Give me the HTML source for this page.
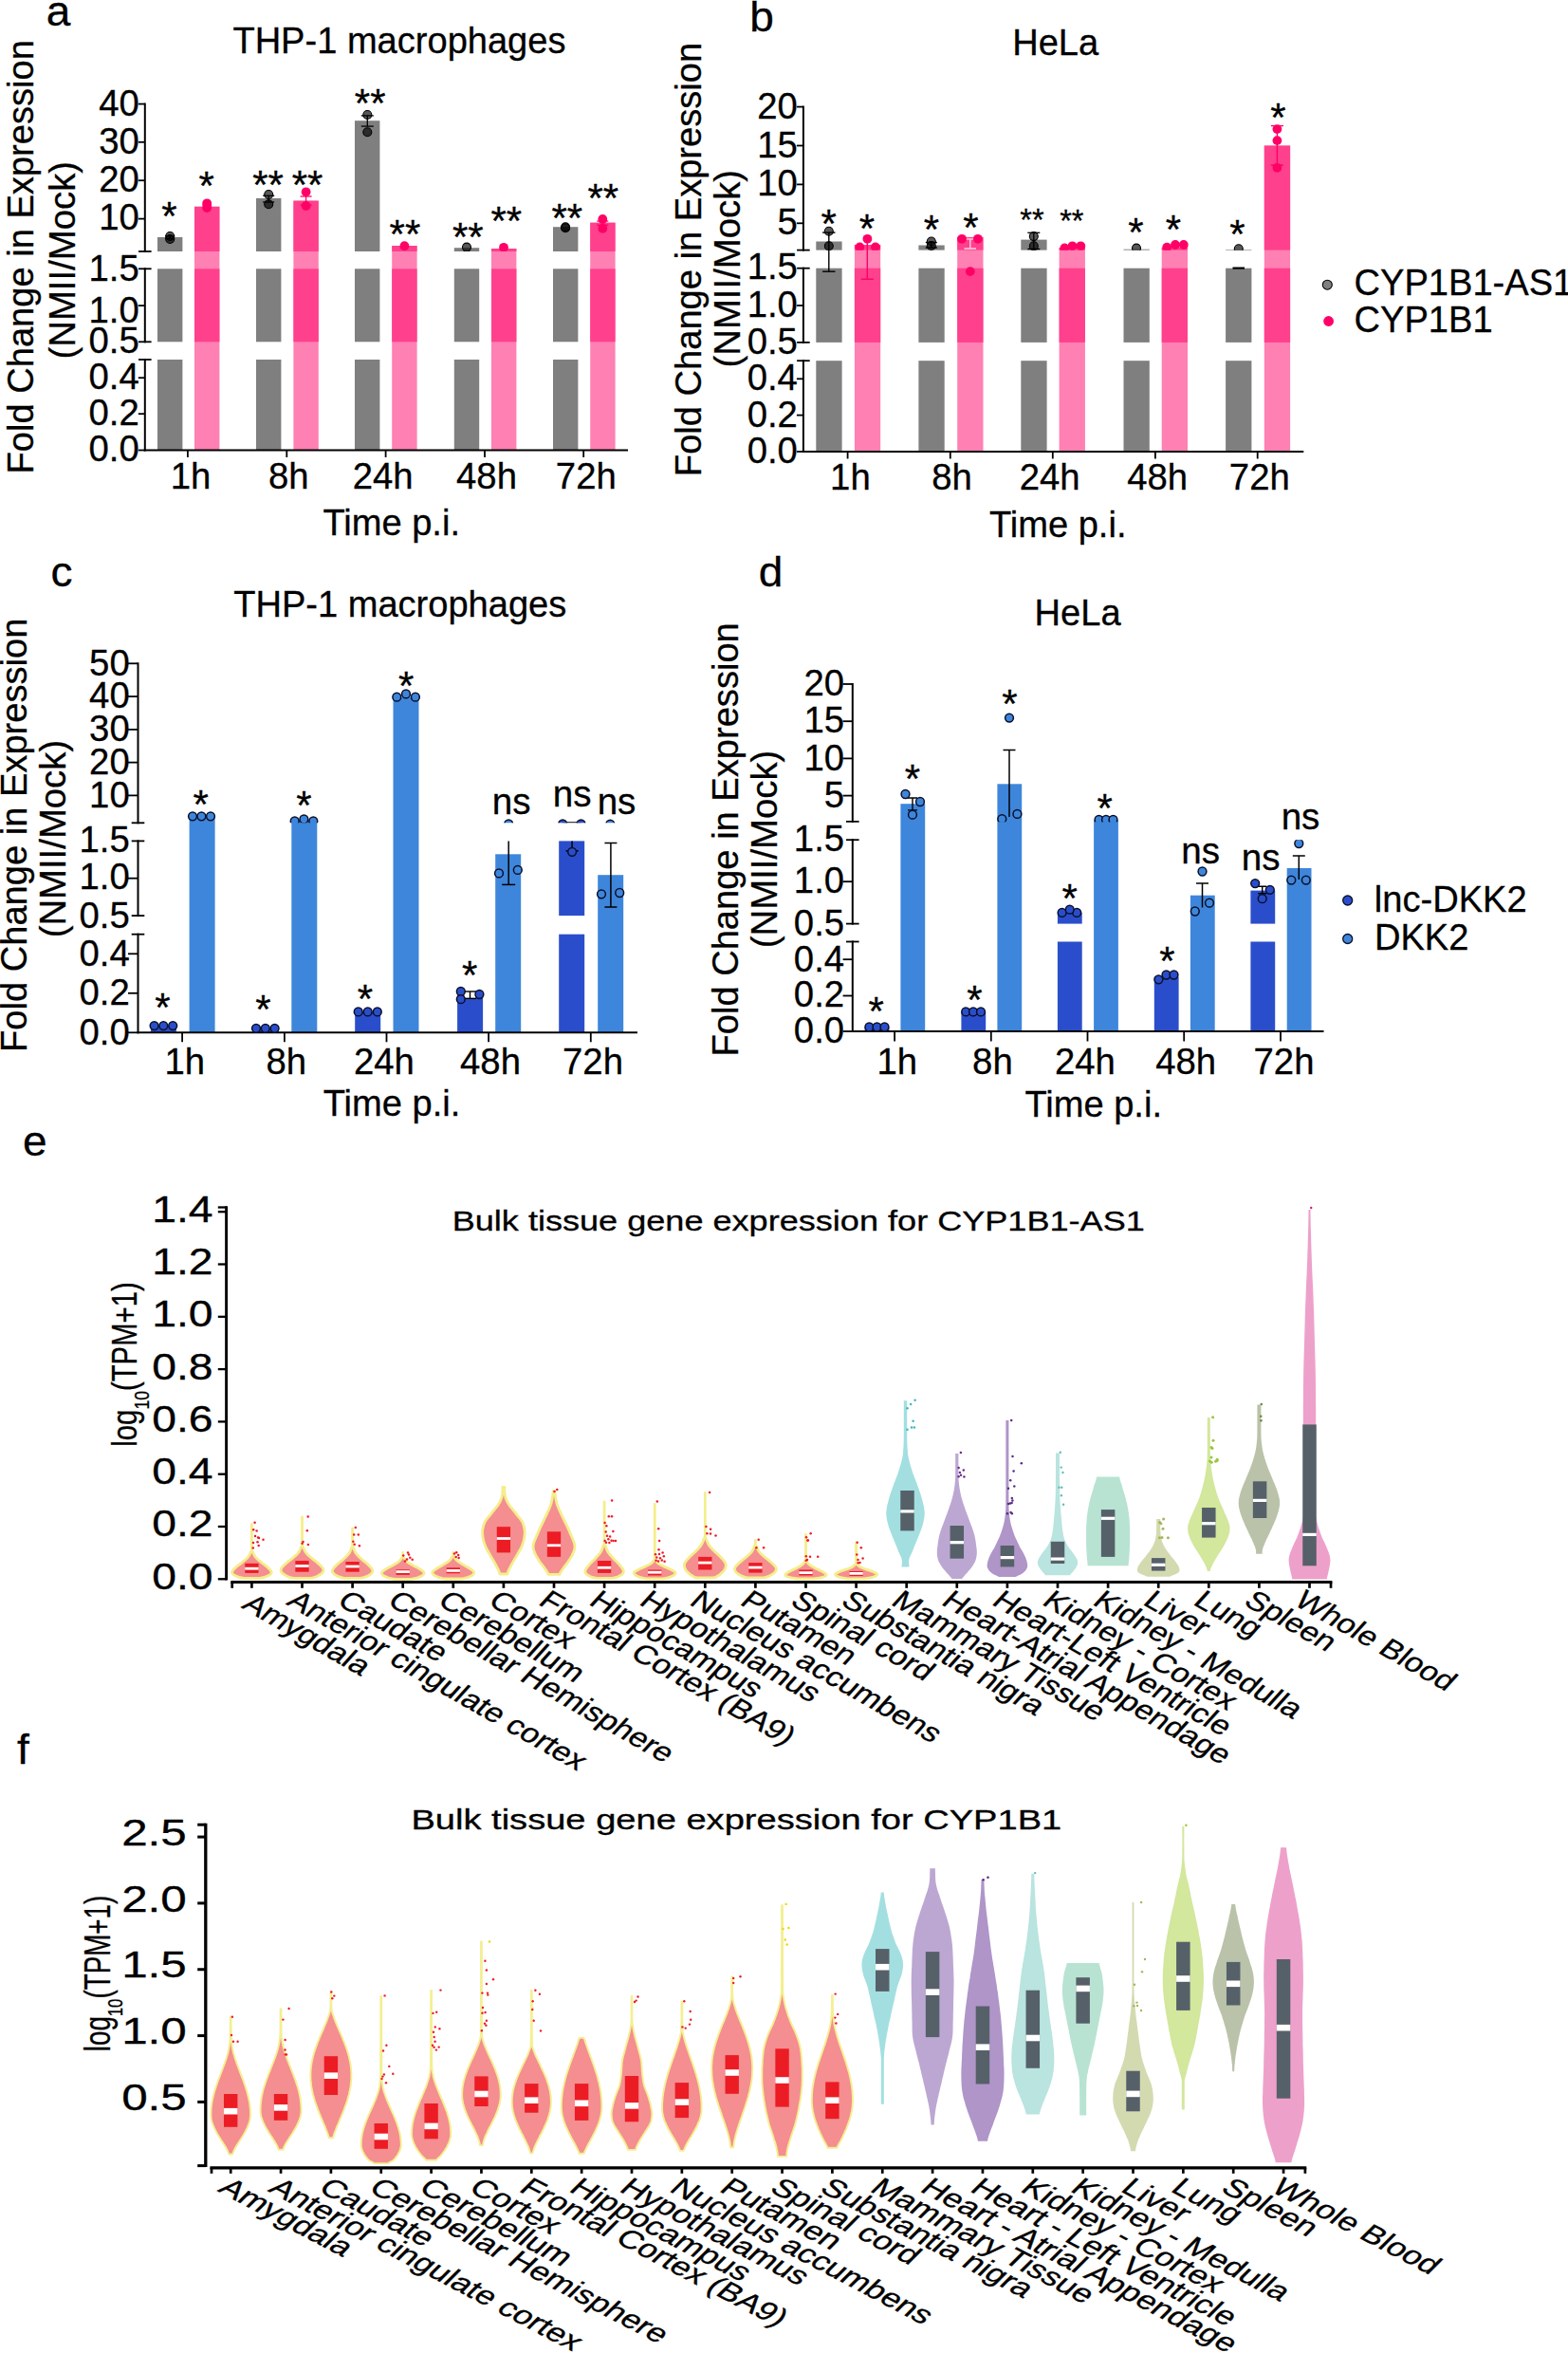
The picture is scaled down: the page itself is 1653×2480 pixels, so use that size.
<!DOCTYPE html>
<html><head><meta charset="utf-8"><title>Figure</title>
<style>html,body{margin:0;padding:0;background:#fff}svg{display:block}text{font-family:"Liberation Sans", Arial, Helvetica, sans-serif;stroke:#000;stroke-width:0.3px}</style>
</head><body>
<svg width="1653" height="2480" viewBox="0 0 1653 2480">
<rect x="0" y="0" width="1653" height="2480" fill="#fff"/>
<text transform="translate(48.80,27.30) scale(1.0177,1)" font-size="45.20" text-anchor="start" fill="#000">a</text>
<text transform="translate(245.40,55.50) scale(0.9687,1)" font-size="39.30" text-anchor="start" fill="#000">THP-1 macrophages</text>
<text transform="translate(35.30,270.80) rotate(-90) scale(0.9695,1)" font-size="39.30" text-anchor="middle" fill="#000">Fold Change in Expression</text>
<text transform="translate(79.00,274.20) rotate(-90) scale(0.9746,1)" font-size="39.30" text-anchor="middle" fill="#000">(NMII/Mock)</text>
<rect x="166.00" y="250.00" width="26.40" height="15.00" fill="#7f7f7f"/>
<rect x="166.00" y="283.30" width="26.40" height="77.00" fill="#7f7f7f"/>
<rect x="166.00" y="379.00" width="26.40" height="95.50" fill="#7f7f7f"/>
<rect x="270.00" y="209.00" width="26.40" height="56.00" fill="#7f7f7f"/>
<rect x="270.00" y="283.30" width="26.40" height="77.00" fill="#7f7f7f"/>
<rect x="270.00" y="379.00" width="26.40" height="95.50" fill="#7f7f7f"/>
<rect x="374.00" y="127.20" width="26.40" height="137.80" fill="#7f7f7f"/>
<rect x="374.00" y="283.30" width="26.40" height="77.00" fill="#7f7f7f"/>
<rect x="374.00" y="379.00" width="26.40" height="95.50" fill="#7f7f7f"/>
<rect x="478.80" y="261.20" width="26.40" height="3.80" fill="#7f7f7f"/>
<rect x="478.80" y="283.30" width="26.40" height="77.00" fill="#7f7f7f"/>
<rect x="478.80" y="379.00" width="26.40" height="95.50" fill="#7f7f7f"/>
<rect x="583.00" y="239.20" width="26.40" height="25.80" fill="#7f7f7f"/>
<rect x="583.00" y="283.30" width="26.40" height="77.00" fill="#7f7f7f"/>
<rect x="583.00" y="379.00" width="26.40" height="95.50" fill="#7f7f7f"/>
<rect x="205.00" y="217.80" width="26.40" height="256.70" fill="#ff80b3"/>
<rect x="205.00" y="217.80" width="26.40" height="47.20" fill="#ff408c"/>
<rect x="205.00" y="283.30" width="26.40" height="77.00" fill="#ff408c"/>
<rect x="309.40" y="211.60" width="26.40" height="262.90" fill="#ff80b3"/>
<rect x="309.40" y="211.60" width="26.40" height="53.40" fill="#ff408c"/>
<rect x="309.40" y="283.30" width="26.40" height="77.00" fill="#ff408c"/>
<rect x="413.20" y="259.00" width="26.40" height="215.50" fill="#ff80b3"/>
<rect x="413.20" y="259.00" width="26.40" height="6.00" fill="#ff408c"/>
<rect x="413.20" y="283.30" width="26.40" height="77.00" fill="#ff408c"/>
<rect x="518.00" y="262.00" width="26.40" height="212.50" fill="#ff80b3"/>
<rect x="518.00" y="262.00" width="26.40" height="3.00" fill="#ff408c"/>
<rect x="518.00" y="283.30" width="26.40" height="77.00" fill="#ff408c"/>
<rect x="622.20" y="234.70" width="26.40" height="239.80" fill="#ff80b3"/>
<rect x="622.20" y="234.70" width="26.40" height="30.30" fill="#ff408c"/>
<rect x="622.20" y="283.30" width="26.40" height="77.00" fill="#ff408c"/>
<line x1="152.80" y1="108.60" x2="152.80" y2="266.00" stroke="#000" stroke-width="2" stroke-linecap="butt"/>
<line x1="152.80" y1="282.30" x2="152.80" y2="361.30" stroke="#000" stroke-width="2" stroke-linecap="butt"/>
<line x1="152.80" y1="378.00" x2="152.80" y2="475.50" stroke="#000" stroke-width="2" stroke-linecap="butt"/>
<line x1="145.80" y1="109.60" x2="152.80" y2="109.60" stroke="#000" stroke-width="1.8" stroke-linecap="butt"/>
<line x1="145.80" y1="149.80" x2="152.80" y2="149.80" stroke="#000" stroke-width="1.8" stroke-linecap="butt"/>
<line x1="145.80" y1="190.20" x2="152.80" y2="190.20" stroke="#000" stroke-width="1.8" stroke-linecap="butt"/>
<line x1="145.80" y1="230.60" x2="152.80" y2="230.60" stroke="#000" stroke-width="1.8" stroke-linecap="butt"/>
<line x1="145.80" y1="322.10" x2="152.80" y2="322.10" stroke="#000" stroke-width="1.8" stroke-linecap="butt"/>
<line x1="145.80" y1="398.20" x2="152.80" y2="398.20" stroke="#000" stroke-width="1.8" stroke-linecap="butt"/>
<line x1="145.80" y1="436.20" x2="152.80" y2="436.20" stroke="#000" stroke-width="1.8" stroke-linecap="butt"/>
<line x1="145.80" y1="474.50" x2="152.80" y2="474.50" stroke="#000" stroke-width="1.8" stroke-linecap="butt"/>
<line x1="146.00" y1="265.00" x2="159.60" y2="265.00" stroke="#000" stroke-width="1.8" stroke-linecap="butt"/>
<line x1="146.00" y1="283.30" x2="159.60" y2="283.30" stroke="#000" stroke-width="1.8" stroke-linecap="butt"/>
<line x1="146.00" y1="360.30" x2="159.60" y2="360.30" stroke="#000" stroke-width="1.8" stroke-linecap="butt"/>
<line x1="146.00" y1="379.00" x2="159.60" y2="379.00" stroke="#000" stroke-width="1.8" stroke-linecap="butt"/>
<text transform="translate(146.80,121.80) scale(0.9709,1)" font-size="39.45" text-anchor="end" fill="#000">40</text>
<text transform="translate(146.80,162.20) scale(0.9709,1)" font-size="39.45" text-anchor="end" fill="#000">30</text>
<text transform="translate(146.80,201.60) scale(0.9709,1)" font-size="39.45" text-anchor="end" fill="#000">20</text>
<text transform="translate(146.80,242.30) scale(0.9709,1)" font-size="39.45" text-anchor="end" fill="#000">10</text>
<text transform="translate(146.80,295.70) scale(0.9709,1)" font-size="39.45" text-anchor="end" fill="#000">1.5</text>
<text transform="translate(146.80,340.20) scale(0.9709,1)" font-size="39.45" text-anchor="end" fill="#000">1.0</text>
<text transform="translate(146.80,371.60) scale(0.9709,1)" font-size="39.45" text-anchor="end" fill="#000">0.5</text>
<text transform="translate(146.80,409.80) scale(0.9709,1)" font-size="39.45" text-anchor="end" fill="#000">0.4</text>
<text transform="translate(146.80,448.40) scale(0.9709,1)" font-size="39.45" text-anchor="end" fill="#000">0.2</text>
<text transform="translate(146.80,486.30) scale(0.9709,1)" font-size="39.45" text-anchor="end" fill="#000">0.0</text>
<line x1="151.80" y1="474.50" x2="662.00" y2="474.50" stroke="#000" stroke-width="2" stroke-linecap="butt"/>
<line x1="197.90" y1="474.50" x2="197.90" y2="482.00" stroke="#000" stroke-width="1.8" stroke-linecap="butt"/>
<line x1="302.30" y1="474.50" x2="302.30" y2="482.00" stroke="#000" stroke-width="1.8" stroke-linecap="butt"/>
<line x1="406.60" y1="474.50" x2="406.60" y2="482.00" stroke="#000" stroke-width="1.8" stroke-linecap="butt"/>
<line x1="511.00" y1="474.50" x2="511.00" y2="482.00" stroke="#000" stroke-width="1.8" stroke-linecap="butt"/>
<line x1="615.20" y1="474.50" x2="615.20" y2="482.00" stroke="#000" stroke-width="1.8" stroke-linecap="butt"/>
<text transform="translate(201.00,515.00) scale(0.9709,1)" font-size="39.45" text-anchor="middle" fill="#000">1h</text>
<text transform="translate(304.20,515.00) scale(0.9709,1)" font-size="39.45" text-anchor="middle" fill="#000">8h</text>
<text transform="translate(403.70,515.00) scale(0.9709,1)" font-size="39.45" text-anchor="middle" fill="#000">24h</text>
<text transform="translate(513.00,515.00) scale(0.9709,1)" font-size="39.45" text-anchor="middle" fill="#000">48h</text>
<text transform="translate(617.80,515.00) scale(0.9709,1)" font-size="39.45" text-anchor="middle" fill="#000">72h</text>
<text transform="translate(412.70,564.30) scale(0.9695,1)" font-size="39.30" text-anchor="middle" fill="#000">Time p.i.</text>
<clipPath id="clipA"><rect x="150" y="0" width="520" height="265.0"/></clipPath>
<g clip-path="url(#clipA)">
<line x1="179.20" y1="248.80" x2="179.20" y2="251.60" stroke="#000" stroke-width="1.3" stroke-linecap="butt"/>
<line x1="174.20" y1="248.80" x2="184.20" y2="248.80" stroke="#000" stroke-width="1.3" stroke-linecap="butt"/>
<line x1="174.20" y1="251.60" x2="184.20" y2="251.60" stroke="#000" stroke-width="1.3" stroke-linecap="butt"/>
<circle cx="179.20" cy="249.00" r="4.50" fill="rgba(0,0,0,0.66)" stroke="#000" stroke-width="1.1"/>
<circle cx="179.20" cy="252.00" r="4.50" fill="rgba(0,0,0,0.66)" stroke="#000" stroke-width="1.1"/>
<line x1="218.20" y1="216.20" x2="218.20" y2="218.80" stroke="#ff0066" stroke-width="1.3" stroke-linecap="butt"/>
<line x1="213.20" y1="216.20" x2="223.20" y2="216.20" stroke="#ff0066" stroke-width="1.3" stroke-linecap="butt"/>
<line x1="213.20" y1="218.80" x2="223.20" y2="218.80" stroke="#ff0066" stroke-width="1.3" stroke-linecap="butt"/>
<circle cx="218.20" cy="214.30" r="4.90" fill="#ff0066"/>
<circle cx="218.20" cy="219.00" r="4.90" fill="#ff0066"/>
<line x1="283.20" y1="206.30" x2="283.20" y2="213.00" stroke="#000" stroke-width="1.3" stroke-linecap="butt"/>
<line x1="277.20" y1="206.30" x2="289.20" y2="206.30" stroke="#000" stroke-width="1.3" stroke-linecap="butt"/>
<line x1="277.20" y1="213.00" x2="289.20" y2="213.00" stroke="#000" stroke-width="1.3" stroke-linecap="butt"/>
<circle cx="283.20" cy="205.00" r="4.50" fill="rgba(0,0,0,0.66)" stroke="#000" stroke-width="1.1"/>
<circle cx="283.20" cy="215.30" r="4.50" fill="rgba(0,0,0,0.66)" stroke="#000" stroke-width="1.1"/>
<line x1="322.60" y1="207.00" x2="322.60" y2="216.00" stroke="#ff0066" stroke-width="1.3" stroke-linecap="butt"/>
<line x1="316.60" y1="207.00" x2="328.60" y2="207.00" stroke="#ff0066" stroke-width="1.3" stroke-linecap="butt"/>
<line x1="316.60" y1="216.00" x2="328.60" y2="216.00" stroke="#ff0066" stroke-width="1.3" stroke-linecap="butt"/>
<circle cx="322.60" cy="202.30" r="4.90" fill="#ff0066"/>
<circle cx="322.60" cy="217.00" r="4.90" fill="#ff0066"/>
<line x1="387.30" y1="121.90" x2="387.30" y2="133.10" stroke="#000" stroke-width="1.3" stroke-linecap="butt"/>
<line x1="380.80" y1="121.90" x2="393.80" y2="121.90" stroke="#000" stroke-width="1.3" stroke-linecap="butt"/>
<line x1="380.80" y1="133.10" x2="393.80" y2="133.10" stroke="#000" stroke-width="1.3" stroke-linecap="butt"/>
<circle cx="387.30" cy="121.00" r="4.50" fill="rgba(0,0,0,0.66)" stroke="#000" stroke-width="1.1"/>
<circle cx="387.30" cy="139.30" r="4.50" fill="rgba(0,0,0,0.66)" stroke="#000" stroke-width="1.1"/>
<circle cx="426.40" cy="259.20" r="4.90" fill="#ff0066"/>
<circle cx="492.00" cy="260.60" r="4.50" fill="rgba(0,0,0,0.66)" stroke="#000" stroke-width="1.1"/>
<circle cx="531.00" cy="260.80" r="4.90" fill="#ff0066"/>
<circle cx="596.10" cy="239.20" r="4.50" fill="rgba(0,0,0,0.66)" stroke="#000" stroke-width="1.1"/>
<circle cx="596.10" cy="240.20" r="4.50" fill="rgba(0,0,0,0.66)" stroke="#000" stroke-width="1.1"/>
<line x1="635.30" y1="233.00" x2="635.30" y2="237.20" stroke="#ff0066" stroke-width="1.3" stroke-linecap="butt"/>
<line x1="629.30" y1="233.00" x2="641.30" y2="233.00" stroke="#ff0066" stroke-width="1.3" stroke-linecap="butt"/>
<line x1="629.30" y1="237.20" x2="641.30" y2="237.20" stroke="#ff0066" stroke-width="1.3" stroke-linecap="butt"/>
<circle cx="635.30" cy="231.00" r="4.90" fill="#ff0066"/>
<circle cx="635.30" cy="240.80" r="4.90" fill="#ff0066"/>
</g>
<text transform="translate(178.40,241.70)" font-size="42.00" text-anchor="middle" fill="#000">*</text>
<text transform="translate(217.70,210.30)" font-size="42.00" text-anchor="middle" fill="#000">*</text>
<text transform="translate(282.60,209.30)" font-size="42.00" text-anchor="middle" fill="#000">**</text>
<text transform="translate(324.10,209.30)" font-size="42.00" text-anchor="middle" fill="#000">**</text>
<text transform="translate(390.20,122.90)" font-size="42.00" text-anchor="middle" fill="#000">**</text>
<text transform="translate(426.90,260.70)" font-size="42.00" text-anchor="middle" fill="#000">**</text>
<text transform="translate(493.30,263.90)" font-size="42.00" text-anchor="middle" fill="#000">**</text>
<text transform="translate(533.80,246.90)" font-size="42.00" text-anchor="middle" fill="#000">**</text>
<text transform="translate(597.80,244.10)" font-size="42.00" text-anchor="middle" fill="#000">**</text>
<text transform="translate(635.80,223.30)" font-size="42.00" text-anchor="middle" fill="#000">**</text>
<text transform="translate(790.30,32.80) scale(1.0337,1)" font-size="44.50" text-anchor="start" fill="#000">b</text>
<text transform="translate(1067.20,57.50) scale(0.9687,1)" font-size="39.30" text-anchor="start" fill="#000">HeLa</text>
<text transform="translate(739.00,273.50) rotate(-90) scale(0.9695,1)" font-size="39.30" text-anchor="middle" fill="#000">Fold Change in Expression</text>
<text transform="translate(779.80,283.20) rotate(-90) scale(0.9746,1)" font-size="39.30" text-anchor="middle" fill="#000">(NMII/Mock)</text>
<rect x="860.30" y="254.50" width="27.30" height="9.10" fill="#7f7f7f"/>
<rect x="860.30" y="282.70" width="27.30" height="78.20" fill="#7f7f7f"/>
<rect x="860.30" y="380.20" width="27.30" height="95.80" fill="#7f7f7f"/>
<rect x="968.40" y="258.50" width="27.30" height="5.10" fill="#7f7f7f"/>
<rect x="968.40" y="282.70" width="27.30" height="78.20" fill="#7f7f7f"/>
<rect x="968.40" y="380.20" width="27.30" height="95.80" fill="#7f7f7f"/>
<rect x="1076.30" y="252.60" width="27.30" height="11.00" fill="#7f7f7f"/>
<rect x="1076.30" y="282.70" width="27.30" height="78.20" fill="#7f7f7f"/>
<rect x="1076.30" y="380.20" width="27.30" height="95.80" fill="#7f7f7f"/>
<rect x="1184.50" y="262.70" width="27.30" height="0.90" fill="#7f7f7f"/>
<rect x="1184.50" y="282.70" width="27.30" height="78.20" fill="#7f7f7f"/>
<rect x="1184.50" y="380.20" width="27.30" height="95.80" fill="#7f7f7f"/>
<rect x="1292.10" y="263.00" width="27.30" height="0.60" fill="#7f7f7f"/>
<rect x="1292.10" y="282.70" width="27.30" height="78.20" fill="#7f7f7f"/>
<rect x="1292.10" y="380.20" width="27.30" height="95.80" fill="#7f7f7f"/>
<rect x="900.90" y="258.00" width="27.30" height="218.00" fill="#ff80b3"/>
<rect x="900.90" y="258.00" width="27.30" height="5.60" fill="#ff408c"/>
<rect x="900.90" y="282.70" width="27.30" height="78.20" fill="#ff408c"/>
<rect x="1009.20" y="250.00" width="27.30" height="226.00" fill="#ff80b3"/>
<rect x="1009.20" y="250.00" width="27.30" height="13.60" fill="#ff408c"/>
<rect x="1009.20" y="282.70" width="27.30" height="78.20" fill="#ff408c"/>
<rect x="1116.60" y="261.00" width="27.30" height="215.00" fill="#ff80b3"/>
<rect x="1116.60" y="261.00" width="27.30" height="2.60" fill="#ff408c"/>
<rect x="1116.60" y="282.70" width="27.30" height="78.20" fill="#ff408c"/>
<rect x="1224.70" y="261.00" width="27.30" height="215.00" fill="#ff80b3"/>
<rect x="1224.70" y="261.00" width="27.30" height="2.60" fill="#ff408c"/>
<rect x="1224.70" y="282.70" width="27.30" height="78.20" fill="#ff408c"/>
<rect x="1332.80" y="153.50" width="27.30" height="322.50" fill="#ff80b3"/>
<rect x="1332.80" y="153.50" width="27.30" height="110.10" fill="#ff408c"/>
<rect x="1332.80" y="282.70" width="27.30" height="78.20" fill="#ff408c"/>
<line x1="846.90" y1="111.60" x2="846.90" y2="264.60" stroke="#000" stroke-width="2" stroke-linecap="butt"/>
<line x1="846.90" y1="281.70" x2="846.90" y2="361.90" stroke="#000" stroke-width="2" stroke-linecap="butt"/>
<line x1="846.90" y1="379.20" x2="846.90" y2="477.00" stroke="#000" stroke-width="2" stroke-linecap="butt"/>
<line x1="839.90" y1="112.60" x2="846.90" y2="112.60" stroke="#000" stroke-width="1.8" stroke-linecap="butt"/>
<line x1="839.90" y1="153.50" x2="846.90" y2="153.50" stroke="#000" stroke-width="1.8" stroke-linecap="butt"/>
<line x1="839.90" y1="194.40" x2="846.90" y2="194.40" stroke="#000" stroke-width="1.8" stroke-linecap="butt"/>
<line x1="839.90" y1="235.30" x2="846.90" y2="235.30" stroke="#000" stroke-width="1.8" stroke-linecap="butt"/>
<line x1="839.90" y1="322.00" x2="846.90" y2="322.00" stroke="#000" stroke-width="1.8" stroke-linecap="butt"/>
<line x1="839.90" y1="399.30" x2="846.90" y2="399.30" stroke="#000" stroke-width="1.8" stroke-linecap="butt"/>
<line x1="839.90" y1="437.60" x2="846.90" y2="437.60" stroke="#000" stroke-width="1.8" stroke-linecap="butt"/>
<line x1="839.90" y1="476.00" x2="846.90" y2="476.00" stroke="#000" stroke-width="1.8" stroke-linecap="butt"/>
<line x1="840.10" y1="263.60" x2="853.70" y2="263.60" stroke="#000" stroke-width="1.8" stroke-linecap="butt"/>
<line x1="840.10" y1="282.70" x2="853.70" y2="282.70" stroke="#000" stroke-width="1.8" stroke-linecap="butt"/>
<line x1="840.10" y1="360.90" x2="853.70" y2="360.90" stroke="#000" stroke-width="1.8" stroke-linecap="butt"/>
<line x1="840.10" y1="380.20" x2="853.70" y2="380.20" stroke="#000" stroke-width="1.8" stroke-linecap="butt"/>
<text transform="translate(840.90,124.80) scale(0.9709,1)" font-size="39.45" text-anchor="end" fill="#000">20</text>
<text transform="translate(840.90,165.70) scale(0.9709,1)" font-size="39.45" text-anchor="end" fill="#000">15</text>
<text transform="translate(840.90,206.30) scale(0.9709,1)" font-size="39.45" text-anchor="end" fill="#000">10</text>
<text transform="translate(840.90,247.20) scale(0.9709,1)" font-size="39.45" text-anchor="end" fill="#000">5</text>
<text transform="translate(840.90,294.40) scale(0.9709,1)" font-size="39.45" text-anchor="end" fill="#000">1.5</text>
<text transform="translate(840.90,333.60) scale(0.9709,1)" font-size="39.45" text-anchor="end" fill="#000">1.0</text>
<text transform="translate(840.90,372.50) scale(0.9709,1)" font-size="39.45" text-anchor="end" fill="#000">0.5</text>
<text transform="translate(840.90,411.30) scale(0.9709,1)" font-size="39.45" text-anchor="end" fill="#000">0.4</text>
<text transform="translate(840.90,449.60) scale(0.9709,1)" font-size="39.45" text-anchor="end" fill="#000">0.2</text>
<text transform="translate(840.90,488.20) scale(0.9709,1)" font-size="39.45" text-anchor="end" fill="#000">0.0</text>
<line x1="845.90" y1="476.00" x2="1374.30" y2="476.00" stroke="#000" stroke-width="2" stroke-linecap="butt"/>
<line x1="893.60" y1="476.00" x2="893.60" y2="483.50" stroke="#000" stroke-width="1.8" stroke-linecap="butt"/>
<line x1="1001.80" y1="476.00" x2="1001.80" y2="483.50" stroke="#000" stroke-width="1.8" stroke-linecap="butt"/>
<line x1="1109.80" y1="476.00" x2="1109.80" y2="483.50" stroke="#000" stroke-width="1.8" stroke-linecap="butt"/>
<line x1="1217.90" y1="476.00" x2="1217.90" y2="483.50" stroke="#000" stroke-width="1.8" stroke-linecap="butt"/>
<line x1="1325.70" y1="476.00" x2="1325.70" y2="483.50" stroke="#000" stroke-width="1.8" stroke-linecap="butt"/>
<text transform="translate(896.40,516.20) scale(0.9709,1)" font-size="39.45" text-anchor="middle" fill="#000">1h</text>
<text transform="translate(1003.60,516.20) scale(0.9709,1)" font-size="39.45" text-anchor="middle" fill="#000">8h</text>
<text transform="translate(1106.70,516.20) scale(0.9709,1)" font-size="39.45" text-anchor="middle" fill="#000">24h</text>
<text transform="translate(1220.20,516.20) scale(0.9709,1)" font-size="39.45" text-anchor="middle" fill="#000">48h</text>
<text transform="translate(1327.80,516.20) scale(0.9709,1)" font-size="39.45" text-anchor="middle" fill="#000">72h</text>
<text transform="translate(1115.20,565.70) scale(0.9695,1)" font-size="39.30" text-anchor="middle" fill="#000">Time p.i.</text>
<line x1="873.80" y1="245.10" x2="873.80" y2="286.20" stroke="#000" stroke-width="1.4" stroke-linecap="butt"/>
<line x1="867.10" y1="245.10" x2="880.50" y2="245.10" stroke="#000" stroke-width="1.4" stroke-linecap="butt"/>
<line x1="867.10" y1="286.20" x2="880.50" y2="286.20" stroke="#000" stroke-width="1.4" stroke-linecap="butt"/>
<line x1="914.30" y1="252.00" x2="914.30" y2="294.20" stroke="#ff0066" stroke-width="1.4" stroke-linecap="butt"/>
<line x1="907.70" y1="294.20" x2="920.90" y2="294.20" stroke="#ff0066" stroke-width="1.4" stroke-linecap="butt"/>
<line x1="1299.50" y1="282.60" x2="1312.00" y2="282.60" stroke="#000" stroke-width="2.2" stroke-linecap="butt"/>
<clipPath id="clipB"><rect x="845" y="0" width="540" height="263.7"/></clipPath>
<g clip-path="url(#clipB)">
<circle cx="873.80" cy="243.80" r="4.50" fill="rgba(0,0,0,0.66)" stroke="#000" stroke-width="1.1"/>
<circle cx="873.80" cy="259.30" r="4.50" fill="rgba(0,0,0,0.66)" stroke="#000" stroke-width="1.1"/>
<circle cx="914.40" cy="251.80" r="4.90" fill="#ff0066"/>
<circle cx="906.40" cy="260.40" r="4.90" fill="#ff0066"/>
<circle cx="922.90" cy="260.40" r="4.90" fill="#ff0066"/>
<line x1="981.80" y1="255.50" x2="981.80" y2="261.00" stroke="#000" stroke-width="1.3" stroke-linecap="butt"/>
<line x1="975.80" y1="255.50" x2="987.80" y2="255.50" stroke="#000" stroke-width="1.3" stroke-linecap="butt"/>
<line x1="975.80" y1="261.00" x2="987.80" y2="261.00" stroke="#000" stroke-width="1.3" stroke-linecap="butt"/>
<circle cx="981.80" cy="254.50" r="4.50" fill="rgba(0,0,0,0.66)" stroke="#000" stroke-width="1.1"/>
<circle cx="981.80" cy="259.00" r="4.50" fill="rgba(0,0,0,0.66)" stroke="#000" stroke-width="1.1"/>
<line x1="1022.80" y1="252.00" x2="1022.80" y2="262.00" stroke="#ffd0e2" stroke-width="1.4" stroke-linecap="butt"/>
<line x1="1016.50" y1="262.00" x2="1029.00" y2="262.00" stroke="#ffd0e2" stroke-width="1.4" stroke-linecap="butt"/>
<line x1="1018.00" y1="252.00" x2="1027.50" y2="252.00" stroke="#ffd0e2" stroke-width="1.4" stroke-linecap="butt"/>
<circle cx="1014.00" cy="251.80" r="4.90" fill="#ff0066"/>
<circle cx="1030.90" cy="251.80" r="4.90" fill="#ff0066"/>
<line x1="1089.80" y1="245.30" x2="1089.80" y2="262.50" stroke="#000" stroke-width="1.3" stroke-linecap="butt"/>
<line x1="1083.30" y1="245.30" x2="1096.30" y2="245.30" stroke="#000" stroke-width="1.3" stroke-linecap="butt"/>
<line x1="1083.30" y1="262.50" x2="1096.30" y2="262.50" stroke="#000" stroke-width="1.3" stroke-linecap="butt"/>
<circle cx="1089.80" cy="249.10" r="4.50" fill="rgba(0,0,0,0.66)" stroke="#000" stroke-width="1.1"/>
<circle cx="1089.80" cy="259.30" r="4.50" fill="rgba(0,0,0,0.66)" stroke="#000" stroke-width="1.1"/>
<circle cx="1122.30" cy="261.40" r="4.90" fill="#ff0066"/>
<circle cx="1130.50" cy="259.30" r="4.90" fill="#ff0066"/>
<circle cx="1139.30" cy="259.30" r="4.90" fill="#ff0066"/>
<circle cx="1198.00" cy="261.60" r="4.50" fill="rgba(0,0,0,0.66)" stroke="#000" stroke-width="1.1"/>
<circle cx="1230.20" cy="260.60" r="4.90" fill="#ff0066"/>
<circle cx="1239.00" cy="258.00" r="4.90" fill="#ff0066"/>
<circle cx="1247.80" cy="258.00" r="4.90" fill="#ff0066"/>
<circle cx="1305.80" cy="262.20" r="4.50" fill="rgba(0,0,0,0.66)" stroke="#000" stroke-width="1.1"/>
<line x1="1346.40" y1="132.60" x2="1346.40" y2="174.10" stroke="#ff0066" stroke-width="1.4" stroke-linecap="butt"/>
<line x1="1339.90" y1="132.60" x2="1352.90" y2="132.60" stroke="#ff0066" stroke-width="1.4" stroke-linecap="butt"/>
<line x1="1339.90" y1="174.10" x2="1352.90" y2="174.10" stroke="#ff0066" stroke-width="1.4" stroke-linecap="butt"/>
<circle cx="1346.40" cy="136.10" r="4.90" fill="#ff0066"/>
<circle cx="1346.40" cy="148.10" r="4.90" fill="#ff0066"/>
<circle cx="1346.40" cy="176.80" r="4.90" fill="#ff0066"/>
</g>
<circle cx="1022.80" cy="286.10" r="4.90" fill="#ff0066"/>
<text transform="translate(873.60,249.50)" font-size="42.00" text-anchor="middle" fill="#000">*</text>
<text transform="translate(913.80,254.90)" font-size="42.00" text-anchor="middle" fill="#000">*</text>
<text transform="translate(981.80,256.20)" font-size="42.00" text-anchor="middle" fill="#000">*</text>
<text transform="translate(1023.30,254.10)" font-size="42.00" text-anchor="middle" fill="#000">*</text>
<text transform="translate(1088.00,243.16)" font-size="32.50" text-anchor="middle" fill="#000">**</text>
<text transform="translate(1129.80,244.26)" font-size="32.50" text-anchor="middle" fill="#000">**</text>
<text transform="translate(1197.30,258.60)" font-size="42.00" text-anchor="middle" fill="#000">*</text>
<text transform="translate(1237.00,255.90)" font-size="42.00" text-anchor="middle" fill="#000">*</text>
<text transform="translate(1304.50,260.70)" font-size="42.00" text-anchor="middle" fill="#000">*</text>
<text transform="translate(1347.30,138.10)" font-size="42.00" text-anchor="middle" fill="#000">*</text>
<circle cx="1399.30" cy="300.20" r="5.00" fill="#808080" stroke="#000" stroke-width="1.1"/>
<text transform="translate(1427.50,311.00) scale(0.9695,1)" font-size="39.30" text-anchor="start" fill="#000">CYP1B1-AS1</text>
<circle cx="1400.60" cy="338.50" r="5.40" fill="#ff0066"/>
<text transform="translate(1427.50,349.70) scale(0.9695,1)" font-size="39.30" text-anchor="start" fill="#000">CYP1B1</text>
<text transform="translate(53.60,618.20) scale(1.0222,1)" font-size="45.00" text-anchor="start" fill="#000">c</text>
<text transform="translate(246.20,649.70) scale(0.9687,1)" font-size="39.30" text-anchor="start" fill="#000">THP-1 macrophages</text>
<text transform="translate(28.30,880.30) rotate(-90) scale(0.9695,1)" font-size="39.30" text-anchor="middle" fill="#000">Fold Change in Expression</text>
<text transform="translate(69.20,884.10) rotate(-90) scale(0.9746,1)" font-size="39.30" text-anchor="middle" fill="#000">(NMII/Mock)</text>
<rect x="158.90" y="1081.00" width="27.00" height="7.30" fill="#2a4ecb"/>
<rect x="266.50" y="1084.30" width="27.00" height="4.00" fill="#2a4ecb"/>
<rect x="374.20" y="1066.40" width="27.00" height="21.90" fill="#2a4ecb"/>
<rect x="482.10" y="1049.00" width="27.00" height="39.30" fill="#2a4ecb"/>
<rect x="589.20" y="886.40" width="27.00" height="78.70" fill="#2a4ecb"/>
<rect x="589.20" y="984.70" width="27.00" height="103.60" fill="#2a4ecb"/>
<rect x="199.60" y="860.60" width="27.00" height="227.70" fill="#3e86db"/>
<rect x="307.30" y="864.60" width="27.00" height="223.70" fill="#3e86db"/>
<rect x="414.50" y="734.70" width="27.00" height="353.60" fill="#3e86db"/>
<rect x="522.20" y="900.30" width="27.00" height="188.00" fill="#3e86db"/>
<rect x="630.20" y="922.20" width="27.00" height="166.10" fill="#3e86db"/>
<line x1="145.50" y1="698.30" x2="145.50" y2="868.30" stroke="#000" stroke-width="2" stroke-linecap="butt"/>
<line x1="145.50" y1="885.40" x2="145.50" y2="966.10" stroke="#000" stroke-width="2" stroke-linecap="butt"/>
<line x1="145.50" y1="983.70" x2="145.50" y2="1089.30" stroke="#000" stroke-width="2" stroke-linecap="butt"/>
<line x1="135.00" y1="699.30" x2="145.50" y2="699.30" stroke="#000" stroke-width="1.8" stroke-linecap="butt"/>
<line x1="135.00" y1="734.10" x2="145.50" y2="734.10" stroke="#000" stroke-width="1.8" stroke-linecap="butt"/>
<line x1="135.00" y1="768.90" x2="145.50" y2="768.90" stroke="#000" stroke-width="1.8" stroke-linecap="butt"/>
<line x1="135.00" y1="803.60" x2="145.50" y2="803.60" stroke="#000" stroke-width="1.8" stroke-linecap="butt"/>
<line x1="135.00" y1="838.40" x2="145.50" y2="838.40" stroke="#000" stroke-width="1.8" stroke-linecap="butt"/>
<line x1="135.00" y1="925.70" x2="145.50" y2="925.70" stroke="#000" stroke-width="1.8" stroke-linecap="butt"/>
<line x1="135.00" y1="1005.30" x2="145.50" y2="1005.30" stroke="#000" stroke-width="1.8" stroke-linecap="butt"/>
<line x1="135.00" y1="1046.80" x2="145.50" y2="1046.80" stroke="#000" stroke-width="1.8" stroke-linecap="butt"/>
<line x1="135.00" y1="1088.30" x2="145.50" y2="1088.30" stroke="#000" stroke-width="1.8" stroke-linecap="butt"/>
<line x1="138.70" y1="867.30" x2="152.30" y2="867.30" stroke="#000" stroke-width="1.8" stroke-linecap="butt"/>
<line x1="138.70" y1="886.40" x2="152.30" y2="886.40" stroke="#000" stroke-width="1.8" stroke-linecap="butt"/>
<line x1="138.70" y1="965.10" x2="152.30" y2="965.10" stroke="#000" stroke-width="1.8" stroke-linecap="butt"/>
<line x1="138.70" y1="984.70" x2="152.30" y2="984.70" stroke="#000" stroke-width="1.8" stroke-linecap="butt"/>
<text transform="translate(136.70,711.50) scale(0.9709,1)" font-size="39.45" text-anchor="end" fill="#000">50</text>
<text transform="translate(136.70,746.30) scale(0.9709,1)" font-size="39.45" text-anchor="end" fill="#000">40</text>
<text transform="translate(136.70,781.10) scale(0.9709,1)" font-size="39.45" text-anchor="end" fill="#000">30</text>
<text transform="translate(136.70,815.80) scale(0.9709,1)" font-size="39.45" text-anchor="end" fill="#000">20</text>
<text transform="translate(136.70,850.60) scale(0.9709,1)" font-size="39.45" text-anchor="end" fill="#000">10</text>
<text transform="translate(136.70,897.70) scale(0.9709,1)" font-size="39.45" text-anchor="end" fill="#000">1.5</text>
<text transform="translate(136.70,937.20) scale(0.9709,1)" font-size="39.45" text-anchor="end" fill="#000">1.0</text>
<text transform="translate(136.70,977.50) scale(0.9709,1)" font-size="39.45" text-anchor="end" fill="#000">0.5</text>
<text transform="translate(136.70,1017.60) scale(0.9709,1)" font-size="39.45" text-anchor="end" fill="#000">0.4</text>
<text transform="translate(136.70,1059.10) scale(0.9709,1)" font-size="39.45" text-anchor="end" fill="#000">0.2</text>
<text transform="translate(136.70,1100.60) scale(0.9709,1)" font-size="39.45" text-anchor="end" fill="#000">0.0</text>
<line x1="144.50" y1="1088.30" x2="672.00" y2="1088.30" stroke="#000" stroke-width="2" stroke-linecap="butt"/>
<line x1="192.10" y1="1088.30" x2="192.10" y2="1098.30" stroke="#000" stroke-width="1.8" stroke-linecap="butt"/>
<line x1="299.90" y1="1088.30" x2="299.90" y2="1098.30" stroke="#000" stroke-width="1.8" stroke-linecap="butt"/>
<line x1="407.50" y1="1088.30" x2="407.50" y2="1098.30" stroke="#000" stroke-width="1.8" stroke-linecap="butt"/>
<line x1="515.10" y1="1088.30" x2="515.10" y2="1098.30" stroke="#000" stroke-width="1.8" stroke-linecap="butt"/>
<line x1="622.80" y1="1088.30" x2="622.80" y2="1098.30" stroke="#000" stroke-width="1.8" stroke-linecap="butt"/>
<text transform="translate(194.80,1132.30) scale(0.9709,1)" font-size="39.45" text-anchor="middle" fill="#000">1h</text>
<text transform="translate(301.80,1132.30) scale(0.9709,1)" font-size="39.45" text-anchor="middle" fill="#000">8h</text>
<text transform="translate(404.90,1132.30) scale(0.9709,1)" font-size="39.45" text-anchor="middle" fill="#000">24h</text>
<text transform="translate(517.00,1132.30) scale(0.9709,1)" font-size="39.45" text-anchor="middle" fill="#000">48h</text>
<text transform="translate(625.00,1132.30) scale(0.9709,1)" font-size="39.45" text-anchor="middle" fill="#000">72h</text>
<text transform="translate(413.00,1176.40) scale(0.9695,1)" font-size="39.30" text-anchor="middle" fill="#000">Time p.i.</text>
<clipPath id="clipC1"><rect x="140" y="600" width="540" height="267.3"/></clipPath>
<g clip-path="url(#clipC1)">
<circle cx="203.00" cy="860.30" r="4.40" fill="#3e86db" stroke="#0a0f2a" stroke-width="1.5"/>
<circle cx="212.40" cy="860.30" r="4.40" fill="#3e86db" stroke="#0a0f2a" stroke-width="1.5"/>
<circle cx="222.00" cy="860.30" r="4.40" fill="#3e86db" stroke="#0a0f2a" stroke-width="1.5"/>
<circle cx="310.70" cy="865.40" r="4.40" fill="#3e86db" stroke="#0a0f2a" stroke-width="1.5"/>
<circle cx="330.30" cy="865.40" r="4.40" fill="#3e86db" stroke="#0a0f2a" stroke-width="1.5"/>
<circle cx="320.40" cy="863.40" r="4.40" fill="#3e86db" stroke="#0a0f2a" stroke-width="1.5"/>
<circle cx="418.30" cy="734.70" r="4.40" fill="#3e86db" stroke="#0a0f2a" stroke-width="1.5"/>
<circle cx="437.90" cy="734.70" r="4.40" fill="#3e86db" stroke="#0a0f2a" stroke-width="1.5"/>
<circle cx="428.00" cy="731.40" r="4.40" fill="#3e86db" stroke="#0a0f2a" stroke-width="1.5"/>
<circle cx="536.20" cy="868.30" r="4.40" fill="#3e86db" stroke="#0a0f2a" stroke-width="1.5"/>
<line x1="593.20" y1="867.00" x2="612.50" y2="867.00" stroke="#000" stroke-width="1.5" stroke-linecap="butt"/>
<circle cx="593.20" cy="868.30" r="4.40" fill="#2a4ecb" stroke="#0a0f2a" stroke-width="1.5"/>
<circle cx="612.50" cy="868.30" r="4.40" fill="#2a4ecb" stroke="#0a0f2a" stroke-width="1.5"/>
<circle cx="643.30" cy="868.60" r="4.40" fill="#3e86db" stroke="#0a0f2a" stroke-width="1.5"/>
</g>
<circle cx="162.60" cy="1081.10" r="4.40" fill="#2a4ecb" stroke="#0a0f2a" stroke-width="1.5"/>
<circle cx="172.30" cy="1081.10" r="4.40" fill="#2a4ecb" stroke="#0a0f2a" stroke-width="1.5"/>
<circle cx="182.20" cy="1081.10" r="4.40" fill="#2a4ecb" stroke="#0a0f2a" stroke-width="1.5"/>
<circle cx="270.00" cy="1083.80" r="4.40" fill="#2a4ecb" stroke="#0a0f2a" stroke-width="1.5"/>
<circle cx="279.80" cy="1083.80" r="4.40" fill="#2a4ecb" stroke="#0a0f2a" stroke-width="1.5"/>
<circle cx="289.60" cy="1083.80" r="4.40" fill="#2a4ecb" stroke="#0a0f2a" stroke-width="1.5"/>
<circle cx="377.70" cy="1066.40" r="4.40" fill="#2a4ecb" stroke="#0a0f2a" stroke-width="1.5"/>
<circle cx="387.70" cy="1066.40" r="4.40" fill="#2a4ecb" stroke="#0a0f2a" stroke-width="1.5"/>
<circle cx="397.80" cy="1066.40" r="4.40" fill="#2a4ecb" stroke="#0a0f2a" stroke-width="1.5"/>
<rect x="489.50" y="1045.60" width="12.00" height="6.30" fill="#ffffff"/>
<line x1="495.50" y1="1045.00" x2="495.50" y2="1052.40" stroke="#000" stroke-width="1.4" stroke-linecap="butt"/>
<line x1="489.00" y1="1045.00" x2="502.00" y2="1045.00" stroke="#000" stroke-width="1.4" stroke-linecap="butt"/>
<line x1="489.00" y1="1052.40" x2="502.00" y2="1052.40" stroke="#000" stroke-width="1.4" stroke-linecap="butt"/>
<circle cx="485.80" cy="1045.00" r="4.40" fill="#2a4ecb" stroke="#0a0f2a" stroke-width="1.5"/>
<circle cx="485.80" cy="1053.20" r="4.40" fill="#2a4ecb" stroke="#0a0f2a" stroke-width="1.5"/>
<circle cx="505.40" cy="1048.00" r="4.40" fill="#2a4ecb" stroke="#0a0f2a" stroke-width="1.5"/>
<line x1="536.20" y1="886.40" x2="536.20" y2="932.40" stroke="#000" stroke-width="1.5" stroke-linecap="butt"/>
<line x1="529.20" y1="932.40" x2="543.20" y2="932.40" stroke="#000" stroke-width="1.5" stroke-linecap="butt"/>
<circle cx="526.00" cy="920.40" r="4.40" fill="#3e86db" stroke="#0a0f2a" stroke-width="1.5"/>
<circle cx="545.80" cy="916.90" r="4.40" fill="#3e86db" stroke="#0a0f2a" stroke-width="1.5"/>
<line x1="603.10" y1="886.40" x2="603.10" y2="896.80" stroke="#000" stroke-width="1.5" stroke-linecap="butt"/>
<line x1="596.50" y1="896.80" x2="609.70" y2="896.80" stroke="#000" stroke-width="1.5" stroke-linecap="butt"/>
<circle cx="603.10" cy="897.80" r="4.40" fill="#2a4ecb" stroke="#0a0f2a" stroke-width="1.5"/>
<line x1="643.90" y1="888.50" x2="643.90" y2="956.00" stroke="#000" stroke-width="1.5" stroke-linecap="butt"/>
<line x1="637.40" y1="888.50" x2="650.40" y2="888.50" stroke="#000" stroke-width="1.5" stroke-linecap="butt"/>
<line x1="637.40" y1="956.00" x2="650.40" y2="956.00" stroke="#000" stroke-width="1.5" stroke-linecap="butt"/>
<circle cx="634.00" cy="942.30" r="4.40" fill="#3e86db" stroke="#0a0f2a" stroke-width="1.5"/>
<circle cx="653.20" cy="941.00" r="4.40" fill="#3e86db" stroke="#0a0f2a" stroke-width="1.5"/>
<text transform="translate(171.40,1076.30)" font-size="42.00" text-anchor="middle" fill="#000">*</text>
<text transform="translate(211.60,862.20)" font-size="42.00" text-anchor="middle" fill="#000">*</text>
<text transform="translate(277.30,1078.20)" font-size="42.00" text-anchor="middle" fill="#000">*</text>
<text transform="translate(320.40,863.00)" font-size="42.00" text-anchor="middle" fill="#000">*</text>
<text transform="translate(385.00,1066.70)" font-size="42.00" text-anchor="middle" fill="#000">*</text>
<text transform="translate(428.20,736.90)" font-size="42.00" text-anchor="middle" fill="#000">*</text>
<text transform="translate(495.20,1041.90)" font-size="42.00" text-anchor="middle" fill="#000">*</text>
<text transform="translate(539.10,858.40) scale(0.9804,1)" font-size="39.37" text-anchor="middle" fill="#000">ns</text>
<text transform="translate(603.20,849.50) scale(0.9804,1)" font-size="39.37" text-anchor="middle" fill="#000">ns</text>
<text transform="translate(650.00,858.40) scale(0.9804,1)" font-size="39.37" text-anchor="middle" fill="#000">ns</text>
<text transform="translate(799.70,618.30) scale(1.0337,1)" font-size="44.50" text-anchor="start" fill="#000">d</text>
<text transform="translate(1090.60,658.80) scale(0.9687,1)" font-size="39.30" text-anchor="start" fill="#000">HeLa</text>
<text transform="translate(778.00,884.90) rotate(-90) scale(0.9695,1)" font-size="39.30" text-anchor="middle" fill="#000">Fold Change in Expression</text>
<text transform="translate(818.70,894.90) rotate(-90) scale(0.9746,1)" font-size="39.30" text-anchor="middle" fill="#000">(NMII/Mock)</text>
<rect x="911.60" y="1082.50" width="25.80" height="4.50" fill="#2a4ecb"/>
<rect x="1013.40" y="1066.40" width="25.80" height="20.60" fill="#2a4ecb"/>
<rect x="1114.90" y="961.90" width="25.80" height="11.70" fill="#2a4ecb"/>
<rect x="1114.90" y="992.50" width="25.80" height="94.50" fill="#2a4ecb"/>
<rect x="1216.80" y="1029.70" width="25.80" height="57.30" fill="#2a4ecb"/>
<rect x="1318.40" y="938.60" width="25.80" height="35.00" fill="#2a4ecb"/>
<rect x="1318.40" y="992.50" width="25.80" height="94.50" fill="#2a4ecb"/>
<rect x="949.40" y="847.20" width="25.80" height="239.80" fill="#3e86db"/>
<rect x="1051.40" y="826.30" width="25.80" height="260.70" fill="#3e86db"/>
<rect x="1153.10" y="864.60" width="25.80" height="222.40" fill="#3e86db"/>
<rect x="1254.90" y="943.70" width="25.80" height="143.30" fill="#3e86db"/>
<rect x="1356.70" y="915.00" width="25.80" height="172.00" fill="#3e86db"/>
<line x1="898.80" y1="720.00" x2="898.80" y2="866.90" stroke="#000" stroke-width="2" stroke-linecap="butt"/>
<line x1="898.80" y1="884.20" x2="898.80" y2="974.60" stroke="#000" stroke-width="2" stroke-linecap="butt"/>
<line x1="898.80" y1="991.50" x2="898.80" y2="1088.00" stroke="#000" stroke-width="2" stroke-linecap="butt"/>
<line x1="888.60" y1="721.00" x2="898.80" y2="721.00" stroke="#000" stroke-width="1.8" stroke-linecap="butt"/>
<line x1="888.60" y1="760.20" x2="898.80" y2="760.20" stroke="#000" stroke-width="1.8" stroke-linecap="butt"/>
<line x1="888.60" y1="799.40" x2="898.80" y2="799.40" stroke="#000" stroke-width="1.8" stroke-linecap="butt"/>
<line x1="888.60" y1="838.60" x2="898.80" y2="838.60" stroke="#000" stroke-width="1.8" stroke-linecap="butt"/>
<line x1="888.60" y1="929.20" x2="898.80" y2="929.20" stroke="#000" stroke-width="1.8" stroke-linecap="butt"/>
<line x1="888.60" y1="1011.20" x2="898.80" y2="1011.20" stroke="#000" stroke-width="1.8" stroke-linecap="butt"/>
<line x1="888.60" y1="1049.50" x2="898.80" y2="1049.50" stroke="#000" stroke-width="1.8" stroke-linecap="butt"/>
<line x1="888.60" y1="1087.00" x2="898.80" y2="1087.00" stroke="#000" stroke-width="1.8" stroke-linecap="butt"/>
<line x1="892.00" y1="865.90" x2="905.60" y2="865.90" stroke="#000" stroke-width="1.8" stroke-linecap="butt"/>
<line x1="892.00" y1="885.20" x2="905.60" y2="885.20" stroke="#000" stroke-width="1.8" stroke-linecap="butt"/>
<line x1="892.00" y1="973.60" x2="905.60" y2="973.60" stroke="#000" stroke-width="1.8" stroke-linecap="butt"/>
<line x1="892.00" y1="992.50" x2="905.60" y2="992.50" stroke="#000" stroke-width="1.8" stroke-linecap="butt"/>
<text transform="translate(890.10,733.20) scale(0.9709,1)" font-size="39.45" text-anchor="end" fill="#000">20</text>
<text transform="translate(890.10,772.40) scale(0.9709,1)" font-size="39.45" text-anchor="end" fill="#000">15</text>
<text transform="translate(890.10,811.60) scale(0.9709,1)" font-size="39.45" text-anchor="end" fill="#000">10</text>
<text transform="translate(890.10,850.80) scale(0.9709,1)" font-size="39.45" text-anchor="end" fill="#000">5</text>
<text transform="translate(890.10,897.20) scale(0.9709,1)" font-size="39.45" text-anchor="end" fill="#000">1.5</text>
<text transform="translate(890.10,941.40) scale(0.9709,1)" font-size="39.45" text-anchor="end" fill="#000">1.0</text>
<text transform="translate(890.10,985.60) scale(0.9709,1)" font-size="39.45" text-anchor="end" fill="#000">0.5</text>
<text transform="translate(890.10,1023.60) scale(0.9709,1)" font-size="39.45" text-anchor="end" fill="#000">0.4</text>
<text transform="translate(890.10,1061.30) scale(0.9709,1)" font-size="39.45" text-anchor="end" fill="#000">0.2</text>
<text transform="translate(890.10,1098.80) scale(0.9709,1)" font-size="39.45" text-anchor="end" fill="#000">0.0</text>
<line x1="897.80" y1="1087.00" x2="1395.50" y2="1087.00" stroke="#000" stroke-width="2" stroke-linecap="butt"/>
<line x1="943.10" y1="1087.00" x2="943.10" y2="1097.50" stroke="#000" stroke-width="1.8" stroke-linecap="butt"/>
<line x1="1044.80" y1="1087.00" x2="1044.80" y2="1097.50" stroke="#000" stroke-width="1.8" stroke-linecap="butt"/>
<line x1="1146.50" y1="1087.00" x2="1146.50" y2="1097.50" stroke="#000" stroke-width="1.8" stroke-linecap="butt"/>
<line x1="1248.20" y1="1087.00" x2="1248.20" y2="1097.50" stroke="#000" stroke-width="1.8" stroke-linecap="butt"/>
<line x1="1350.00" y1="1087.00" x2="1350.00" y2="1097.50" stroke="#000" stroke-width="1.8" stroke-linecap="butt"/>
<text transform="translate(945.70,1131.60) scale(0.9709,1)" font-size="39.45" text-anchor="middle" fill="#000">1h</text>
<text transform="translate(1046.40,1131.60) scale(0.9709,1)" font-size="39.45" text-anchor="middle" fill="#000">8h</text>
<text transform="translate(1143.90,1131.60) scale(0.9709,1)" font-size="39.45" text-anchor="middle" fill="#000">24h</text>
<text transform="translate(1250.10,1131.60) scale(0.9709,1)" font-size="39.45" text-anchor="middle" fill="#000">48h</text>
<text transform="translate(1353.50,1131.60) scale(0.9709,1)" font-size="39.45" text-anchor="middle" fill="#000">72h</text>
<text transform="translate(1152.70,1177.30) scale(0.9695,1)" font-size="39.30" text-anchor="middle" fill="#000">Time p.i.</text>
<clipPath id="clipD1"><rect x="895" y="600" width="520" height="266.2"/></clipPath>
<clipPath id="clipD2"><rect x="895" y="885.2" width="520" height="300"/></clipPath>
<g clip-path="url(#clipD1)">
<line x1="962.00" y1="841.00" x2="962.00" y2="853.90" stroke="#000" stroke-width="1.4" stroke-linecap="butt"/>
<line x1="957.00" y1="841.00" x2="967.00" y2="841.00" stroke="#000" stroke-width="1.4" stroke-linecap="butt"/>
<line x1="957.00" y1="853.90" x2="967.00" y2="853.90" stroke="#000" stroke-width="1.4" stroke-linecap="butt"/>
<circle cx="954.50" cy="837.00" r="4.40" fill="#3e86db" stroke="#0a0f2a" stroke-width="1.5"/>
<circle cx="970.00" cy="845.00" r="4.40" fill="#3e86db" stroke="#0a0f2a" stroke-width="1.5"/>
<circle cx="962.00" cy="858.70" r="4.40" fill="#3e86db" stroke="#0a0f2a" stroke-width="1.5"/>
<line x1="1064.00" y1="790.60" x2="1064.00" y2="861.00" stroke="#000" stroke-width="1.5" stroke-linecap="butt"/>
<line x1="1057.50" y1="790.60" x2="1070.50" y2="790.60" stroke="#000" stroke-width="1.5" stroke-linecap="butt"/>
<circle cx="1064.00" cy="756.60" r="4.40" fill="#3e86db" stroke="#0a0f2a" stroke-width="1.5"/>
<circle cx="1072.40" cy="857.90" r="4.40" fill="#3e86db" stroke="#0a0f2a" stroke-width="1.5"/>
<circle cx="1056.30" cy="863.20" r="4.40" fill="#3e86db" stroke="#0a0f2a" stroke-width="1.5"/>
<circle cx="1158.50" cy="864.00" r="4.40" fill="#3e86db" stroke="#0a0f2a" stroke-width="1.5"/>
<circle cx="1166.00" cy="864.00" r="4.40" fill="#3e86db" stroke="#0a0f2a" stroke-width="1.5"/>
<circle cx="1173.50" cy="864.00" r="4.40" fill="#3e86db" stroke="#0a0f2a" stroke-width="1.5"/>
</g>
<g clip-path="url(#clipD2)">
<circle cx="916.40" cy="1082.40" r="4.40" fill="#2a4ecb" stroke="#0a0f2a" stroke-width="1.5"/>
<circle cx="924.50" cy="1082.40" r="4.40" fill="#2a4ecb" stroke="#0a0f2a" stroke-width="1.5"/>
<circle cx="932.50" cy="1082.40" r="4.40" fill="#2a4ecb" stroke="#0a0f2a" stroke-width="1.5"/>
<circle cx="1018.20" cy="1066.40" r="4.40" fill="#2a4ecb" stroke="#0a0f2a" stroke-width="1.5"/>
<circle cx="1026.00" cy="1066.40" r="4.40" fill="#2a4ecb" stroke="#0a0f2a" stroke-width="1.5"/>
<circle cx="1034.00" cy="1066.40" r="4.40" fill="#2a4ecb" stroke="#0a0f2a" stroke-width="1.5"/>
<circle cx="1119.60" cy="961.90" r="4.40" fill="#2a4ecb" stroke="#0a0f2a" stroke-width="1.5"/>
<circle cx="1135.20" cy="961.90" r="4.40" fill="#2a4ecb" stroke="#0a0f2a" stroke-width="1.5"/>
<circle cx="1127.70" cy="958.70" r="4.40" fill="#2a4ecb" stroke="#0a0f2a" stroke-width="1.5"/>
<circle cx="1221.40" cy="1032.30" r="4.40" fill="#2a4ecb" stroke="#0a0f2a" stroke-width="1.5"/>
<circle cx="1229.50" cy="1027.50" r="4.40" fill="#2a4ecb" stroke="#0a0f2a" stroke-width="1.5"/>
<circle cx="1237.50" cy="1027.50" r="4.40" fill="#2a4ecb" stroke="#0a0f2a" stroke-width="1.5"/>
<line x1="1267.50" y1="931.00" x2="1267.50" y2="956.50" stroke="#000" stroke-width="1.5" stroke-linecap="butt"/>
<line x1="1261.00" y1="931.00" x2="1274.00" y2="931.00" stroke="#000" stroke-width="1.5" stroke-linecap="butt"/>
<circle cx="1267.50" cy="918.50" r="4.40" fill="#3e86db" stroke="#0a0f2a" stroke-width="1.5"/>
<circle cx="1259.80" cy="960.50" r="4.40" fill="#3e86db" stroke="#0a0f2a" stroke-width="1.5"/>
<circle cx="1275.00" cy="951.70" r="4.40" fill="#3e86db" stroke="#0a0f2a" stroke-width="1.5"/>
<line x1="1330.70" y1="934.30" x2="1330.70" y2="941.80" stroke="#000" stroke-width="1.4" stroke-linecap="butt"/>
<line x1="1326.20" y1="934.30" x2="1335.20" y2="934.30" stroke="#000" stroke-width="1.4" stroke-linecap="butt"/>
<line x1="1326.20" y1="941.80" x2="1335.20" y2="941.80" stroke="#000" stroke-width="1.4" stroke-linecap="butt"/>
<circle cx="1323.20" cy="931.10" r="4.40" fill="#2a4ecb" stroke="#0a0f2a" stroke-width="1.5"/>
<circle cx="1338.80" cy="937.80" r="4.40" fill="#2a4ecb" stroke="#0a0f2a" stroke-width="1.5"/>
<circle cx="1330.70" cy="947.20" r="4.40" fill="#2a4ecb" stroke="#0a0f2a" stroke-width="1.5"/>
<line x1="1369.30" y1="902.10" x2="1369.30" y2="927.00" stroke="#000" stroke-width="1.5" stroke-linecap="butt"/>
<line x1="1362.80" y1="902.10" x2="1375.80" y2="902.10" stroke="#000" stroke-width="1.5" stroke-linecap="butt"/>
<circle cx="1369.30" cy="889.00" r="4.40" fill="#3e86db" stroke="#0a0f2a" stroke-width="1.5"/>
<circle cx="1361.30" cy="927.60" r="4.40" fill="#3e86db" stroke="#0a0f2a" stroke-width="1.5"/>
<circle cx="1376.80" cy="927.60" r="4.40" fill="#3e86db" stroke="#0a0f2a" stroke-width="1.5"/>
</g>
<text transform="translate(923.70,1079.50)" font-size="42.00" text-anchor="middle" fill="#000">*</text>
<text transform="translate(962.00,835.40)" font-size="42.00" text-anchor="middle" fill="#000">*</text>
<text transform="translate(1027.30,1067.50)" font-size="42.00" text-anchor="middle" fill="#000">*</text>
<text transform="translate(1064.30,755.90)" font-size="42.00" text-anchor="middle" fill="#000">*</text>
<text transform="translate(1127.70,961.10)" font-size="42.00" text-anchor="middle" fill="#000">*</text>
<text transform="translate(1164.70,865.70)" font-size="42.00" text-anchor="middle" fill="#000">*</text>
<text transform="translate(1230.30,1027.30)" font-size="42.00" text-anchor="middle" fill="#000">*</text>
<text transform="translate(1265.70,909.90) scale(0.9804,1)" font-size="39.37" text-anchor="middle" fill="#000">ns</text>
<text transform="translate(1329.20,916.80) scale(0.9804,1)" font-size="39.37" text-anchor="middle" fill="#000">ns</text>
<text transform="translate(1371.00,873.70) scale(0.9804,1)" font-size="39.37" text-anchor="middle" fill="#000">ns</text>
<circle cx="1420.70" cy="949.00" r="5.00" fill="#2a4ecb" stroke="#0a0f2a" stroke-width="1.3"/>
<text transform="translate(1448.80,960.50) scale(0.9695,1)" font-size="39.30" text-anchor="start" fill="#000">lnc-DKK2</text>
<circle cx="1420.70" cy="989.50" r="5.00" fill="#3e86db" stroke="#0a0f2a" stroke-width="1.3"/>
<text transform="translate(1448.90,1000.70) scale(0.9695,1)" font-size="39.30" text-anchor="start" fill="#000">DKK2</text>
<text transform="translate(24.10,1218.40) scale(1.0222,1)" font-size="45.00" text-anchor="start" fill="#000">e</text>
<text transform="translate(476.70,1296.80) scale(1.2279,1)" font-size="29.40" text-anchor="start" fill="#000">Bulk tissue gene expression for CYP1B1-AS1</text>
<text transform="translate(144.00,1438.00) rotate(-90) scale(0.7876,1)" font-size="37.20" text-anchor="middle">log<tspan font-size="22.32" dy="12.83">10</tspan><tspan dy="-12.83">(TPM+1)</tspan></text>
<line x1="238.60" y1="1271.20" x2="238.60" y2="1665.50" stroke="#000" stroke-width="2.9" stroke-linecap="butt"/>
<line x1="229.80" y1="1272.50" x2="238.60" y2="1272.50" stroke="#000" stroke-width="2.3" stroke-linecap="butt"/>
<line x1="229.80" y1="1664.30" x2="238.60" y2="1664.30" stroke="#000" stroke-width="2.3" stroke-linecap="butt"/>
<text transform="translate(224.50,1674.70) scale(1.2216,1)" font-size="37.90" text-anchor="end" fill="#000">0.0</text>
<line x1="229.80" y1="1609.00" x2="238.60" y2="1609.00" stroke="#000" stroke-width="2.3" stroke-linecap="butt"/>
<text transform="translate(224.50,1619.40) scale(1.2216,1)" font-size="37.90" text-anchor="end" fill="#000">0.2</text>
<line x1="229.80" y1="1553.70" x2="238.60" y2="1553.70" stroke="#000" stroke-width="2.3" stroke-linecap="butt"/>
<text transform="translate(224.50,1564.10) scale(1.2216,1)" font-size="37.90" text-anchor="end" fill="#000">0.4</text>
<line x1="229.80" y1="1498.40" x2="238.60" y2="1498.40" stroke="#000" stroke-width="2.3" stroke-linecap="butt"/>
<text transform="translate(224.50,1508.80) scale(1.2216,1)" font-size="37.90" text-anchor="end" fill="#000">0.6</text>
<line x1="229.80" y1="1443.10" x2="238.60" y2="1443.10" stroke="#000" stroke-width="2.3" stroke-linecap="butt"/>
<text transform="translate(224.50,1453.50) scale(1.2216,1)" font-size="37.90" text-anchor="end" fill="#000">0.8</text>
<line x1="229.80" y1="1387.80" x2="238.60" y2="1387.80" stroke="#000" stroke-width="2.3" stroke-linecap="butt"/>
<text transform="translate(224.50,1398.20) scale(1.2216,1)" font-size="37.90" text-anchor="end" fill="#000">1.0</text>
<line x1="229.80" y1="1332.50" x2="238.60" y2="1332.50" stroke="#000" stroke-width="2.3" stroke-linecap="butt"/>
<text transform="translate(224.50,1342.90) scale(1.2216,1)" font-size="37.90" text-anchor="end" fill="#000">1.2</text>
<line x1="229.80" y1="1277.20" x2="238.60" y2="1277.20" stroke="#000" stroke-width="2.3" stroke-linecap="butt"/>
<text transform="translate(224.50,1287.60) scale(1.2216,1)" font-size="37.90" text-anchor="end" fill="#000">1.4</text>
<line x1="243.30" y1="1667.50" x2="1404.40" y2="1667.50" stroke="#000" stroke-width="3.0" stroke-linecap="butt"/>
<line x1="244.70" y1="1667.50" x2="244.70" y2="1673.80" stroke="#000" stroke-width="2.7" stroke-linecap="butt"/>
<line x1="265.40" y1="1667.50" x2="265.40" y2="1673.80" stroke="#000" stroke-width="2.7" stroke-linecap="butt"/>
<line x1="318.50" y1="1667.50" x2="318.50" y2="1673.80" stroke="#000" stroke-width="2.7" stroke-linecap="butt"/>
<line x1="371.60" y1="1667.50" x2="371.60" y2="1673.80" stroke="#000" stroke-width="2.7" stroke-linecap="butt"/>
<line x1="424.70" y1="1667.50" x2="424.70" y2="1673.80" stroke="#000" stroke-width="2.7" stroke-linecap="butt"/>
<line x1="477.80" y1="1667.50" x2="477.80" y2="1673.80" stroke="#000" stroke-width="2.7" stroke-linecap="butt"/>
<line x1="530.90" y1="1667.50" x2="530.90" y2="1673.80" stroke="#000" stroke-width="2.7" stroke-linecap="butt"/>
<line x1="584.00" y1="1667.50" x2="584.00" y2="1673.80" stroke="#000" stroke-width="2.7" stroke-linecap="butt"/>
<line x1="637.10" y1="1667.50" x2="637.10" y2="1673.80" stroke="#000" stroke-width="2.7" stroke-linecap="butt"/>
<line x1="690.20" y1="1667.50" x2="690.20" y2="1673.80" stroke="#000" stroke-width="2.7" stroke-linecap="butt"/>
<line x1="743.30" y1="1667.50" x2="743.30" y2="1673.80" stroke="#000" stroke-width="2.7" stroke-linecap="butt"/>
<line x1="796.40" y1="1667.50" x2="796.40" y2="1673.80" stroke="#000" stroke-width="2.7" stroke-linecap="butt"/>
<line x1="849.50" y1="1667.50" x2="849.50" y2="1673.80" stroke="#000" stroke-width="2.7" stroke-linecap="butt"/>
<line x1="902.60" y1="1667.50" x2="902.60" y2="1673.80" stroke="#000" stroke-width="2.7" stroke-linecap="butt"/>
<line x1="955.70" y1="1667.50" x2="955.70" y2="1673.80" stroke="#000" stroke-width="2.7" stroke-linecap="butt"/>
<line x1="1008.80" y1="1667.50" x2="1008.80" y2="1673.80" stroke="#000" stroke-width="2.7" stroke-linecap="butt"/>
<line x1="1061.90" y1="1667.50" x2="1061.90" y2="1673.80" stroke="#000" stroke-width="2.7" stroke-linecap="butt"/>
<line x1="1115.00" y1="1667.50" x2="1115.00" y2="1673.80" stroke="#000" stroke-width="2.7" stroke-linecap="butt"/>
<line x1="1168.10" y1="1667.50" x2="1168.10" y2="1673.80" stroke="#000" stroke-width="2.7" stroke-linecap="butt"/>
<line x1="1221.20" y1="1667.50" x2="1221.20" y2="1673.80" stroke="#000" stroke-width="2.7" stroke-linecap="butt"/>
<line x1="1274.30" y1="1667.50" x2="1274.30" y2="1673.80" stroke="#000" stroke-width="2.7" stroke-linecap="butt"/>
<line x1="1327.40" y1="1667.50" x2="1327.40" y2="1673.80" stroke="#000" stroke-width="2.7" stroke-linecap="butt"/>
<line x1="1380.50" y1="1667.50" x2="1380.50" y2="1673.80" stroke="#000" stroke-width="2.7" stroke-linecap="butt"/>
<line x1="1403.00" y1="1667.50" x2="1403.00" y2="1673.80" stroke="#000" stroke-width="2.7" stroke-linecap="butt"/>
<text transform="translate(253.40,1694.10) scale(1.255,1) rotate(35.7)" font-size="28.0">Amygdala</text>
<text transform="translate(300.80,1690.50) scale(1.255,1) rotate(35.7)" font-size="28.0">Anterior cingulate cortex</text>
<text transform="translate(353.90,1690.50) scale(1.255,1) rotate(35.7)" font-size="28.0">Caudate</text>
<text transform="translate(407.00,1690.50) scale(1.255,1) rotate(35.7)" font-size="28.0">Cerebellar Hemisphere</text>
<text transform="translate(460.10,1690.50) scale(1.255,1) rotate(35.7)" font-size="28.0">Cerebellum</text>
<text transform="translate(513.20,1690.50) scale(1.255,1) rotate(35.7)" font-size="28.0">Cortex</text>
<text transform="translate(566.30,1690.50) scale(1.255,1) rotate(35.7)" font-size="28.0">Frontal Cortex (BA9)</text>
<text transform="translate(619.40,1690.50) scale(1.255,1) rotate(35.7)" font-size="28.0">Hippocampus</text>
<text transform="translate(672.50,1690.50) scale(1.255,1) rotate(35.7)" font-size="28.0">Hypothalamus</text>
<text transform="translate(725.60,1690.50) scale(1.255,1) rotate(35.7)" font-size="28.0">Nucleus accumbens</text>
<text transform="translate(778.70,1690.50) scale(1.255,1) rotate(35.7)" font-size="28.0">Putamen</text>
<text transform="translate(831.80,1690.50) scale(1.255,1) rotate(35.7)" font-size="28.0">Spinal cord</text>
<text transform="translate(884.90,1690.50) scale(1.255,1) rotate(35.7)" font-size="28.0">Substantia nigra</text>
<text transform="translate(938.00,1690.50) scale(1.255,1) rotate(35.7)" font-size="28.0">Mammary Tissue</text>
<text transform="translate(991.10,1690.50) scale(1.255,1) rotate(35.7)" font-size="28.0">Heart-Atrial Appendage</text>
<text transform="translate(1044.20,1690.50) scale(1.255,1) rotate(35.7)" font-size="28.0">Heart-Left Ventricle</text>
<text transform="translate(1097.30,1690.50) scale(1.255,1) rotate(35.7)" font-size="28.0">Kidney - Cortex</text>
<text transform="translate(1150.40,1690.50) scale(1.255,1) rotate(35.7)" font-size="28.0">Kidney - Medulla</text>
<text transform="translate(1203.50,1690.50) scale(1.255,1) rotate(35.7)" font-size="28.0">Liver</text>
<text transform="translate(1256.60,1690.50) scale(1.255,1) rotate(35.7)" font-size="28.0">Lung</text>
<text transform="translate(1309.70,1690.50) scale(1.255,1) rotate(35.7)" font-size="28.0">Spleen</text>
<text transform="translate(1362.80,1690.50) scale(1.255,1) rotate(35.7)" font-size="28.0">Whole Blood</text>
<path d="M265.4 1606.3 L265.4 1610.9 L265.4 1615.5 L265.4 1620.1 L265.4 1624.7 L265.4 1629.3 L265.4 1634.0 L265.5 1634.3 L265.7 1634.6 L265.9 1635.0 L266.1 1635.3 L266.3 1635.7 L266.6 1636.0 L267.0 1636.9 L267.3 1637.7 L267.7 1638.6 L268.2 1639.4 L268.7 1640.3 L269.3 1641.1 L270.1 1642.0 L270.9 1642.8 L271.9 1643.7 L272.8 1644.5 L273.9 1645.4 L274.9 1646.2 L275.9 1647.1 L277.1 1648.0 L278.2 1648.8 L279.4 1649.7 L280.5 1650.5 L281.5 1651.4 L282.4 1652.2 L283.3 1653.1 L284.2 1653.9 L285.0 1654.8 L285.6 1655.6 L286.0 1656.5 L286.2 1657.0 L286.2 1657.5 L286.0 1658.1 L285.7 1658.6 L285.3 1659.1 L284.8 1659.6 L284.1 1660.0 L283.4 1660.4 L282.5 1660.8 L281.5 1661.2 L280.6 1661.6 L279.8 1662.0 L279.1 1662.2 L278.3 1662.4 L277.6 1662.6 L276.9 1662.7 L276.3 1662.9 L275.7 1663.1 L275.2 1663.2 L274.8 1663.2 L274.4 1663.2 L274.1 1663.3 L273.8 1663.4 L273.6 1663.4 L257.2 1663.4 L257.0 1663.4 L256.7 1663.3 L256.4 1663.2 L256.0 1663.2 L255.6 1663.2 L255.1 1663.1 L254.5 1662.9 L253.9 1662.7 L253.2 1662.6 L252.5 1662.4 L251.7 1662.2 L251.0 1662.0 L250.2 1661.6 L249.3 1661.2 L248.3 1660.8 L247.4 1660.4 L246.7 1660.0 L246.0 1659.6 L245.5 1659.1 L245.1 1658.6 L244.8 1658.1 L244.6 1657.5 L244.6 1657.0 L244.8 1656.5 L245.2 1655.6 L245.8 1654.8 L246.6 1653.9 L247.5 1653.1 L248.4 1652.2 L249.3 1651.4 L250.3 1650.5 L251.4 1649.7 L252.6 1648.8 L253.7 1648.0 L254.9 1647.1 L255.9 1646.2 L256.9 1645.4 L258.0 1644.5 L258.9 1643.7 L259.9 1642.8 L260.7 1642.0 L261.5 1641.1 L262.1 1640.3 L262.6 1639.4 L263.1 1638.6 L263.5 1637.7 L263.8 1636.9 L264.2 1636.0 L264.5 1635.7 L264.7 1635.3 L264.9 1635.0 L265.1 1634.6 L265.3 1634.3 L265.4 1634.0 L265.4 1629.3 L265.4 1624.7 L265.4 1620.1 L265.4 1615.5 L265.4 1610.9 L265.4 1606.3Z" fill="#f58e90" stroke="#f4ee8c" stroke-width="2.8" stroke-linejoin="round"/>
<rect x="258.25" y="1647.80" width="14.30" height="10.10" fill="#ec1c24"/>
<rect x="258.25" y="1651.80" width="14.30" height="2.80" fill="#fff"/>
<path d="M318.5 1599.0 L318.5 1604.0 L318.5 1608.9 L318.5 1613.9 L318.5 1618.8 L318.5 1623.8 L318.5 1628.7 L318.6 1629.1 L318.8 1629.5 L319.0 1629.9 L319.2 1630.2 L319.5 1630.6 L319.8 1631.0 L320.2 1632.0 L320.6 1632.9 L321.0 1633.8 L321.5 1634.8 L322.0 1635.8 L322.7 1636.7 L323.5 1637.7 L324.4 1638.6 L325.5 1639.6 L326.5 1640.5 L327.6 1641.5 L328.7 1642.4 L329.9 1643.4 L331.1 1644.3 L332.3 1645.2 L333.6 1646.2 L334.7 1647.1 L335.8 1648.1 L336.8 1649.0 L337.8 1650.0 L338.8 1650.9 L339.6 1651.9 L340.3 1652.8 L340.7 1653.8 L340.9 1654.5 L340.9 1655.2 L340.7 1656.0 L340.3 1656.7 L339.9 1657.4 L339.4 1658.1 L338.7 1658.7 L337.9 1659.2 L336.9 1659.8 L335.9 1660.4 L334.9 1660.9 L334.0 1661.5 L333.2 1661.8 L332.4 1662.0 L331.6 1662.3 L330.9 1662.6 L330.2 1662.8 L329.6 1663.1 L329.1 1663.2 L328.6 1663.2 L328.2 1663.2 L327.9 1663.3 L327.6 1663.4 L327.4 1663.4 L309.6 1663.4 L309.4 1663.4 L309.1 1663.3 L308.8 1663.2 L308.4 1663.2 L307.9 1663.2 L307.4 1663.1 L306.8 1662.8 L306.1 1662.6 L305.4 1662.3 L304.6 1662.0 L303.8 1661.8 L303.0 1661.5 L302.1 1660.9 L301.1 1660.4 L300.1 1659.8 L299.1 1659.2 L298.3 1658.7 L297.6 1658.1 L297.1 1657.4 L296.7 1656.7 L296.3 1656.0 L296.1 1655.2 L296.1 1654.5 L296.3 1653.8 L296.7 1652.8 L297.4 1651.9 L298.2 1650.9 L299.2 1650.0 L300.2 1649.0 L301.2 1648.1 L302.3 1647.1 L303.4 1646.2 L304.7 1645.2 L305.9 1644.3 L307.1 1643.4 L308.3 1642.4 L309.4 1641.5 L310.5 1640.5 L311.5 1639.6 L312.6 1638.6 L313.5 1637.7 L314.3 1636.7 L315.0 1635.8 L315.5 1634.8 L316.0 1633.8 L316.4 1632.9 L316.8 1632.0 L317.2 1631.0 L317.5 1630.6 L317.8 1630.2 L318.0 1629.9 L318.2 1629.5 L318.4 1629.1 L318.5 1628.7 L318.5 1623.8 L318.5 1618.8 L318.5 1613.9 L318.5 1608.9 L318.5 1604.0 L318.5 1599.0Z" fill="#f58e90" stroke="#f4ee8c" stroke-width="2.8" stroke-linejoin="round"/>
<rect x="311.35" y="1645.00" width="14.30" height="11.70" fill="#ec1c24"/>
<rect x="311.35" y="1649.10" width="14.30" height="2.80" fill="#fff"/>
<path d="M371.6 1610.8 L371.6 1614.0 L371.6 1617.1 L371.6 1620.3 L371.6 1623.4 L371.6 1626.6 L371.6 1629.7 L371.7 1630.1 L371.9 1630.5 L372.1 1630.9 L372.3 1631.2 L372.6 1631.6 L372.9 1632.0 L373.2 1633.0 L373.6 1633.9 L373.9 1634.8 L374.4 1635.8 L374.9 1636.8 L375.6 1637.7 L376.4 1638.7 L377.2 1639.6 L378.2 1640.6 L379.2 1641.5 L380.2 1642.5 L381.3 1643.4 L382.3 1644.4 L383.5 1645.3 L384.7 1646.2 L385.9 1647.2 L387.0 1648.1 L388.0 1649.1 L388.9 1650.0 L389.9 1651.0 L390.8 1651.9 L391.6 1652.9 L392.2 1653.8 L392.6 1654.8 L392.8 1655.4 L392.8 1656.1 L392.6 1656.7 L392.3 1657.4 L391.8 1658.0 L391.3 1658.7 L390.7 1659.2 L389.9 1659.7 L389.0 1660.2 L388.1 1660.7 L387.1 1661.2 L386.3 1661.7 L385.5 1661.9 L384.8 1662.2 L384.0 1662.4 L383.3 1662.6 L382.7 1662.9 L382.1 1663.1 L381.6 1663.2 L381.2 1663.2 L380.8 1663.2 L380.5 1663.3 L380.2 1663.4 L380.0 1663.4 L363.2 1663.4 L363.0 1663.4 L362.7 1663.3 L362.4 1663.2 L362.0 1663.2 L361.6 1663.2 L361.1 1663.1 L360.5 1662.9 L359.9 1662.6 L359.2 1662.4 L358.4 1662.2 L357.7 1661.9 L356.9 1661.7 L356.1 1661.2 L355.1 1660.7 L354.2 1660.2 L353.3 1659.7 L352.5 1659.2 L351.9 1658.7 L351.4 1658.0 L350.9 1657.4 L350.6 1656.7 L350.4 1656.1 L350.4 1655.4 L350.6 1654.8 L351.0 1653.8 L351.6 1652.9 L352.4 1651.9 L353.3 1651.0 L354.3 1650.0 L355.2 1649.1 L356.2 1648.1 L357.3 1647.2 L358.5 1646.2 L359.7 1645.3 L360.9 1644.4 L361.9 1643.4 L363.0 1642.5 L364.0 1641.5 L365.0 1640.6 L366.0 1639.6 L366.8 1638.7 L367.6 1637.7 L368.3 1636.8 L368.8 1635.8 L369.3 1634.8 L369.6 1633.9 L370.0 1633.0 L370.3 1632.0 L370.6 1631.6 L370.9 1631.2 L371.1 1630.9 L371.3 1630.5 L371.5 1630.1 L371.6 1629.7 L371.6 1626.6 L371.6 1623.4 L371.6 1620.3 L371.6 1617.1 L371.6 1614.0 L371.6 1610.8Z" fill="#f58e90" stroke="#f4ee8c" stroke-width="2.8" stroke-linejoin="round"/>
<rect x="364.45" y="1646.00" width="14.30" height="10.70" fill="#ec1c24"/>
<rect x="364.45" y="1649.60" width="14.30" height="2.80" fill="#fff"/>
<path d="M424.7 1636.4 L424.7 1637.1 L424.7 1637.8 L424.7 1638.4 L424.7 1639.1 L424.7 1639.8 L424.7 1640.5 L424.8 1640.7 L425.0 1641.0 L425.2 1641.2 L425.4 1641.5 L425.7 1641.7 L426.0 1642.0 L426.4 1642.6 L426.8 1643.3 L427.2 1643.9 L427.7 1644.5 L428.2 1645.2 L428.9 1645.8 L429.7 1646.4 L430.6 1647.1 L431.6 1647.7 L432.7 1648.3 L433.8 1649.0 L434.9 1649.6 L436.0 1650.2 L437.2 1650.9 L438.5 1651.5 L439.7 1652.1 L440.9 1652.8 L441.9 1653.4 L442.9 1654.0 L444.0 1654.7 L444.9 1655.3 L445.7 1655.9 L446.4 1656.6 L446.8 1657.2 L447.0 1657.7 L447.0 1658.3 L446.8 1658.8 L446.4 1659.3 L446.0 1659.9 L445.5 1660.4 L444.8 1660.8 L444.0 1661.2 L443.0 1661.6 L442.0 1662.1 L441.0 1662.5 L440.2 1662.9 L439.4 1663.1 L438.5 1663.3 L437.8 1663.4 L437.0 1663.6 L436.3 1663.8 L435.8 1664.0 L435.2 1664.0 L434.8 1664.1 L434.4 1664.2 L434.0 1664.2 L433.8 1664.2 L433.5 1664.3 L415.9 1664.3 L415.6 1664.2 L415.4 1664.2 L415.0 1664.2 L414.6 1664.1 L414.2 1664.0 L413.6 1664.0 L413.1 1663.8 L412.4 1663.6 L411.6 1663.4 L410.9 1663.3 L410.0 1663.1 L409.2 1662.9 L408.4 1662.5 L407.4 1662.1 L406.4 1661.6 L405.4 1661.2 L404.6 1660.8 L403.9 1660.4 L403.4 1659.9 L403.0 1659.3 L402.6 1658.8 L402.4 1658.3 L402.4 1657.7 L402.6 1657.2 L403.0 1656.6 L403.7 1655.9 L404.5 1655.3 L405.4 1654.7 L406.5 1654.0 L407.5 1653.4 L408.5 1652.8 L409.7 1652.1 L410.9 1651.5 L412.2 1650.9 L413.4 1650.2 L414.5 1649.6 L415.6 1649.0 L416.7 1648.3 L417.8 1647.7 L418.8 1647.1 L419.7 1646.4 L420.5 1645.8 L421.2 1645.2 L421.7 1644.5 L422.2 1643.9 L422.6 1643.3 L423.0 1642.6 L423.4 1642.0 L423.7 1641.7 L424.0 1641.5 L424.2 1641.2 L424.4 1641.0 L424.6 1640.7 L424.7 1640.5 L424.7 1639.8 L424.7 1639.1 L424.7 1638.4 L424.7 1637.8 L424.7 1637.1 L424.7 1636.4Z" fill="#f58e90" stroke="#f4ee8c" stroke-width="2.8" stroke-linejoin="round"/>
<rect x="417.55" y="1654.30" width="14.30" height="5.60" fill="#ec1c24"/>
<rect x="417.55" y="1655.20" width="14.30" height="2.80" fill="#fff"/>
<path d="M477.8 1636.4 L477.8 1636.9 L477.8 1637.4 L477.8 1637.9 L477.8 1638.4 L477.8 1638.9 L477.8 1639.4 L477.9 1639.7 L478.1 1639.9 L478.3 1640.2 L478.5 1640.5 L478.8 1640.7 L479.1 1641.0 L479.4 1641.7 L479.8 1642.3 L480.2 1643.0 L480.7 1643.6 L481.3 1644.3 L481.9 1645.0 L482.7 1645.6 L483.6 1646.3 L484.6 1646.9 L485.6 1647.6 L486.7 1648.2 L487.8 1648.9 L488.9 1649.6 L490.1 1650.2 L491.3 1650.9 L492.5 1651.5 L493.7 1652.2 L494.7 1652.8 L495.7 1653.5 L496.7 1654.2 L497.6 1654.8 L498.4 1655.5 L499.1 1656.1 L499.5 1656.8 L499.7 1657.3 L499.7 1657.9 L499.5 1658.4 L499.1 1659.0 L498.7 1659.5 L498.2 1660.0 L497.5 1660.5 L496.7 1660.9 L495.8 1661.3 L494.8 1661.7 L493.9 1662.1 L493.0 1662.6 L492.2 1662.8 L491.4 1662.9 L490.6 1663.1 L489.9 1663.3 L489.2 1663.5 L488.6 1663.7 L488.1 1663.8 L487.7 1663.8 L487.3 1663.8 L487.0 1663.9 L486.7 1664.0 L486.5 1664.0 L469.1 1664.0 L468.9 1664.0 L468.6 1663.9 L468.3 1663.8 L467.9 1663.8 L467.5 1663.8 L466.9 1663.7 L466.4 1663.5 L465.7 1663.3 L465.0 1663.1 L464.2 1662.9 L463.4 1662.8 L462.6 1662.6 L461.7 1662.1 L460.8 1661.7 L459.8 1661.3 L458.9 1660.9 L458.1 1660.5 L457.4 1660.0 L456.9 1659.5 L456.5 1659.0 L456.1 1658.4 L455.9 1657.9 L455.9 1657.3 L456.1 1656.8 L456.5 1656.1 L457.2 1655.5 L458.0 1654.8 L458.9 1654.2 L459.9 1653.5 L460.9 1652.8 L461.9 1652.2 L463.1 1651.5 L464.3 1650.9 L465.5 1650.2 L466.7 1649.6 L467.8 1648.9 L468.9 1648.2 L470.0 1647.6 L471.0 1646.9 L472.0 1646.3 L472.9 1645.6 L473.7 1645.0 L474.3 1644.3 L474.9 1643.6 L475.4 1643.0 L475.8 1642.3 L476.2 1641.7 L476.5 1641.0 L476.8 1640.7 L477.1 1640.5 L477.3 1640.2 L477.5 1639.9 L477.7 1639.7 L477.8 1639.4 L477.8 1638.9 L477.8 1638.4 L477.8 1637.9 L477.8 1637.4 L477.8 1636.9 L477.8 1636.4Z" fill="#f58e90" stroke="#f4ee8c" stroke-width="2.8" stroke-linejoin="round"/>
<rect x="470.65" y="1652.30" width="14.30" height="6.00" fill="#ec1c24"/>
<rect x="470.65" y="1654.00" width="14.30" height="2.80" fill="#fff"/>
<path d="M531.9 1567.5 L531.9 1568.9 L531.9 1570.3 L531.9 1571.8 L532.0 1573.2 L532.1 1574.6 L532.4 1576.0 L532.7 1577.4 L533.1 1578.9 L533.6 1580.3 L534.2 1581.7 L534.9 1583.2 L535.8 1584.6 L536.9 1586.5 L538.3 1588.3 L539.9 1590.2 L541.4 1592.1 L542.9 1593.9 L544.3 1595.8 L545.6 1597.3 L546.8 1598.8 L548.0 1600.2 L549.1 1601.7 L550.1 1603.2 L550.9 1604.7 L551.6 1606.6 L552.2 1608.4 L552.6 1610.3 L553.0 1612.2 L553.2 1614.0 L553.2 1615.9 L553.1 1618.1 L552.7 1620.4 L552.3 1622.6 L551.7 1624.8 L551.0 1627.1 L550.3 1629.3 L549.5 1631.2 L548.5 1633.0 L547.5 1634.8 L546.4 1636.7 L545.4 1638.6 L544.3 1640.4 L543.2 1642.3 L542.1 1644.1 L541.0 1646.0 L539.9 1647.9 L538.9 1649.7 L538.0 1651.6 L537.3 1652.8 L536.6 1654.1 L536.1 1655.3 L535.6 1656.5 L535.2 1657.8 L534.9 1659.0 L526.9 1659.0 L526.6 1657.8 L526.2 1656.5 L525.7 1655.3 L525.2 1654.1 L524.5 1652.8 L523.8 1651.6 L522.9 1649.7 L521.9 1647.9 L520.8 1646.0 L519.7 1644.1 L518.6 1642.3 L517.5 1640.4 L516.4 1638.6 L515.4 1636.7 L514.3 1634.8 L513.3 1633.0 L512.3 1631.2 L511.5 1629.3 L510.8 1627.1 L510.1 1624.8 L509.5 1622.6 L509.1 1620.4 L508.7 1618.1 L508.6 1615.9 L508.6 1614.0 L508.8 1612.2 L509.2 1610.3 L509.6 1608.4 L510.2 1606.6 L510.9 1604.7 L511.7 1603.2 L512.7 1601.7 L513.8 1600.2 L515.0 1598.8 L516.2 1597.3 L517.5 1595.8 L518.9 1593.9 L520.4 1592.1 L521.9 1590.2 L523.5 1588.3 L524.9 1586.5 L526.0 1584.6 L526.9 1583.2 L527.6 1581.7 L528.2 1580.3 L528.7 1578.9 L529.1 1577.4 L529.4 1576.0 L529.7 1574.6 L529.8 1573.2 L529.9 1571.8 L529.9 1570.3 L529.9 1568.9 L529.9 1567.5Z" fill="#f58e90" stroke="#f4ee8c" stroke-width="2.8" stroke-linejoin="round"/>
<rect x="523.75" y="1609.20" width="14.30" height="27.20" fill="#ec1c24"/>
<rect x="523.75" y="1620.10" width="14.30" height="2.80" fill="#fff"/>
<path d="M584.8 1571.3 L585.0 1573.5 L585.3 1575.7 L585.6 1577.9 L586.0 1580.2 L586.5 1582.4 L587.0 1584.6 L587.6 1586.5 L588.3 1588.3 L589.1 1590.2 L589.9 1592.1 L590.8 1593.9 L591.6 1595.8 L592.5 1597.7 L593.4 1599.5 L594.3 1601.4 L595.2 1603.3 L596.1 1605.1 L597.0 1607.0 L597.9 1608.8 L598.7 1610.7 L599.6 1612.5 L600.4 1614.4 L601.2 1616.2 L602.0 1618.1 L602.8 1620.0 L603.6 1621.8 L604.4 1623.7 L605.1 1625.6 L605.6 1627.4 L605.9 1629.3 L605.9 1630.8 L605.7 1632.3 L605.3 1633.8 L604.8 1635.2 L604.2 1636.7 L603.6 1638.2 L602.9 1639.7 L602.0 1641.2 L601.1 1642.7 L600.2 1644.1 L599.2 1645.6 L598.3 1647.1 L597.4 1648.2 L596.5 1649.3 L595.6 1650.4 L594.8 1651.6 L593.9 1652.7 L593.2 1653.8 L592.5 1654.7 L591.9 1655.7 L591.3 1656.6 L590.8 1657.5 L590.3 1658.5 L590.0 1659.4 L578.0 1659.4 L577.7 1658.5 L577.2 1657.5 L576.7 1656.6 L576.1 1655.7 L575.5 1654.7 L574.8 1653.8 L574.1 1652.7 L573.2 1651.6 L572.4 1650.4 L571.5 1649.3 L570.6 1648.2 L569.7 1647.1 L568.8 1645.6 L567.8 1644.1 L566.9 1642.7 L566.0 1641.2 L565.1 1639.7 L564.4 1638.2 L563.8 1636.7 L563.2 1635.2 L562.7 1633.8 L562.3 1632.3 L562.1 1630.8 L562.1 1629.3 L562.4 1627.4 L562.9 1625.6 L563.6 1623.7 L564.4 1621.8 L565.2 1620.0 L566.0 1618.1 L566.8 1616.2 L567.6 1614.4 L568.4 1612.5 L569.3 1610.7 L570.1 1608.8 L571.0 1607.0 L571.9 1605.1 L572.8 1603.3 L573.7 1601.4 L574.6 1599.5 L575.5 1597.7 L576.4 1595.8 L577.2 1593.9 L578.1 1592.1 L578.9 1590.2 L579.7 1588.3 L580.4 1586.5 L581.0 1584.6 L581.5 1582.4 L582.0 1580.2 L582.4 1577.9 L582.7 1575.7 L583.0 1573.5 L583.2 1571.3Z" fill="#f58e90" stroke="#f4ee8c" stroke-width="2.8" stroke-linejoin="round"/>
<rect x="576.85" y="1614.30" width="14.30" height="26.60" fill="#ec1c24"/>
<rect x="576.85" y="1627.40" width="14.30" height="2.80" fill="#fff"/>
<path d="M637.1 1583.0 L637.1 1590.2 L637.1 1597.4 L637.1 1604.7 L637.1 1611.9 L637.1 1619.1 L637.1 1626.3 L637.2 1626.8 L637.4 1627.2 L637.5 1627.7 L637.8 1628.1 L638.0 1628.6 L638.3 1629.0 L638.6 1630.1 L639.0 1631.2 L639.3 1632.3 L639.8 1633.4 L640.3 1634.5 L640.9 1635.7 L641.6 1636.8 L642.5 1637.9 L643.4 1639.0 L644.4 1640.1 L645.4 1641.2 L646.3 1642.3 L647.4 1643.4 L648.5 1644.5 L649.6 1645.6 L650.7 1646.7 L651.8 1647.8 L652.8 1648.9 L653.7 1650.1 L654.6 1651.2 L655.5 1652.3 L656.2 1653.4 L656.8 1654.5 L657.2 1655.6 L657.4 1656.2 L657.3 1656.8 L657.2 1657.4 L656.9 1657.9 L656.5 1658.5 L656.0 1659.1 L655.4 1659.6 L654.6 1660.0 L653.8 1660.5 L652.9 1660.9 L652.0 1661.4 L651.2 1661.8 L650.4 1662.1 L649.7 1662.3 L649.0 1662.5 L648.3 1662.7 L647.7 1662.9 L647.1 1663.1 L646.7 1663.2 L646.3 1663.2 L645.9 1663.2 L645.6 1663.3 L645.3 1663.4 L645.1 1663.4 L629.1 1663.4 L628.9 1663.4 L628.6 1663.3 L628.3 1663.2 L627.9 1663.2 L627.5 1663.2 L627.0 1663.1 L626.5 1662.9 L625.9 1662.7 L625.2 1662.5 L624.5 1662.3 L623.8 1662.1 L623.0 1661.8 L622.2 1661.4 L621.3 1660.9 L620.4 1660.5 L619.6 1660.0 L618.8 1659.6 L618.2 1659.1 L617.7 1658.5 L617.3 1657.9 L617.0 1657.4 L616.9 1656.8 L616.8 1656.2 L617.0 1655.6 L617.4 1654.5 L618.0 1653.4 L618.7 1652.3 L619.6 1651.2 L620.5 1650.1 L621.4 1648.9 L622.4 1647.8 L623.5 1646.7 L624.6 1645.6 L625.7 1644.5 L626.8 1643.4 L627.9 1642.3 L628.8 1641.2 L629.8 1640.1 L630.8 1639.0 L631.7 1637.9 L632.6 1636.8 L633.3 1635.7 L633.9 1634.5 L634.4 1633.4 L634.9 1632.3 L635.2 1631.2 L635.6 1630.1 L635.9 1629.0 L636.2 1628.6 L636.4 1628.1 L636.7 1627.7 L636.8 1627.2 L637.0 1626.8 L637.1 1626.3 L637.1 1619.1 L637.1 1611.9 L637.1 1604.7 L637.1 1597.4 L637.1 1590.2 L637.1 1583.0Z" fill="#f58e90" stroke="#f4ee8c" stroke-width="2.8" stroke-linejoin="round"/>
<rect x="629.95" y="1645.00" width="14.30" height="12.90" fill="#ec1c24"/>
<rect x="629.95" y="1650.90" width="14.30" height="2.80" fill="#fff"/>
<path d="M690.2 1585.3 L690.2 1595.0 L690.2 1604.8 L690.2 1614.5 L690.2 1624.3 L690.2 1634.0 L690.2 1643.8 L690.3 1644.0 L690.5 1644.2 L690.7 1644.4 L690.9 1644.6 L691.2 1644.8 L691.5 1645.0 L691.8 1645.5 L692.2 1646.0 L692.6 1646.5 L693.1 1647.0 L693.6 1647.5 L694.3 1648.0 L695.1 1648.6 L696.0 1649.1 L697.0 1649.6 L698.0 1650.1 L699.1 1650.6 L700.1 1651.1 L701.3 1651.6 L702.4 1652.1 L703.7 1652.6 L704.9 1653.1 L706.0 1653.6 L707.0 1654.2 L708.0 1654.7 L709.0 1655.2 L709.9 1655.7 L710.7 1656.2 L711.4 1656.7 L711.8 1657.2 L712.0 1657.7 L712.0 1658.2 L711.8 1658.7 L711.4 1659.2 L711.0 1659.7 L710.5 1660.2 L709.9 1660.6 L709.0 1661.0 L708.1 1661.4 L707.1 1661.8 L706.2 1662.2 L705.3 1662.6 L704.5 1662.7 L703.7 1662.9 L703.0 1663.1 L702.2 1663.3 L701.6 1663.4 L701.0 1663.6 L700.5 1663.7 L700.0 1663.7 L699.7 1663.8 L699.3 1663.8 L699.1 1663.9 L698.8 1663.9 L681.6 1663.9 L681.4 1663.9 L681.1 1663.8 L680.8 1663.8 L680.4 1663.7 L679.9 1663.7 L679.4 1663.6 L678.8 1663.4 L678.2 1663.3 L677.4 1663.1 L676.7 1662.9 L675.9 1662.7 L675.1 1662.6 L674.2 1662.2 L673.3 1661.8 L672.3 1661.4 L671.4 1661.0 L670.5 1660.6 L669.9 1660.2 L669.4 1659.7 L669.0 1659.2 L668.6 1658.7 L668.4 1658.2 L668.4 1657.7 L668.6 1657.2 L669.0 1656.7 L669.7 1656.2 L670.5 1655.7 L671.4 1655.2 L672.4 1654.7 L673.4 1654.2 L674.4 1653.6 L675.5 1653.1 L676.7 1652.6 L678.0 1652.1 L679.1 1651.6 L680.3 1651.1 L681.3 1650.6 L682.4 1650.1 L683.4 1649.6 L684.4 1649.1 L685.3 1648.6 L686.1 1648.0 L686.8 1647.5 L687.3 1647.0 L687.8 1646.5 L688.2 1646.0 L688.6 1645.5 L688.9 1645.0 L689.2 1644.8 L689.5 1644.6 L689.7 1644.4 L689.9 1644.2 L690.1 1644.0 L690.2 1643.8 L690.2 1634.0 L690.2 1624.3 L690.2 1614.5 L690.2 1604.8 L690.2 1595.0 L690.2 1585.3Z" fill="#f58e90" stroke="#f4ee8c" stroke-width="2.8" stroke-linejoin="round"/>
<rect x="683.05" y="1654.50" width="14.30" height="6.00" fill="#ec1c24"/>
<rect x="683.05" y="1655.80" width="14.30" height="2.80" fill="#fff"/>
<path d="M743.3 1573.5 L743.3 1581.1 L743.3 1588.8 L743.3 1596.4 L743.3 1604.1 L743.3 1611.7 L743.3 1619.4 L743.4 1619.8 L743.6 1620.2 L743.8 1620.7 L744.0 1621.1 L744.3 1621.6 L744.6 1622.0 L744.9 1623.1 L745.3 1624.2 L745.7 1625.3 L746.2 1626.4 L746.8 1627.5 L747.4 1628.6 L748.2 1629.7 L749.1 1630.8 L750.1 1631.9 L751.1 1633.0 L752.2 1634.1 L753.3 1635.2 L754.4 1636.2 L755.6 1637.3 L756.8 1638.4 L758.0 1639.5 L759.2 1640.6 L760.2 1641.7 L761.2 1642.8 L762.2 1643.9 L763.1 1645.0 L763.9 1646.1 L764.6 1647.2 L765.0 1648.3 L765.2 1649.4 L765.2 1650.5 L765.0 1651.6 L764.6 1652.7 L764.2 1653.7 L763.7 1654.8 L763.0 1655.7 L762.2 1656.5 L761.3 1657.4 L760.3 1658.2 L759.4 1659.1 L758.5 1659.9 L757.7 1660.3 L756.9 1660.8 L756.1 1661.2 L755.4 1661.6 L754.7 1662.1 L754.1 1662.5 L753.6 1662.5 L753.2 1662.6 L752.8 1662.7 L752.5 1662.7 L752.2 1662.8 L752.0 1662.8 L734.6 1662.8 L734.4 1662.8 L734.1 1662.7 L733.8 1662.7 L733.4 1662.6 L733.0 1662.5 L732.4 1662.5 L731.9 1662.1 L731.2 1661.6 L730.5 1661.2 L729.7 1660.8 L728.9 1660.3 L728.1 1659.9 L727.2 1659.1 L726.3 1658.2 L725.3 1657.4 L724.4 1656.5 L723.6 1655.7 L722.9 1654.8 L722.4 1653.7 L722.0 1652.7 L721.6 1651.6 L721.4 1650.5 L721.4 1649.4 L721.6 1648.3 L722.0 1647.2 L722.7 1646.1 L723.5 1645.0 L724.4 1643.9 L725.4 1642.8 L726.4 1641.7 L727.4 1640.6 L728.6 1639.5 L729.8 1638.4 L731.0 1637.3 L732.2 1636.2 L733.3 1635.2 L734.4 1634.1 L735.5 1633.0 L736.5 1631.9 L737.5 1630.8 L738.4 1629.7 L739.2 1628.6 L739.8 1627.5 L740.4 1626.4 L740.9 1625.3 L741.3 1624.2 L741.7 1623.1 L742.0 1622.0 L742.3 1621.6 L742.6 1621.1 L742.8 1620.7 L743.0 1620.2 L743.2 1619.8 L743.3 1619.4 L743.3 1611.7 L743.3 1604.1 L743.3 1596.4 L743.3 1588.8 L743.3 1581.1 L743.3 1573.5Z" fill="#f58e90" stroke="#f4ee8c" stroke-width="2.8" stroke-linejoin="round"/>
<rect x="736.15" y="1640.90" width="14.30" height="13.60" fill="#ec1c24"/>
<rect x="736.15" y="1645.70" width="14.30" height="2.80" fill="#fff"/>
<path d="M796.4 1623.3 L796.4 1624.0 L796.4 1624.8 L796.4 1625.5 L796.4 1626.3 L796.4 1627.0 L796.4 1627.7 L796.5 1628.1 L796.7 1628.5 L796.9 1628.9 L797.1 1629.2 L797.4 1629.6 L797.7 1630.0 L798.0 1630.9 L798.4 1631.9 L798.8 1632.8 L799.3 1633.8 L799.9 1634.7 L800.5 1635.7 L801.3 1636.6 L802.2 1637.6 L803.2 1638.5 L804.2 1639.5 L805.3 1640.4 L806.4 1641.3 L807.5 1642.3 L808.7 1643.2 L809.9 1644.2 L811.1 1645.1 L812.3 1646.1 L813.3 1647.0 L814.3 1648.0 L815.3 1648.9 L816.2 1649.9 L817.0 1650.8 L817.7 1651.8 L818.1 1652.7 L818.3 1653.5 L818.3 1654.2 L818.1 1655.0 L817.7 1655.7 L817.3 1656.5 L816.8 1657.2 L816.1 1657.8 L815.3 1658.4 L814.4 1659.0 L813.4 1659.6 L812.5 1660.2 L811.6 1660.8 L810.8 1661.1 L810.0 1661.4 L809.2 1661.6 L808.5 1661.9 L807.8 1662.2 L807.2 1662.5 L806.7 1662.5 L806.3 1662.6 L805.9 1662.7 L805.6 1662.7 L805.3 1662.8 L805.1 1662.8 L787.7 1662.8 L787.5 1662.8 L787.2 1662.7 L786.9 1662.7 L786.5 1662.6 L786.1 1662.5 L785.5 1662.5 L785.0 1662.2 L784.3 1661.9 L783.6 1661.6 L782.8 1661.4 L782.0 1661.1 L781.2 1660.8 L780.3 1660.2 L779.4 1659.6 L778.4 1659.0 L777.5 1658.4 L776.7 1657.8 L776.0 1657.2 L775.5 1656.5 L775.1 1655.7 L774.7 1655.0 L774.5 1654.2 L774.5 1653.5 L774.7 1652.7 L775.1 1651.8 L775.8 1650.8 L776.6 1649.9 L777.5 1648.9 L778.5 1648.0 L779.5 1647.0 L780.5 1646.1 L781.7 1645.1 L782.9 1644.2 L784.1 1643.2 L785.3 1642.3 L786.4 1641.3 L787.5 1640.4 L788.6 1639.5 L789.6 1638.5 L790.6 1637.6 L791.5 1636.6 L792.3 1635.7 L792.9 1634.7 L793.5 1633.8 L794.0 1632.8 L794.4 1631.9 L794.8 1630.9 L795.1 1630.0 L795.4 1629.6 L795.7 1629.2 L795.9 1628.9 L796.1 1628.5 L796.3 1628.1 L796.4 1627.7 L796.4 1627.0 L796.4 1626.3 L796.4 1625.5 L796.4 1624.8 L796.4 1624.0 L796.4 1623.3Z" fill="#f58e90" stroke="#f4ee8c" stroke-width="2.8" stroke-linejoin="round"/>
<rect x="789.25" y="1647.10" width="14.30" height="10.50" fill="#ec1c24"/>
<rect x="789.25" y="1650.70" width="14.30" height="2.80" fill="#fff"/>
<path d="M849.5 1617.5 L849.5 1622.0 L849.5 1626.6 L849.5 1631.1 L849.5 1635.6 L849.5 1640.1 L849.5 1644.7 L849.6 1644.9 L849.8 1645.1 L850.0 1645.3 L850.2 1645.6 L850.5 1645.8 L850.8 1646.0 L851.1 1646.6 L851.5 1647.1 L851.9 1647.7 L852.4 1648.2 L852.9 1648.8 L853.6 1649.3 L854.3 1649.9 L855.2 1650.5 L856.2 1651.0 L857.2 1651.6 L858.3 1652.1 L859.3 1652.7 L860.4 1653.3 L861.6 1653.8 L862.8 1654.4 L864.0 1654.9 L865.2 1655.5 L866.2 1656.1 L867.2 1656.6 L868.1 1657.2 L869.1 1657.7 L869.9 1658.3 L870.5 1658.8 L870.9 1659.4 L871.1 1659.7 L871.1 1660.1 L870.9 1660.4 L870.6 1660.8 L870.1 1661.1 L869.6 1661.4 L869.0 1661.7 L868.2 1662.0 L867.2 1662.2 L866.3 1662.5 L865.3 1662.7 L864.5 1663.0 L863.7 1663.1 L862.9 1663.2 L862.2 1663.3 L861.4 1663.4 L860.8 1663.5 L860.2 1663.6 L859.7 1663.7 L859.2 1663.7 L858.9 1663.8 L858.5 1663.8 L858.3 1663.9 L858.1 1663.9 L840.9 1663.9 L840.7 1663.9 L840.5 1663.8 L840.1 1663.8 L839.8 1663.7 L839.3 1663.7 L838.8 1663.6 L838.2 1663.5 L837.6 1663.4 L836.8 1663.3 L836.1 1663.2 L835.3 1663.1 L834.5 1663.0 L833.7 1662.7 L832.7 1662.5 L831.8 1662.2 L830.8 1662.0 L830.0 1661.7 L829.4 1661.4 L828.9 1661.1 L828.4 1660.8 L828.1 1660.4 L827.9 1660.1 L827.9 1659.7 L828.1 1659.4 L828.5 1658.8 L829.1 1658.3 L829.9 1657.7 L830.9 1657.2 L831.8 1656.6 L832.8 1656.1 L833.8 1655.5 L835.0 1654.9 L836.2 1654.4 L837.4 1653.8 L838.6 1653.3 L839.7 1652.7 L840.7 1652.1 L841.8 1651.6 L842.8 1651.0 L843.8 1650.5 L844.7 1649.9 L845.4 1649.3 L846.1 1648.8 L846.6 1648.2 L847.1 1647.7 L847.5 1647.1 L847.9 1646.6 L848.2 1646.0 L848.5 1645.8 L848.8 1645.6 L849.0 1645.3 L849.2 1645.1 L849.4 1644.9 L849.5 1644.7 L849.5 1640.1 L849.5 1635.6 L849.5 1631.1 L849.5 1626.6 L849.5 1622.0 L849.5 1617.5Z" fill="#f58e90" stroke="#f4ee8c" stroke-width="2.8" stroke-linejoin="round"/>
<rect x="842.35" y="1654.50" width="14.30" height="6.00" fill="#ec1c24"/>
<rect x="842.35" y="1656.20" width="14.30" height="2.80" fill="#fff"/>
<path d="M902.6 1626.0 L902.6 1629.7 L902.6 1633.3 L902.6 1637.0 L902.6 1640.7 L902.6 1644.3 L902.6 1648.0 L902.7 1648.2 L902.9 1648.3 L903.1 1648.5 L903.3 1648.7 L903.6 1648.8 L903.9 1649.0 L904.3 1649.4 L904.6 1649.8 L905.0 1650.2 L905.5 1650.6 L906.1 1651.0 L906.7 1651.5 L907.5 1651.9 L908.4 1652.3 L909.4 1652.7 L910.5 1653.1 L911.5 1653.5 L912.6 1653.9 L913.8 1654.3 L915.0 1654.7 L916.2 1655.1 L917.4 1655.5 L918.6 1655.9 L919.6 1656.3 L920.6 1656.8 L921.6 1657.2 L922.5 1657.6 L923.3 1658.0 L924.0 1658.4 L924.4 1658.8 L924.6 1659.2 L924.6 1659.6 L924.4 1659.9 L924.0 1660.3 L923.6 1660.7 L923.1 1661.1 L922.4 1661.4 L921.6 1661.7 L920.7 1662.0 L919.7 1662.3 L918.7 1662.6 L917.9 1662.9 L917.1 1663.0 L916.3 1663.1 L915.5 1663.2 L914.8 1663.4 L914.1 1663.5 L913.5 1663.6 L913.0 1663.7 L912.5 1663.7 L912.1 1663.8 L911.8 1663.8 L911.5 1663.9 L911.3 1663.9 L893.9 1663.9 L893.7 1663.9 L893.4 1663.8 L893.1 1663.8 L892.7 1663.7 L892.2 1663.7 L891.7 1663.6 L891.1 1663.5 L890.4 1663.4 L889.7 1663.2 L888.9 1663.1 L888.1 1663.0 L887.3 1662.9 L886.5 1662.6 L885.5 1662.3 L884.5 1662.0 L883.6 1661.7 L882.8 1661.4 L882.1 1661.1 L881.6 1660.7 L881.2 1660.3 L880.8 1659.9 L880.6 1659.6 L880.6 1659.2 L880.8 1658.8 L881.2 1658.4 L881.9 1658.0 L882.7 1657.6 L883.6 1657.2 L884.6 1656.8 L885.6 1656.3 L886.6 1655.9 L887.8 1655.5 L889.0 1655.1 L890.2 1654.7 L891.4 1654.3 L892.6 1653.9 L893.7 1653.5 L894.7 1653.1 L895.8 1652.7 L896.8 1652.3 L897.7 1651.9 L898.5 1651.5 L899.1 1651.0 L899.7 1650.6 L900.2 1650.2 L900.6 1649.8 L900.9 1649.4 L901.3 1649.0 L901.6 1648.8 L901.9 1648.7 L902.1 1648.5 L902.3 1648.3 L902.5 1648.2 L902.6 1648.0 L902.6 1644.3 L902.6 1640.7 L902.6 1637.0 L902.6 1633.3 L902.6 1629.7 L902.6 1626.0Z" fill="#f58e90" stroke="#f4ee8c" stroke-width="2.8" stroke-linejoin="round"/>
<rect x="895.45" y="1656.00" width="14.30" height="5.00" fill="#ec1c24"/>
<rect x="895.45" y="1657.00" width="14.30" height="2.80" fill="#fff"/>
<path d="M956.2 1476.2 L956.2 1483.5 L956.2 1490.8 L956.2 1498.1 L956.2 1505.4 L956.2 1512.7 L956.3 1520.0 L956.4 1522.5 L956.5 1525.0 L956.7 1527.5 L956.9 1530.0 L957.1 1532.5 L957.5 1535.0 L958.0 1537.5 L958.6 1540.0 L959.2 1542.5 L960.0 1545.0 L960.7 1547.5 L961.5 1550.0 L962.3 1552.5 L963.2 1555.0 L964.2 1557.5 L965.1 1560.0 L966.1 1562.5 L967.0 1565.0 L967.9 1567.5 L968.8 1570.0 L969.7 1572.5 L970.5 1575.0 L971.3 1577.5 L972.0 1580.0 L972.6 1582.3 L973.2 1584.7 L973.8 1587.0 L974.2 1589.3 L974.5 1591.7 L974.7 1594.0 L974.7 1596.0 L974.6 1598.0 L974.3 1600.0 L974.0 1602.0 L973.5 1604.0 L973.0 1606.0 L972.4 1608.3 L971.6 1610.7 L970.8 1613.0 L969.9 1615.3 L968.9 1617.7 L968.0 1620.0 L967.0 1622.5 L966.0 1625.0 L964.9 1627.5 L963.9 1630.0 L962.9 1632.5 L962.0 1635.0 L961.2 1636.7 L960.4 1638.3 L959.6 1640.0 L958.9 1641.7 L958.4 1643.3 L958.0 1645.0 L958.0 1645.6 L958.0 1646.2 L958.0 1646.8 L958.1 1647.5 L958.2 1648.1 L958.3 1648.7 L958.3 1649.2 L958.4 1649.6 L958.4 1650.1 L958.4 1650.5 L958.4 1651.0 L958.4 1651.4 L950.6 1651.4 L950.6 1651.0 L950.6 1650.5 L950.6 1650.1 L950.6 1649.6 L950.7 1649.2 L950.7 1648.7 L950.8 1648.1 L950.9 1647.5 L951.0 1646.8 L951.0 1646.2 L951.0 1645.6 L951.0 1645.0 L950.6 1643.3 L950.1 1641.7 L949.4 1640.0 L948.6 1638.3 L947.8 1636.7 L947.0 1635.0 L946.1 1632.5 L945.1 1630.0 L944.1 1627.5 L943.0 1625.0 L942.0 1622.5 L941.0 1620.0 L940.1 1617.7 L939.1 1615.3 L938.2 1613.0 L937.4 1610.7 L936.6 1608.3 L936.0 1606.0 L935.5 1604.0 L935.0 1602.0 L934.7 1600.0 L934.4 1598.0 L934.3 1596.0 L934.3 1594.0 L934.5 1591.7 L934.8 1589.3 L935.2 1587.0 L935.8 1584.7 L936.4 1582.3 L937.0 1580.0 L937.7 1577.5 L938.5 1575.0 L939.3 1572.5 L940.2 1570.0 L941.1 1567.5 L942.0 1565.0 L942.9 1562.5 L943.9 1560.0 L944.8 1557.5 L945.8 1555.0 L946.7 1552.5 L947.5 1550.0 L948.3 1547.5 L949.0 1545.0 L949.8 1542.5 L950.4 1540.0 L951.0 1537.5 L951.5 1535.0 L951.9 1532.5 L952.1 1530.0 L952.3 1527.5 L952.5 1525.0 L952.6 1522.5 L952.7 1520.0 L952.8 1512.7 L952.8 1505.4 L952.8 1498.1 L952.8 1490.8 L952.8 1483.5 L952.8 1476.2Z" fill="#a3dfe0"/>
<rect x="949.25" y="1571.00" width="14.50" height="42.40" fill="#566069"/>
<rect x="949.25" y="1591.30" width="14.50" height="3.20" fill="#fff"/>
<path d="M1010.4 1532.0 L1010.4 1536.7 L1010.4 1541.3 L1010.4 1546.0 L1010.4 1550.7 L1010.4 1555.3 L1010.6 1560.0 L1010.8 1562.5 L1011.1 1565.0 L1011.4 1567.5 L1011.8 1570.0 L1012.3 1572.5 L1012.8 1575.0 L1013.4 1577.5 L1014.1 1580.0 L1014.8 1582.5 L1015.6 1585.0 L1016.5 1587.5 L1017.3 1590.0 L1018.2 1592.5 L1019.1 1595.0 L1020.1 1597.5 L1021.0 1600.0 L1021.9 1602.5 L1022.8 1605.0 L1023.6 1607.0 L1024.4 1609.0 L1025.1 1611.0 L1025.8 1613.0 L1026.4 1615.0 L1027.0 1617.0 L1027.5 1618.8 L1027.9 1620.7 L1028.2 1622.5 L1028.5 1624.3 L1028.8 1626.2 L1029.0 1628.0 L1029.2 1629.5 L1029.4 1631.0 L1029.6 1632.5 L1029.7 1634.0 L1029.8 1635.5 L1029.8 1637.0 L1029.7 1638.3 L1029.6 1639.7 L1029.3 1641.0 L1029.1 1642.3 L1028.7 1643.7 L1028.3 1645.0 L1027.8 1646.2 L1027.2 1647.3 L1026.5 1648.5 L1025.8 1649.7 L1025.1 1650.8 L1024.3 1652.0 L1023.5 1653.0 L1022.7 1654.0 L1021.8 1655.0 L1020.9 1656.0 L1020.1 1657.0 L1019.3 1658.0 L1018.6 1658.7 L1017.9 1659.3 L1017.3 1660.0 L1016.8 1660.7 L1016.3 1661.3 L1015.8 1662.0 L1015.4 1662.3 L1015.1 1662.6 L1014.8 1663.0 L1014.6 1663.3 L1014.4 1663.6 L1014.3 1663.9 L1003.3 1663.9 L1003.2 1663.6 L1003.0 1663.3 L1002.8 1663.0 L1002.5 1662.6 L1002.2 1662.3 L1001.8 1662.0 L1001.3 1661.3 L1000.8 1660.7 L1000.3 1660.0 L999.7 1659.3 L999.0 1658.7 L998.3 1658.0 L997.5 1657.0 L996.7 1656.0 L995.8 1655.0 L994.9 1654.0 L994.1 1653.0 L993.3 1652.0 L992.5 1650.8 L991.8 1649.7 L991.1 1648.5 L990.4 1647.3 L989.8 1646.2 L989.3 1645.0 L988.9 1643.7 L988.5 1642.3 L988.2 1641.0 L988.0 1639.7 L987.9 1638.3 L987.8 1637.0 L987.8 1635.5 L987.9 1634.0 L988.0 1632.5 L988.2 1631.0 L988.4 1629.5 L988.6 1628.0 L988.8 1626.2 L989.1 1624.3 L989.4 1622.5 L989.7 1620.7 L990.1 1618.8 L990.6 1617.0 L991.2 1615.0 L991.8 1613.0 L992.5 1611.0 L993.2 1609.0 L994.0 1607.0 L994.8 1605.0 L995.7 1602.5 L996.6 1600.0 L997.5 1597.5 L998.5 1595.0 L999.4 1592.5 L1000.3 1590.0 L1001.1 1587.5 L1002.0 1585.0 L1002.8 1582.5 L1003.5 1580.0 L1004.2 1577.5 L1004.8 1575.0 L1005.3 1572.5 L1005.8 1570.0 L1006.2 1567.5 L1006.5 1565.0 L1006.8 1562.5 L1007.0 1560.0 L1007.2 1555.3 L1007.2 1550.7 L1007.2 1546.0 L1007.2 1541.3 L1007.2 1536.7 L1007.2 1532.0Z" fill="#bca7d2"/>
<rect x="1001.55" y="1608.00" width="14.50" height="34.70" fill="#566069"/>
<rect x="1001.55" y="1624.10" width="14.50" height="3.20" fill="#fff"/>
<path d="M1063.4 1497.0 L1063.4 1512.5 L1063.4 1528.0 L1063.4 1543.5 L1063.4 1559.0 L1063.4 1574.5 L1063.5 1590.0 L1063.7 1592.5 L1063.9 1595.0 L1064.2 1597.5 L1064.5 1600.0 L1064.9 1602.5 L1065.4 1605.0 L1065.9 1607.2 L1066.5 1609.3 L1067.2 1611.5 L1067.9 1613.7 L1068.6 1615.8 L1069.4 1618.0 L1070.2 1620.0 L1071.1 1622.0 L1072.1 1624.0 L1073.0 1626.0 L1074.0 1628.0 L1074.9 1630.0 L1075.8 1631.7 L1076.8 1633.3 L1077.8 1635.0 L1078.8 1636.7 L1079.6 1638.3 L1080.4 1640.0 L1081.1 1641.6 L1081.7 1643.3 L1082.3 1644.9 L1082.7 1646.5 L1083.0 1648.2 L1083.2 1649.8 L1083.2 1650.7 L1083.0 1651.5 L1082.8 1652.4 L1082.4 1653.3 L1081.9 1654.1 L1081.4 1655.0 L1080.8 1655.7 L1080.2 1656.3 L1079.4 1657.0 L1078.6 1657.7 L1077.8 1658.3 L1076.9 1659.0 L1075.9 1659.5 L1074.8 1660.0 L1073.6 1660.5 L1072.5 1661.0 L1071.6 1661.5 L1070.9 1662.0 L1052.9 1662.0 L1052.2 1661.5 L1051.3 1661.0 L1050.2 1660.5 L1049.0 1660.0 L1047.9 1659.5 L1046.9 1659.0 L1046.0 1658.3 L1045.2 1657.7 L1044.4 1657.0 L1043.6 1656.3 L1043.0 1655.7 L1042.4 1655.0 L1041.9 1654.1 L1041.4 1653.3 L1041.0 1652.4 L1040.8 1651.5 L1040.6 1650.7 L1040.6 1649.8 L1040.8 1648.2 L1041.1 1646.5 L1041.5 1644.9 L1042.1 1643.3 L1042.7 1641.6 L1043.4 1640.0 L1044.2 1638.3 L1045.0 1636.7 L1046.0 1635.0 L1047.0 1633.3 L1048.0 1631.7 L1048.9 1630.0 L1049.8 1628.0 L1050.8 1626.0 L1051.7 1624.0 L1052.7 1622.0 L1053.6 1620.0 L1054.4 1618.0 L1055.2 1615.8 L1055.9 1613.7 L1056.6 1611.5 L1057.3 1609.3 L1057.9 1607.2 L1058.4 1605.0 L1058.9 1602.5 L1059.3 1600.0 L1059.6 1597.5 L1059.9 1595.0 L1060.1 1592.5 L1060.3 1590.0 L1060.4 1574.5 L1060.4 1559.0 L1060.4 1543.5 L1060.4 1528.0 L1060.4 1512.5 L1060.4 1497.0Z" fill="#af95c8"/>
<rect x="1054.65" y="1629.00" width="14.50" height="22.40" fill="#566069"/>
<rect x="1054.65" y="1640.00" width="14.50" height="3.20" fill="#fff"/>
<path d="M1117.0 1531.5 L1117.0 1538.8 L1117.0 1546.0 L1117.0 1553.2 L1117.1 1560.5 L1117.1 1567.8 L1117.2 1575.0 L1117.3 1578.3 L1117.5 1581.7 L1117.7 1585.0 L1117.9 1588.3 L1118.2 1591.7 L1118.4 1595.0 L1118.6 1597.8 L1118.9 1600.7 L1119.2 1603.5 L1119.4 1606.3 L1119.7 1609.2 L1120.0 1612.0 L1120.3 1613.7 L1120.6 1615.3 L1120.8 1617.0 L1121.2 1618.7 L1121.5 1620.3 L1122.0 1622.0 L1122.5 1623.3 L1123.1 1624.7 L1123.8 1626.0 L1124.4 1627.3 L1125.2 1628.7 L1126.0 1630.0 L1126.9 1631.3 L1127.9 1632.7 L1129.0 1634.0 L1130.1 1635.3 L1131.1 1636.7 L1132.0 1638.0 L1132.8 1639.2 L1133.7 1640.5 L1134.4 1641.7 L1135.1 1642.9 L1135.6 1644.2 L1136.0 1645.4 L1136.2 1646.3 L1136.1 1647.3 L1136.0 1648.2 L1135.7 1649.1 L1135.4 1650.1 L1135.0 1651.0 L1134.6 1651.8 L1134.0 1652.7 L1133.4 1653.5 L1132.8 1654.3 L1132.1 1655.2 L1131.5 1656.0 L1130.9 1656.7 L1130.2 1657.4 L1129.5 1658.2 L1128.9 1658.9 L1128.4 1659.6 L1128.0 1660.3 L1102.0 1660.3 L1101.6 1659.6 L1101.1 1658.9 L1100.5 1658.2 L1099.8 1657.4 L1099.1 1656.7 L1098.5 1656.0 L1097.9 1655.2 L1097.2 1654.3 L1096.6 1653.5 L1096.0 1652.7 L1095.4 1651.8 L1095.0 1651.0 L1094.6 1650.1 L1094.3 1649.1 L1094.0 1648.2 L1093.9 1647.3 L1093.8 1646.3 L1094.0 1645.4 L1094.4 1644.2 L1094.9 1642.9 L1095.6 1641.7 L1096.3 1640.5 L1097.2 1639.2 L1098.0 1638.0 L1098.9 1636.7 L1099.9 1635.3 L1101.0 1634.0 L1102.1 1632.7 L1103.1 1631.3 L1104.0 1630.0 L1104.8 1628.7 L1105.6 1627.3 L1106.2 1626.0 L1106.9 1624.7 L1107.5 1623.3 L1108.0 1622.0 L1108.5 1620.3 L1108.8 1618.7 L1109.2 1617.0 L1109.4 1615.3 L1109.7 1613.7 L1110.0 1612.0 L1110.3 1609.2 L1110.6 1606.3 L1110.8 1603.5 L1111.1 1600.7 L1111.4 1597.8 L1111.6 1595.0 L1111.8 1591.7 L1112.1 1588.3 L1112.3 1585.0 L1112.5 1581.7 L1112.7 1578.3 L1112.8 1575.0 L1112.9 1567.8 L1112.9 1560.5 L1113.0 1553.2 L1113.0 1546.0 L1113.0 1538.8 L1113.0 1531.5Z" fill="#b9e4df"/>
<rect x="1107.75" y="1624.80" width="14.50" height="23.20" fill="#566069"/>
<rect x="1107.75" y="1641.50" width="14.50" height="3.20" fill="#fff"/>
<path d="M1180.1 1556.5 L1180.4 1557.9 L1180.7 1559.3 L1181.1 1560.8 L1181.5 1562.2 L1182.1 1563.6 L1182.6 1565.0 L1183.2 1567.5 L1183.9 1570.0 L1184.7 1572.5 L1185.5 1575.0 L1186.2 1577.5 L1186.9 1580.0 L1187.5 1582.5 L1188.1 1585.0 L1188.6 1587.5 L1189.1 1590.0 L1189.5 1592.5 L1189.9 1595.0 L1190.2 1597.5 L1190.5 1600.0 L1190.7 1602.5 L1190.8 1605.0 L1191.0 1607.5 L1191.1 1610.0 L1191.2 1612.5 L1191.2 1615.0 L1191.2 1617.5 L1191.2 1620.0 L1191.2 1622.5 L1191.2 1625.0 L1191.1 1627.5 L1191.0 1630.0 L1190.9 1632.5 L1190.8 1635.0 L1190.6 1637.5 L1190.5 1640.0 L1190.4 1641.7 L1190.2 1643.4 L1190.0 1645.2 L1189.8 1646.9 L1189.7 1648.6 L1189.6 1650.3 L1146.6 1650.3 L1146.5 1648.6 L1146.4 1646.9 L1146.2 1645.2 L1146.0 1643.4 L1145.8 1641.7 L1145.7 1640.0 L1145.6 1637.5 L1145.4 1635.0 L1145.3 1632.5 L1145.2 1630.0 L1145.1 1627.5 L1145.0 1625.0 L1145.0 1622.5 L1145.0 1620.0 L1145.0 1617.5 L1145.0 1615.0 L1145.0 1612.5 L1145.1 1610.0 L1145.2 1607.5 L1145.4 1605.0 L1145.5 1602.5 L1145.7 1600.0 L1146.0 1597.5 L1146.3 1595.0 L1146.7 1592.5 L1147.1 1590.0 L1147.6 1587.5 L1148.1 1585.0 L1148.7 1582.5 L1149.3 1580.0 L1150.0 1577.5 L1150.7 1575.0 L1151.5 1572.5 L1152.3 1570.0 L1153.0 1567.5 L1153.6 1565.0 L1154.1 1563.6 L1154.7 1562.2 L1155.1 1560.8 L1155.5 1559.3 L1155.8 1557.9 L1156.1 1556.5Z" fill="#b8e3d2"/>
<rect x="1160.85" y="1591.10" width="14.50" height="49.80" fill="#566069"/>
<rect x="1160.85" y="1598.70" width="14.50" height="3.20" fill="#fff"/>
<path d="M1223.2 1601.1 L1223.2 1603.8 L1223.2 1606.4 L1223.2 1609.0 L1223.3 1611.7 L1223.4 1614.3 L1223.5 1617.0 L1223.7 1618.3 L1223.9 1619.7 L1224.1 1621.0 L1224.4 1622.3 L1224.8 1623.7 L1225.2 1625.0 L1225.7 1626.3 L1226.3 1627.7 L1226.9 1629.0 L1227.6 1630.3 L1228.4 1631.7 L1229.2 1633.0 L1230.1 1634.3 L1231.1 1635.7 L1232.1 1637.0 L1233.2 1638.3 L1234.2 1639.7 L1235.2 1641.0 L1236.2 1642.2 L1237.2 1643.3 L1238.2 1644.5 L1239.1 1645.7 L1239.9 1646.8 L1240.7 1648.0 L1241.4 1649.0 L1242.0 1650.0 L1242.6 1651.0 L1243.0 1652.1 L1243.3 1653.1 L1243.5 1654.1 L1243.5 1654.8 L1243.5 1655.4 L1243.3 1656.0 L1243.0 1656.7 L1242.4 1657.3 L1241.7 1658.0 L1240.6 1658.6 L1239.0 1659.3 L1237.3 1659.9 L1235.7 1660.5 L1234.2 1661.2 L1233.2 1661.8 L1209.2 1661.8 L1208.2 1661.2 L1206.7 1660.5 L1205.1 1659.9 L1203.4 1659.3 L1201.8 1658.6 L1200.7 1658.0 L1200.0 1657.3 L1199.4 1656.7 L1199.1 1656.0 L1198.9 1655.4 L1198.9 1654.8 L1198.9 1654.1 L1199.1 1653.1 L1199.4 1652.1 L1199.8 1651.0 L1200.4 1650.0 L1201.0 1649.0 L1201.7 1648.0 L1202.5 1646.8 L1203.3 1645.7 L1204.2 1644.5 L1205.2 1643.3 L1206.2 1642.2 L1207.2 1641.0 L1208.2 1639.7 L1209.2 1638.3 L1210.3 1637.0 L1211.3 1635.7 L1212.3 1634.3 L1213.2 1633.0 L1214.0 1631.7 L1214.8 1630.3 L1215.5 1629.0 L1216.1 1627.7 L1216.7 1626.3 L1217.2 1625.0 L1217.6 1623.7 L1218.0 1622.3 L1218.3 1621.0 L1218.5 1619.7 L1218.7 1618.3 L1218.9 1617.0 L1219.0 1614.3 L1219.1 1611.7 L1219.2 1609.0 L1219.2 1606.4 L1219.2 1603.8 L1219.2 1601.1Z" fill="#d4dab0"/>
<rect x="1213.95" y="1642.10" width="14.50" height="13.50" fill="#566069"/>
<rect x="1213.95" y="1647.70" width="14.50" height="3.20" fill="#fff"/>
<path d="M1275.8 1494.0 L1275.8 1500.8 L1275.8 1507.7 L1275.8 1514.5 L1275.8 1521.3 L1275.8 1528.2 L1275.9 1535.0 L1276.0 1537.5 L1276.2 1540.0 L1276.4 1542.5 L1276.7 1545.0 L1277.0 1547.5 L1277.3 1550.0 L1277.7 1552.5 L1278.1 1555.0 L1278.6 1557.5 L1279.1 1560.0 L1279.7 1562.5 L1280.3 1565.0 L1280.9 1567.5 L1281.6 1570.0 L1282.3 1572.5 L1283.1 1575.0 L1283.9 1577.5 L1284.8 1580.0 L1285.8 1582.5 L1286.9 1585.0 L1288.1 1587.5 L1289.2 1590.0 L1290.3 1592.5 L1291.3 1595.0 L1292.1 1596.7 L1292.9 1598.3 L1293.6 1600.0 L1294.3 1601.7 L1294.8 1603.3 L1295.3 1605.0 L1295.7 1605.8 L1296.0 1606.7 L1296.2 1607.5 L1296.4 1608.4 L1296.5 1609.2 L1296.5 1610.1 L1296.5 1611.4 L1296.4 1612.7 L1296.3 1614.0 L1296.1 1615.4 L1295.8 1616.7 L1295.3 1618.0 L1294.7 1620.0 L1293.9 1622.0 L1292.9 1624.0 L1291.9 1626.0 L1290.9 1628.0 L1289.8 1630.0 L1288.6 1632.0 L1287.3 1634.0 L1286.0 1636.0 L1284.7 1638.0 L1283.4 1640.0 L1282.3 1642.0 L1281.3 1643.5 L1280.4 1645.0 L1279.5 1646.5 L1278.8 1648.0 L1278.1 1649.5 L1277.5 1651.0 L1277.0 1651.8 L1276.6 1652.7 L1276.3 1653.5 L1276.1 1654.3 L1275.9 1655.2 L1275.8 1656.0 L1272.8 1656.0 L1272.7 1655.2 L1272.5 1654.3 L1272.2 1653.5 L1272.0 1652.7 L1271.6 1651.8 L1271.1 1651.0 L1270.5 1649.5 L1269.8 1648.0 L1269.1 1646.5 L1268.2 1645.0 L1267.3 1643.5 L1266.3 1642.0 L1265.2 1640.0 L1263.9 1638.0 L1262.6 1636.0 L1261.3 1634.0 L1260.0 1632.0 L1258.8 1630.0 L1257.7 1628.0 L1256.7 1626.0 L1255.7 1624.0 L1254.7 1622.0 L1253.9 1620.0 L1253.3 1618.0 L1252.8 1616.7 L1252.5 1615.4 L1252.3 1614.0 L1252.2 1612.7 L1252.1 1611.4 L1252.1 1610.1 L1252.1 1609.2 L1252.2 1608.4 L1252.4 1607.5 L1252.6 1606.7 L1252.9 1605.8 L1253.3 1605.0 L1253.8 1603.3 L1254.3 1601.7 L1255.0 1600.0 L1255.7 1598.3 L1256.5 1596.7 L1257.3 1595.0 L1258.3 1592.5 L1259.4 1590.0 L1260.5 1587.5 L1261.7 1585.0 L1262.8 1582.5 L1263.8 1580.0 L1264.7 1577.5 L1265.5 1575.0 L1266.3 1572.5 L1267.0 1570.0 L1267.7 1567.5 L1268.3 1565.0 L1268.9 1562.5 L1269.5 1560.0 L1270.0 1557.5 L1270.5 1555.0 L1270.9 1552.5 L1271.3 1550.0 L1271.6 1547.5 L1271.9 1545.0 L1272.2 1542.5 L1272.4 1540.0 L1272.6 1537.5 L1272.7 1535.0 L1272.8 1528.2 L1272.8 1521.3 L1272.8 1514.5 L1272.8 1507.7 L1272.8 1500.8 L1272.8 1494.0Z" fill="#d3e79d"/>
<rect x="1267.05" y="1589.00" width="14.50" height="31.60" fill="#566069"/>
<rect x="1267.05" y="1604.10" width="14.50" height="3.20" fill="#fff"/>
<path d="M1329.4 1480.4 L1329.4 1486.2 L1329.4 1491.9 L1329.4 1497.7 L1329.4 1503.5 L1329.4 1509.2 L1329.5 1515.0 L1329.7 1517.5 L1329.9 1520.0 L1330.2 1522.5 L1330.5 1525.0 L1330.9 1527.5 L1331.4 1530.0 L1332.0 1532.5 L1332.7 1535.0 L1333.4 1537.5 L1334.2 1540.0 L1335.0 1542.5 L1335.9 1545.0 L1336.8 1547.5 L1337.8 1550.0 L1338.9 1552.5 L1339.9 1555.0 L1341.0 1557.5 L1341.9 1560.0 L1342.8 1562.0 L1343.7 1564.0 L1344.5 1566.0 L1345.3 1568.0 L1346.1 1570.0 L1346.7 1572.0 L1347.3 1573.9 L1347.8 1575.8 L1348.3 1577.7 L1348.7 1579.5 L1349.0 1581.4 L1349.1 1583.3 L1349.1 1585.1 L1348.9 1586.9 L1348.7 1588.7 L1348.3 1590.4 L1347.9 1592.2 L1347.4 1594.0 L1346.8 1596.0 L1346.1 1598.0 L1345.4 1600.0 L1344.6 1602.0 L1343.7 1604.0 L1342.9 1606.0 L1342.0 1608.0 L1341.1 1610.0 L1340.2 1612.0 L1339.2 1614.0 L1338.3 1616.0 L1337.4 1618.0 L1336.6 1619.7 L1335.7 1621.3 L1334.9 1623.0 L1334.2 1624.7 L1333.5 1626.3 L1332.9 1628.0 L1332.4 1629.0 L1331.9 1630.0 L1331.6 1631.0 L1331.3 1632.0 L1331.0 1633.0 L1330.8 1634.0 L1330.7 1634.6 L1330.7 1635.3 L1330.7 1635.9 L1330.7 1636.5 L1330.7 1637.2 L1330.7 1637.8 L1324.1 1637.8 L1324.1 1637.2 L1324.1 1636.5 L1324.1 1635.9 L1324.1 1635.3 L1324.1 1634.6 L1324.0 1634.0 L1323.8 1633.0 L1323.5 1632.0 L1323.2 1631.0 L1322.9 1630.0 L1322.4 1629.0 L1321.9 1628.0 L1321.3 1626.3 L1320.6 1624.7 L1319.9 1623.0 L1319.1 1621.3 L1318.2 1619.7 L1317.4 1618.0 L1316.5 1616.0 L1315.6 1614.0 L1314.7 1612.0 L1313.7 1610.0 L1312.8 1608.0 L1311.9 1606.0 L1311.1 1604.0 L1310.2 1602.0 L1309.4 1600.0 L1308.7 1598.0 L1308.0 1596.0 L1307.4 1594.0 L1306.9 1592.2 L1306.5 1590.4 L1306.1 1588.7 L1305.9 1586.9 L1305.7 1585.1 L1305.7 1583.3 L1305.8 1581.4 L1306.1 1579.5 L1306.5 1577.7 L1307.0 1575.8 L1307.5 1573.9 L1308.1 1572.0 L1308.7 1570.0 L1309.5 1568.0 L1310.3 1566.0 L1311.1 1564.0 L1312.0 1562.0 L1312.9 1560.0 L1313.8 1557.5 L1314.9 1555.0 L1315.9 1552.5 L1317.0 1550.0 L1318.0 1547.5 L1318.9 1545.0 L1319.8 1542.5 L1320.6 1540.0 L1321.4 1537.5 L1322.1 1535.0 L1322.8 1532.5 L1323.4 1530.0 L1323.9 1527.5 L1324.3 1525.0 L1324.6 1522.5 L1324.9 1520.0 L1325.1 1517.5 L1325.3 1515.0 L1325.4 1509.2 L1325.4 1503.5 L1325.4 1497.7 L1325.4 1491.9 L1325.4 1486.2 L1325.4 1480.4Z" fill="#bac3aa"/>
<rect x="1320.85" y="1561.30" width="14.50" height="38.70" fill="#566069"/>
<rect x="1320.85" y="1579.80" width="14.50" height="3.20" fill="#fff"/>
<path d="M1381.5 1274.9 L1381.6 1284.1 L1381.8 1293.3 L1382.1 1302.5 L1382.3 1311.6 L1382.6 1320.8 L1382.9 1330.0 L1383.2 1337.5 L1383.5 1345.0 L1383.9 1352.5 L1384.2 1360.0 L1384.5 1367.5 L1384.8 1375.0 L1385.1 1382.5 L1385.3 1390.0 L1385.5 1397.5 L1385.7 1405.0 L1385.9 1412.5 L1386.1 1420.0 L1386.3 1425.2 L1386.4 1430.3 L1386.6 1435.5 L1386.7 1440.7 L1386.8 1445.8 L1386.9 1451.0 L1387.0 1459.3 L1387.1 1467.7 L1387.1 1476.0 L1387.2 1484.3 L1387.2 1492.7 L1387.2 1501.0 L1387.1 1510.8 L1387.0 1520.7 L1386.9 1530.5 L1386.7 1540.3 L1386.6 1550.2 L1386.5 1560.0 L1386.4 1565.0 L1386.3 1570.0 L1386.3 1575.0 L1386.3 1580.0 L1386.3 1585.0 L1386.3 1590.0 L1386.5 1592.5 L1386.8 1595.0 L1387.1 1597.5 L1387.5 1600.0 L1387.9 1602.5 L1388.5 1605.0 L1389.2 1607.5 L1389.9 1610.0 L1390.8 1612.5 L1391.7 1615.0 L1392.6 1617.5 L1393.5 1620.0 L1394.4 1622.0 L1395.4 1624.0 L1396.4 1626.0 L1397.3 1628.0 L1398.2 1630.0 L1399.0 1632.0 L1399.7 1633.8 L1400.4 1635.5 L1401.0 1637.3 L1401.6 1639.1 L1402.0 1640.8 L1402.3 1642.6 L1402.4 1644.2 L1402.4 1645.7 L1402.2 1647.3 L1402.0 1648.9 L1401.7 1650.4 L1401.5 1652.0 L1401.2 1653.3 L1400.9 1654.7 L1400.6 1656.0 L1400.3 1657.3 L1400.0 1658.7 L1399.7 1660.0 L1399.5 1660.8 L1399.3 1661.5 L1399.1 1662.3 L1399.0 1663.1 L1398.9 1663.8 L1398.8 1664.6 L1362.2 1664.6 L1362.1 1663.8 L1362.0 1663.1 L1361.9 1662.3 L1361.7 1661.5 L1361.5 1660.8 L1361.3 1660.0 L1361.0 1658.7 L1360.7 1657.3 L1360.4 1656.0 L1360.1 1654.7 L1359.8 1653.3 L1359.5 1652.0 L1359.3 1650.4 L1359.0 1648.9 L1358.8 1647.3 L1358.6 1645.7 L1358.6 1644.2 L1358.7 1642.6 L1359.0 1640.8 L1359.4 1639.1 L1360.0 1637.3 L1360.6 1635.5 L1361.3 1633.8 L1362.0 1632.0 L1362.8 1630.0 L1363.7 1628.0 L1364.6 1626.0 L1365.6 1624.0 L1366.6 1622.0 L1367.5 1620.0 L1368.4 1617.5 L1369.3 1615.0 L1370.2 1612.5 L1371.1 1610.0 L1371.8 1607.5 L1372.5 1605.0 L1373.1 1602.5 L1373.5 1600.0 L1373.9 1597.5 L1374.2 1595.0 L1374.5 1592.5 L1374.7 1590.0 L1374.7 1585.0 L1374.7 1580.0 L1374.7 1575.0 L1374.7 1570.0 L1374.6 1565.0 L1374.5 1560.0 L1374.4 1550.2 L1374.3 1540.3 L1374.1 1530.5 L1374.0 1520.7 L1373.9 1510.8 L1373.8 1501.0 L1373.8 1492.7 L1373.8 1484.3 L1373.9 1476.0 L1373.9 1467.7 L1374.0 1459.3 L1374.1 1451.0 L1374.2 1445.8 L1374.3 1440.7 L1374.4 1435.5 L1374.6 1430.3 L1374.7 1425.2 L1374.9 1420.0 L1375.1 1412.5 L1375.3 1405.0 L1375.5 1397.5 L1375.7 1390.0 L1375.9 1382.5 L1376.2 1375.0 L1376.5 1367.5 L1376.8 1360.0 L1377.1 1352.5 L1377.5 1345.0 L1377.8 1337.5 L1378.1 1330.0 L1378.4 1320.8 L1378.7 1311.6 L1378.9 1302.5 L1379.2 1293.3 L1379.4 1284.1 L1379.5 1274.9Z" fill="#eda1ca"/>
<rect x="1373.25" y="1501.40" width="14.50" height="148.90" fill="#566069"/>
<rect x="1373.25" y="1615.80" width="14.50" height="3.20" fill="#fff"/>
<circle cx="268.60" cy="1604.70" r="1.25" fill="#ee1c25"/>
<circle cx="267.20" cy="1612.30" r="1.25" fill="#ee1c25"/>
<circle cx="270.60" cy="1613.40" r="1.25" fill="#ee1c25"/>
<circle cx="269.00" cy="1619.00" r="1.25" fill="#ee1c25"/>
<circle cx="273.00" cy="1621.00" r="1.25" fill="#ee1c25"/>
<circle cx="272.00" cy="1620.60" r="1.25" fill="#ee1c25"/>
<circle cx="277.50" cy="1622.80" r="1.25" fill="#ee1c25"/>
<circle cx="267.00" cy="1626.00" r="1.25" fill="#ee1c25"/>
<circle cx="271.50" cy="1625.20" r="1.25" fill="#ee1c25"/>
<circle cx="272.70" cy="1629.00" r="1.25" fill="#ee1c25"/>
<circle cx="266.80" cy="1631.40" r="1.25" fill="#ee1c25"/>
<circle cx="324.70" cy="1598.50" r="1.25" fill="#ee1c25"/>
<circle cx="323.80" cy="1613.20" r="1.25" fill="#ee1c25"/>
<circle cx="319.50" cy="1625.00" r="1.25" fill="#ee1c25"/>
<circle cx="318.60" cy="1626.80" r="1.25" fill="#ee1c25"/>
<circle cx="324.90" cy="1628.00" r="1.25" fill="#ee1c25"/>
<circle cx="374.80" cy="1610.00" r="1.25" fill="#ee1c25"/>
<circle cx="373.20" cy="1617.50" r="1.25" fill="#ee1c25"/>
<circle cx="377.80" cy="1617.50" r="1.25" fill="#ee1c25"/>
<circle cx="372.30" cy="1624.80" r="1.25" fill="#ee1c25"/>
<circle cx="373.70" cy="1627.80" r="1.25" fill="#ee1c25"/>
<circle cx="378.90" cy="1629.20" r="1.25" fill="#ee1c25"/>
<circle cx="425.20" cy="1639.60" r="1.25" fill="#ee1c25"/>
<circle cx="430.00" cy="1636.60" r="1.25" fill="#ee1c25"/>
<circle cx="431.00" cy="1638.60" r="1.25" fill="#ee1c25"/>
<circle cx="432.30" cy="1641.70" r="1.25" fill="#ee1c25"/>
<circle cx="434.70" cy="1643.80" r="1.25" fill="#ee1c25"/>
<circle cx="429.00" cy="1643.50" r="1.25" fill="#ee1c25"/>
<circle cx="427.00" cy="1645.50" r="1.25" fill="#ee1c25"/>
<circle cx="479.00" cy="1637.50" r="1.25" fill="#ee1c25"/>
<circle cx="481.20" cy="1636.30" r="1.25" fill="#ee1c25"/>
<circle cx="483.20" cy="1639.00" r="1.25" fill="#ee1c25"/>
<circle cx="480.70" cy="1641.00" r="1.25" fill="#ee1c25"/>
<circle cx="483.60" cy="1642.00" r="1.25" fill="#ee1c25"/>
<circle cx="584.50" cy="1572.00" r="1.25" fill="#ee1c25"/>
<circle cx="587.30" cy="1570.10" r="1.25" fill="#ee1c25"/>
<circle cx="645.10" cy="1581.50" r="1.25" fill="#ee1c25"/>
<circle cx="641.80" cy="1598.30" r="1.25" fill="#ee1c25"/>
<circle cx="645.00" cy="1598.30" r="1.25" fill="#ee1c25"/>
<circle cx="637.60" cy="1604.90" r="1.25" fill="#ee1c25"/>
<circle cx="639.40" cy="1608.20" r="1.25" fill="#ee1c25"/>
<circle cx="646.40" cy="1614.00" r="1.25" fill="#ee1c25"/>
<circle cx="638.70" cy="1614.60" r="1.25" fill="#ee1c25"/>
<circle cx="640.00" cy="1618.80" r="1.25" fill="#ee1c25"/>
<circle cx="643.10" cy="1619.60" r="1.25" fill="#ee1c25"/>
<circle cx="637.60" cy="1624.00" r="1.25" fill="#ee1c25"/>
<circle cx="641.30" cy="1622.20" r="1.25" fill="#ee1c25"/>
<circle cx="644.60" cy="1623.80" r="1.25" fill="#ee1c25"/>
<circle cx="639.00" cy="1625.80" r="1.25" fill="#ee1c25"/>
<circle cx="642.40" cy="1626.00" r="1.25" fill="#ee1c25"/>
<circle cx="646.60" cy="1624.00" r="1.25" fill="#ee1c25"/>
<circle cx="649.00" cy="1624.00" r="1.25" fill="#ee1c25"/>
<circle cx="692.80" cy="1582.60" r="1.25" fill="#ee1c25"/>
<circle cx="694.20" cy="1611.20" r="1.25" fill="#ee1c25"/>
<circle cx="695.10" cy="1624.00" r="1.25" fill="#ee1c25"/>
<circle cx="694.50" cy="1633.20" r="1.25" fill="#ee1c25"/>
<circle cx="698.60" cy="1636.40" r="1.25" fill="#ee1c25"/>
<circle cx="691.00" cy="1638.20" r="1.25" fill="#ee1c25"/>
<circle cx="695.00" cy="1638.00" r="1.25" fill="#ee1c25"/>
<circle cx="692.30" cy="1641.40" r="1.25" fill="#ee1c25"/>
<circle cx="696.00" cy="1642.30" r="1.25" fill="#ee1c25"/>
<circle cx="699.80" cy="1640.20" r="1.25" fill="#ee1c25"/>
<circle cx="691.60" cy="1644.80" r="1.25" fill="#ee1c25"/>
<circle cx="694.00" cy="1645.50" r="1.25" fill="#ee1c25"/>
<circle cx="697.80" cy="1644.50" r="1.25" fill="#ee1c25"/>
<circle cx="700.60" cy="1645.70" r="1.25" fill="#ee1c25"/>
<circle cx="748.10" cy="1573.00" r="1.25" fill="#ee1c25"/>
<circle cx="744.40" cy="1609.00" r="1.25" fill="#ee1c25"/>
<circle cx="749.10" cy="1611.70" r="1.25" fill="#ee1c25"/>
<circle cx="745.40" cy="1616.20" r="1.25" fill="#ee1c25"/>
<circle cx="754.50" cy="1618.60" r="1.25" fill="#ee1c25"/>
<circle cx="749.00" cy="1616.50" r="1.25" fill="#ee1c25"/>
<circle cx="799.70" cy="1622.70" r="1.25" fill="#ee1c25"/>
<circle cx="797.40" cy="1631.20" r="1.25" fill="#ee1c25"/>
<circle cx="805.10" cy="1631.20" r="1.25" fill="#ee1c25"/>
<circle cx="854.70" cy="1616.30" r="1.25" fill="#ee1c25"/>
<circle cx="850.00" cy="1620.20" r="1.25" fill="#ee1c25"/>
<circle cx="851.40" cy="1623.60" r="1.25" fill="#ee1c25"/>
<circle cx="851.90" cy="1623.60" r="1.25" fill="#ee1c25"/>
<circle cx="849.80" cy="1640.30" r="1.25" fill="#ee1c25"/>
<circle cx="851.00" cy="1644.00" r="1.25" fill="#ee1c25"/>
<circle cx="854.00" cy="1640.80" r="1.25" fill="#ee1c25"/>
<circle cx="862.20" cy="1640.80" r="1.25" fill="#ee1c25"/>
<circle cx="849.70" cy="1644.80" r="1.25" fill="#ee1c25"/>
<circle cx="903.70" cy="1625.80" r="1.25" fill="#ee1c25"/>
<circle cx="907.80" cy="1631.20" r="1.25" fill="#ee1c25"/>
<circle cx="903.30" cy="1638.60" r="1.25" fill="#ee1c25"/>
<circle cx="909.60" cy="1642.60" r="1.25" fill="#ee1c25"/>
<circle cx="904.50" cy="1644.00" r="1.25" fill="#ee1c25"/>
<circle cx="906.50" cy="1647.00" r="1.25" fill="#ee1c25"/>
<circle cx="904.70" cy="1647.20" r="1.25" fill="#ee1c25"/>
<circle cx="964.60" cy="1475.80" r="1.25" fill="#3bb8be"/>
<circle cx="960.10" cy="1480.00" r="1.25" fill="#3bb8be"/>
<circle cx="956.50" cy="1484.20" r="1.25" fill="#3bb8be"/>
<circle cx="962.60" cy="1497.80" r="1.25" fill="#3bb8be"/>
<circle cx="956.50" cy="1506.80" r="1.25" fill="#3bb8be"/>
<circle cx="961.00" cy="1504.50" r="1.25" fill="#3bb8be"/>
<circle cx="963.90" cy="1504.50" r="1.25" fill="#3bb8be"/>
<circle cx="1012.90" cy="1530.90" r="1.25" fill="#6a2c91"/>
<circle cx="1010.60" cy="1547.00" r="1.25" fill="#6a2c91"/>
<circle cx="1015.80" cy="1549.60" r="1.25" fill="#6a2c91"/>
<circle cx="1011.90" cy="1552.00" r="1.25" fill="#6a2c91"/>
<circle cx="1010.60" cy="1556.20" r="1.25" fill="#6a2c91"/>
<circle cx="1013.00" cy="1554.80" r="1.25" fill="#6a2c91"/>
<circle cx="1016.40" cy="1556.40" r="1.25" fill="#6a2c91"/>
<circle cx="1066.20" cy="1497.00" r="1.25" fill="#5b2a86"/>
<circle cx="1067.50" cy="1535.00" r="1.25" fill="#5b2a86"/>
<circle cx="1076.80" cy="1542.30" r="1.25" fill="#5b2a86"/>
<circle cx="1068.60" cy="1550.60" r="1.25" fill="#5b2a86"/>
<circle cx="1065.20" cy="1560.20" r="1.25" fill="#5b2a86"/>
<circle cx="1069.30" cy="1566.50" r="1.25" fill="#5b2a86"/>
<circle cx="1063.00" cy="1568.80" r="1.25" fill="#5b2a86"/>
<circle cx="1066.80" cy="1579.00" r="1.25" fill="#5b2a86"/>
<circle cx="1067.40" cy="1581.60" r="1.25" fill="#5b2a86"/>
<circle cx="1066.60" cy="1584.00" r="1.25" fill="#5b2a86"/>
<circle cx="1063.00" cy="1585.00" r="1.25" fill="#5b2a86"/>
<circle cx="1065.00" cy="1584.50" r="1.25" fill="#5b2a86"/>
<circle cx="1062.00" cy="1595.20" r="1.25" fill="#5b2a86"/>
<circle cx="1065.60" cy="1594.00" r="1.25" fill="#5b2a86"/>
<circle cx="1066.80" cy="1595.20" r="1.25" fill="#5b2a86"/>
<circle cx="1117.80" cy="1530.80" r="1.20" fill="#5ebfb5"/>
<circle cx="1118.70" cy="1546.60" r="1.20" fill="#5ebfb5"/>
<circle cx="1120.50" cy="1552.00" r="1.20" fill="#5ebfb5"/>
<circle cx="1116.50" cy="1567.80" r="1.20" fill="#5ebfb5"/>
<circle cx="1119.30" cy="1567.80" r="1.20" fill="#5ebfb5"/>
<circle cx="1118.90" cy="1576.30" r="1.20" fill="#5ebfb5"/>
<circle cx="1121.10" cy="1585.80" r="1.20" fill="#5ebfb5"/>
<circle cx="1226.60" cy="1600.90" r="1.50" fill="#a7b65a"/>
<circle cx="1222.60" cy="1604.60" r="1.50" fill="#a7b65a"/>
<circle cx="1223.90" cy="1605.80" r="1.50" fill="#a7b65a"/>
<circle cx="1226.00" cy="1611.30" r="1.50" fill="#a7b65a"/>
<circle cx="1222.40" cy="1620.80" r="1.50" fill="#a7b65a"/>
<circle cx="1225.00" cy="1620.50" r="1.50" fill="#a7b65a"/>
<circle cx="1231.40" cy="1620.80" r="1.50" fill="#a7b65a"/>
<circle cx="1278.60" cy="1493.80" r="1.50" fill="#9bc53d"/>
<circle cx="1279.00" cy="1518.20" r="1.50" fill="#9bc53d"/>
<circle cx="1277.00" cy="1525.60" r="1.50" fill="#9bc53d"/>
<circle cx="1278.00" cy="1526.40" r="1.50" fill="#9bc53d"/>
<circle cx="1277.00" cy="1536.00" r="1.50" fill="#9bc53d"/>
<circle cx="1275.50" cy="1540.00" r="1.50" fill="#9bc53d"/>
<circle cx="1277.20" cy="1541.20" r="1.50" fill="#9bc53d"/>
<circle cx="1281.60" cy="1540.20" r="1.50" fill="#9bc53d"/>
<circle cx="1283.20" cy="1538.20" r="1.50" fill="#9bc53d"/>
<circle cx="1283.00" cy="1539.60" r="1.50" fill="#9bc53d"/>
<circle cx="1329.80" cy="1480.00" r="1.30" fill="#6f8a3e"/>
<circle cx="1329.20" cy="1492.80" r="1.30" fill="#6f8a3e"/>
<circle cx="1329.40" cy="1497.30" r="1.30" fill="#6f8a3e"/>
<circle cx="1382.20" cy="1273.00" r="1.20" fill="#d4177d"/>
<text transform="translate(18.00,1858.90) scale(1.0222,1)" font-size="45.00" text-anchor="start" fill="#000">f</text>
<text transform="translate(433.40,1927.90) scale(1.3322,1)" font-size="28.60" text-anchor="start" fill="#000">Bulk tissue gene expression for CYP1B1</text>
<text transform="translate(116.20,2080.00) rotate(-90) scale(0.7335,1)" font-size="37.90" text-anchor="middle">log<tspan font-size="22.74" dy="13.08">10</tspan><tspan dy="-13.08">(TPM+1)</tspan></text>
<line x1="216.80" y1="1921.70" x2="216.80" y2="2284.10" stroke="#000" stroke-width="3.3" stroke-linecap="butt"/>
<line x1="208.20" y1="1923.20" x2="216.80" y2="1923.20" stroke="#000" stroke-width="3.0" stroke-linecap="butt"/>
<line x1="208.20" y1="2282.60" x2="216.80" y2="2282.60" stroke="#000" stroke-width="3.0" stroke-linecap="butt"/>
<line x1="208.20" y1="2215.40" x2="216.80" y2="2215.40" stroke="#000" stroke-width="3.0" stroke-linecap="butt"/>
<text transform="translate(196.80,2224.00) scale(1.2798,1)" font-size="38.60" text-anchor="end" fill="#000">0.5</text>
<line x1="208.20" y1="2145.57" x2="216.80" y2="2145.57" stroke="#000" stroke-width="3.0" stroke-linecap="butt"/>
<text transform="translate(196.80,2154.17) scale(1.2798,1)" font-size="38.60" text-anchor="end" fill="#000">1.0</text>
<line x1="208.20" y1="2075.74" x2="216.80" y2="2075.74" stroke="#000" stroke-width="3.0" stroke-linecap="butt"/>
<text transform="translate(196.80,2084.34) scale(1.2798,1)" font-size="38.60" text-anchor="end" fill="#000">1.5</text>
<line x1="208.20" y1="2005.91" x2="216.80" y2="2005.91" stroke="#000" stroke-width="3.0" stroke-linecap="butt"/>
<text transform="translate(196.80,2014.51) scale(1.2798,1)" font-size="38.60" text-anchor="end" fill="#000">2.0</text>
<line x1="208.20" y1="1936.08" x2="216.80" y2="1936.08" stroke="#000" stroke-width="3.0" stroke-linecap="butt"/>
<text transform="translate(196.80,1944.68) scale(1.2798,1)" font-size="38.60" text-anchor="end" fill="#000">2.5</text>
<line x1="221.40" y1="2284.80" x2="1377.30" y2="2284.80" stroke="#000" stroke-width="3.3" stroke-linecap="butt"/>
<line x1="223.00" y1="2284.80" x2="223.00" y2="2290.80" stroke="#000" stroke-width="2.7" stroke-linecap="butt"/>
<line x1="243.20" y1="2284.80" x2="243.20" y2="2290.80" stroke="#000" stroke-width="2.7" stroke-linecap="butt"/>
<line x1="296.05" y1="2284.80" x2="296.05" y2="2290.80" stroke="#000" stroke-width="2.7" stroke-linecap="butt"/>
<line x1="348.90" y1="2284.80" x2="348.90" y2="2290.80" stroke="#000" stroke-width="2.7" stroke-linecap="butt"/>
<line x1="401.75" y1="2284.80" x2="401.75" y2="2290.80" stroke="#000" stroke-width="2.7" stroke-linecap="butt"/>
<line x1="454.60" y1="2284.80" x2="454.60" y2="2290.80" stroke="#000" stroke-width="2.7" stroke-linecap="butt"/>
<line x1="507.45" y1="2284.80" x2="507.45" y2="2290.80" stroke="#000" stroke-width="2.7" stroke-linecap="butt"/>
<line x1="560.30" y1="2284.80" x2="560.30" y2="2290.80" stroke="#000" stroke-width="2.7" stroke-linecap="butt"/>
<line x1="613.15" y1="2284.80" x2="613.15" y2="2290.80" stroke="#000" stroke-width="2.7" stroke-linecap="butt"/>
<line x1="666.00" y1="2284.80" x2="666.00" y2="2290.80" stroke="#000" stroke-width="2.7" stroke-linecap="butt"/>
<line x1="718.85" y1="2284.80" x2="718.85" y2="2290.80" stroke="#000" stroke-width="2.7" stroke-linecap="butt"/>
<line x1="771.70" y1="2284.80" x2="771.70" y2="2290.80" stroke="#000" stroke-width="2.7" stroke-linecap="butt"/>
<line x1="824.55" y1="2284.80" x2="824.55" y2="2290.80" stroke="#000" stroke-width="2.7" stroke-linecap="butt"/>
<line x1="877.40" y1="2284.80" x2="877.40" y2="2290.80" stroke="#000" stroke-width="2.7" stroke-linecap="butt"/>
<line x1="930.25" y1="2284.80" x2="930.25" y2="2290.80" stroke="#000" stroke-width="2.7" stroke-linecap="butt"/>
<line x1="983.10" y1="2284.80" x2="983.10" y2="2290.80" stroke="#000" stroke-width="2.7" stroke-linecap="butt"/>
<line x1="1035.95" y1="2284.80" x2="1035.95" y2="2290.80" stroke="#000" stroke-width="2.7" stroke-linecap="butt"/>
<line x1="1088.80" y1="2284.80" x2="1088.80" y2="2290.80" stroke="#000" stroke-width="2.7" stroke-linecap="butt"/>
<line x1="1141.65" y1="2284.80" x2="1141.65" y2="2290.80" stroke="#000" stroke-width="2.7" stroke-linecap="butt"/>
<line x1="1194.50" y1="2284.80" x2="1194.50" y2="2290.80" stroke="#000" stroke-width="2.7" stroke-linecap="butt"/>
<line x1="1247.35" y1="2284.80" x2="1247.35" y2="2290.80" stroke="#000" stroke-width="2.7" stroke-linecap="butt"/>
<line x1="1300.20" y1="2284.80" x2="1300.20" y2="2290.80" stroke="#000" stroke-width="2.7" stroke-linecap="butt"/>
<line x1="1353.05" y1="2284.80" x2="1353.05" y2="2290.80" stroke="#000" stroke-width="2.7" stroke-linecap="butt"/>
<line x1="1375.90" y1="2284.80" x2="1375.90" y2="2290.80" stroke="#000" stroke-width="2.7" stroke-linecap="butt"/>
<text transform="translate(228.60,2309.00) scale(1.38,1) rotate(36.0)" font-size="26.75">Amygdala</text>
<text transform="translate(281.45,2309.00) scale(1.38,1) rotate(36.0)" font-size="26.75">Anterior cingulate cortex</text>
<text transform="translate(334.30,2309.00) scale(1.38,1) rotate(36.0)" font-size="26.75">Caudate</text>
<text transform="translate(387.15,2309.00) scale(1.38,1) rotate(36.0)" font-size="26.75">Cerebellar Hemisphere</text>
<text transform="translate(440.00,2309.00) scale(1.38,1) rotate(36.0)" font-size="26.75">Cerebellum</text>
<text transform="translate(492.85,2309.00) scale(1.38,1) rotate(36.0)" font-size="26.75">Cortex</text>
<text transform="translate(545.70,2309.00) scale(1.38,1) rotate(36.0)" font-size="26.75">Frontal Cortex (BA9)</text>
<text transform="translate(598.55,2309.00) scale(1.38,1) rotate(36.0)" font-size="26.75">Hippocampus</text>
<text transform="translate(651.40,2309.00) scale(1.38,1) rotate(36.0)" font-size="26.75">Hypothalamus</text>
<text transform="translate(704.25,2309.00) scale(1.38,1) rotate(36.0)" font-size="26.75">Nucleus accumbens</text>
<text transform="translate(757.10,2309.00) scale(1.38,1) rotate(36.0)" font-size="26.75">Putamen</text>
<text transform="translate(809.95,2309.00) scale(1.38,1) rotate(36.0)" font-size="26.75">Spinal cord</text>
<text transform="translate(862.80,2309.00) scale(1.38,1) rotate(36.0)" font-size="26.75">Substantia nigra</text>
<text transform="translate(915.65,2309.00) scale(1.38,1) rotate(36.0)" font-size="26.75">Mammary Tissue</text>
<text transform="translate(968.50,2309.00) scale(1.38,1) rotate(36.0)" font-size="26.75">Heart - Atrial Appendage</text>
<text transform="translate(1021.35,2309.00) scale(1.38,1) rotate(36.0)" font-size="26.75">Heart - Left Ventricle</text>
<text transform="translate(1074.20,2309.00) scale(1.38,1) rotate(36.0)" font-size="26.75">Kidney - Cortex</text>
<text transform="translate(1127.05,2309.00) scale(1.38,1) rotate(36.0)" font-size="26.75">Kidney - Medulla</text>
<text transform="translate(1179.90,2309.00) scale(1.38,1) rotate(36.0)" font-size="26.75">Liver</text>
<text transform="translate(1232.75,2309.00) scale(1.38,1) rotate(36.0)" font-size="26.75">Lung</text>
<text transform="translate(1285.60,2309.00) scale(1.38,1) rotate(36.0)" font-size="26.75">Spleen</text>
<text transform="translate(1338.45,2309.00) scale(1.38,1) rotate(36.0)" font-size="26.75">Whole Blood</text>
<path d="M243.6 2125.5 L243.6 2129.6 L243.6 2133.7 L243.7 2137.8 L243.7 2141.8 L243.8 2145.9 L243.9 2150.0 L244.1 2151.9 L244.3 2153.7 L244.5 2155.6 L244.8 2157.5 L245.1 2159.3 L245.5 2161.2 L245.9 2163.1 L246.4 2164.9 L247.0 2166.8 L247.5 2168.7 L248.1 2170.5 L248.8 2172.4 L249.4 2174.3 L250.1 2176.1 L250.8 2178.0 L251.5 2179.9 L252.2 2181.7 L252.9 2183.6 L253.6 2185.5 L254.3 2187.3 L255.0 2189.2 L255.8 2191.1 L256.5 2192.9 L257.1 2194.8 L257.8 2196.7 L258.4 2198.5 L259.0 2200.4 L259.6 2202.3 L260.2 2204.1 L260.7 2206.0 L261.2 2207.9 L261.7 2209.7 L262.1 2211.6 L262.5 2213.5 L262.9 2215.3 L263.2 2217.2 L263.4 2219.1 L263.6 2220.9 L263.8 2222.8 L263.9 2224.7 L264.0 2226.5 L264.0 2228.4 L264.0 2229.4 L263.9 2230.4 L263.9 2231.4 L263.7 2232.4 L263.6 2233.4 L263.4 2234.4 L263.1 2235.4 L262.9 2236.4 L262.6 2237.4 L262.3 2238.4 L261.9 2239.4 L261.5 2240.4 L261.1 2241.4 L260.7 2242.4 L260.2 2243.4 L259.7 2244.4 L259.2 2245.4 L258.7 2246.4 L258.1 2247.4 L257.6 2248.4 L257.0 2249.4 L256.4 2250.5 L255.8 2251.5 L255.1 2252.5 L254.5 2253.5 L253.9 2254.5 L253.2 2255.5 L252.6 2256.5 L251.9 2257.5 L251.3 2258.5 L250.7 2259.5 L250.0 2260.5 L249.4 2261.5 L248.8 2262.5 L248.2 2263.5 L247.7 2264.5 L247.2 2265.5 L246.7 2266.5 L246.2 2267.5 L245.8 2268.5 L245.5 2269.5 L245.2 2270.5 L241.2 2270.5 L240.9 2269.5 L240.6 2268.5 L240.2 2267.5 L239.7 2266.5 L239.2 2265.5 L238.7 2264.5 L238.2 2263.5 L237.6 2262.5 L237.0 2261.5 L236.4 2260.5 L235.7 2259.5 L235.1 2258.5 L234.5 2257.5 L233.8 2256.5 L233.2 2255.5 L232.5 2254.5 L231.9 2253.5 L231.3 2252.5 L230.6 2251.5 L230.0 2250.5 L229.4 2249.4 L228.8 2248.4 L228.3 2247.4 L227.7 2246.4 L227.2 2245.4 L226.7 2244.4 L226.2 2243.4 L225.7 2242.4 L225.3 2241.4 L224.9 2240.4 L224.5 2239.4 L224.1 2238.4 L223.8 2237.4 L223.5 2236.4 L223.3 2235.4 L223.0 2234.4 L222.8 2233.4 L222.7 2232.4 L222.5 2231.4 L222.5 2230.4 L222.4 2229.4 L222.4 2228.4 L222.4 2226.5 L222.5 2224.7 L222.6 2222.8 L222.8 2220.9 L223.0 2219.1 L223.2 2217.2 L223.5 2215.3 L223.9 2213.5 L224.3 2211.6 L224.7 2209.7 L225.2 2207.9 L225.7 2206.0 L226.2 2204.1 L226.8 2202.3 L227.4 2200.4 L228.0 2198.5 L228.6 2196.7 L229.3 2194.8 L229.9 2192.9 L230.6 2191.1 L231.4 2189.2 L232.1 2187.3 L232.8 2185.5 L233.5 2183.6 L234.2 2181.7 L234.9 2179.9 L235.6 2178.0 L236.3 2176.1 L237.0 2174.3 L237.6 2172.4 L238.3 2170.5 L238.9 2168.7 L239.4 2166.8 L240.0 2164.9 L240.5 2163.1 L240.9 2161.2 L241.3 2159.3 L241.6 2157.5 L241.9 2155.6 L242.1 2153.7 L242.3 2151.9 L242.5 2150.0 L242.6 2145.9 L242.7 2141.8 L242.7 2137.8 L242.8 2133.7 L242.8 2129.6 L242.8 2125.5Z" fill="#f58e90" stroke="#f4ef92" stroke-width="1.9" stroke-linejoin="round"/>
<rect x="236.00" y="2207.00" width="14.40" height="34.80" fill="#ec1c24"/>
<rect x="236.00" y="2221.90" width="14.40" height="6.60" fill="#fff"/>
<path d="M296.5 2117.5 L296.5 2122.1 L296.5 2126.7 L296.5 2131.2 L296.5 2135.8 L296.6 2140.4 L296.8 2145.0 L296.9 2146.9 L297.1 2148.7 L297.4 2150.6 L297.6 2152.5 L298.0 2154.4 L298.4 2156.2 L298.8 2158.1 L299.3 2160.0 L299.9 2161.9 L300.5 2163.7 L301.1 2165.6 L301.8 2167.5 L302.4 2169.4 L303.1 2171.2 L303.9 2173.1 L304.6 2175.0 L305.3 2176.9 L306.1 2178.7 L306.8 2180.6 L307.5 2182.5 L308.3 2184.3 L309.0 2186.2 L309.7 2188.1 L310.4 2190.0 L311.1 2191.8 L311.8 2193.7 L312.4 2195.6 L313.0 2197.5 L313.6 2199.3 L314.2 2201.2 L314.7 2203.1 L315.2 2205.0 L315.6 2206.8 L316.0 2208.7 L316.4 2210.6 L316.7 2212.5 L316.9 2214.3 L317.1 2216.2 L317.3 2218.1 L317.4 2220.0 L317.5 2221.8 L317.6 2223.7 L317.5 2224.7 L317.5 2225.7 L317.4 2226.7 L317.3 2227.7 L317.1 2228.7 L316.9 2229.7 L316.7 2230.7 L316.4 2231.7 L316.1 2232.7 L315.8 2233.7 L315.4 2234.7 L315.1 2235.7 L314.6 2236.7 L314.2 2237.7 L313.7 2238.7 L313.2 2239.7 L312.7 2240.7 L312.2 2241.7 L311.6 2242.7 L311.0 2243.7 L310.4 2244.7 L309.8 2245.7 L309.2 2246.7 L308.6 2247.7 L308.0 2248.7 L307.3 2249.7 L306.7 2250.7 L306.0 2251.7 L305.3 2252.7 L304.7 2253.7 L304.1 2254.7 L303.4 2255.7 L302.8 2256.7 L302.2 2257.7 L301.6 2258.7 L301.0 2259.7 L300.5 2260.7 L300.0 2261.7 L299.6 2262.7 L299.2 2263.7 L298.8 2264.7 L298.6 2265.7 L293.6 2265.7 L293.3 2264.7 L292.9 2263.7 L292.5 2262.7 L292.1 2261.7 L291.6 2260.7 L291.1 2259.7 L290.5 2258.7 L289.9 2257.7 L289.3 2256.7 L288.7 2255.7 L288.0 2254.7 L287.4 2253.7 L286.8 2252.7 L286.1 2251.7 L285.4 2250.7 L284.8 2249.7 L284.1 2248.7 L283.5 2247.7 L282.9 2246.7 L282.3 2245.7 L281.7 2244.7 L281.1 2243.7 L280.5 2242.7 L279.9 2241.7 L279.4 2240.7 L278.9 2239.7 L278.4 2238.7 L277.9 2237.7 L277.5 2236.7 L277.0 2235.7 L276.7 2234.7 L276.3 2233.7 L276.0 2232.7 L275.7 2231.7 L275.4 2230.7 L275.2 2229.7 L275.0 2228.7 L274.8 2227.7 L274.7 2226.7 L274.6 2225.7 L274.6 2224.7 L274.6 2223.7 L274.6 2221.8 L274.7 2220.0 L274.8 2218.1 L275.0 2216.2 L275.2 2214.3 L275.4 2212.5 L275.7 2210.6 L276.1 2208.7 L276.5 2206.8 L276.9 2205.0 L277.4 2203.1 L277.9 2201.2 L278.5 2199.3 L279.1 2197.5 L279.7 2195.6 L280.3 2193.7 L281.0 2191.8 L281.7 2190.0 L282.4 2188.1 L283.1 2186.2 L283.8 2184.3 L284.6 2182.5 L285.3 2180.6 L286.0 2178.7 L286.8 2176.9 L287.5 2175.0 L288.2 2173.1 L289.0 2171.2 L289.7 2169.4 L290.3 2167.5 L291.0 2165.6 L291.6 2163.7 L292.2 2161.9 L292.8 2160.0 L293.3 2158.1 L293.7 2156.2 L294.1 2154.4 L294.5 2152.5 L294.7 2150.6 L295.0 2148.7 L295.2 2146.9 L295.4 2145.0 L295.5 2140.4 L295.6 2135.8 L295.6 2131.2 L295.6 2126.7 L295.6 2122.1 L295.6 2117.5Z" fill="#f58e90" stroke="#f4ef92" stroke-width="1.9" stroke-linejoin="round"/>
<rect x="288.85" y="2207.00" width="14.40" height="27.80" fill="#ec1c24"/>
<rect x="288.85" y="2218.10" width="14.40" height="6.60" fill="#fff"/>
<path d="M349.3 2099.3 L349.3 2102.4 L349.3 2105.5 L349.3 2108.7 L349.3 2111.8 L349.4 2114.9 L349.6 2118.0 L349.9 2119.7 L350.3 2121.3 L350.8 2122.9 L351.4 2124.6 L352.0 2126.2 L352.5 2127.9 L353.2 2129.6 L353.8 2131.2 L354.5 2132.9 L355.2 2134.5 L355.9 2136.2 L356.6 2137.8 L357.3 2139.5 L358.0 2141.1 L358.8 2142.8 L359.5 2144.4 L360.2 2146.1 L360.9 2147.7 L361.5 2149.4 L362.2 2151.0 L362.9 2152.7 L363.5 2154.3 L364.1 2155.9 L364.7 2157.6 L365.3 2159.2 L365.8 2160.9 L366.4 2162.6 L366.9 2164.2 L367.3 2165.8 L367.8 2167.5 L368.2 2169.2 L368.5 2170.8 L368.9 2172.4 L369.2 2174.1 L369.5 2175.8 L369.7 2177.4 L369.9 2179.1 L370.1 2180.7 L370.2 2182.4 L370.3 2184.0 L370.4 2185.7 L370.4 2187.3 L370.4 2188.9 L370.3 2190.4 L370.3 2192.0 L370.1 2193.6 L370.0 2195.2 L369.8 2196.7 L369.6 2198.3 L369.4 2199.9 L369.1 2201.4 L368.8 2203.0 L368.5 2204.6 L368.1 2206.2 L367.8 2207.7 L367.3 2209.3 L366.9 2210.9 L366.4 2212.4 L366.0 2214.0 L365.5 2215.6 L364.9 2217.2 L364.4 2218.7 L363.8 2220.3 L363.2 2221.9 L362.7 2223.4 L362.0 2225.0 L361.4 2226.6 L360.8 2228.2 L360.1 2229.7 L359.5 2231.3 L358.8 2232.9 L358.2 2234.4 L357.5 2236.0 L356.9 2237.6 L356.2 2239.2 L355.5 2240.7 L354.9 2242.3 L354.3 2243.9 L353.7 2245.4 L353.0 2247.0 L352.4 2248.6 L351.9 2250.2 L351.4 2251.7 L351.1 2253.3 L346.7 2253.3 L346.4 2251.7 L345.9 2250.2 L345.4 2248.6 L344.8 2247.0 L344.1 2245.4 L343.5 2243.9 L342.9 2242.3 L342.3 2240.7 L341.6 2239.2 L340.9 2237.6 L340.3 2236.0 L339.6 2234.4 L339.0 2232.9 L338.3 2231.3 L337.7 2229.7 L337.0 2228.2 L336.4 2226.6 L335.8 2225.0 L335.1 2223.4 L334.6 2221.9 L334.0 2220.3 L333.4 2218.7 L332.9 2217.2 L332.3 2215.6 L331.8 2214.0 L331.4 2212.4 L330.9 2210.9 L330.5 2209.3 L330.0 2207.7 L329.7 2206.2 L329.3 2204.6 L329.0 2203.0 L328.7 2201.4 L328.4 2199.9 L328.2 2198.3 L328.0 2196.7 L327.8 2195.2 L327.7 2193.6 L327.5 2192.0 L327.5 2190.4 L327.4 2188.9 L327.4 2187.3 L327.4 2185.7 L327.5 2184.0 L327.6 2182.4 L327.7 2180.7 L327.9 2179.1 L328.1 2177.4 L328.3 2175.8 L328.6 2174.1 L328.9 2172.4 L329.3 2170.8 L329.6 2169.2 L330.0 2167.5 L330.5 2165.8 L330.9 2164.2 L331.4 2162.6 L332.0 2160.9 L332.5 2159.2 L333.1 2157.6 L333.7 2155.9 L334.3 2154.3 L334.9 2152.7 L335.6 2151.0 L336.3 2149.4 L336.9 2147.7 L337.6 2146.1 L338.3 2144.4 L339.0 2142.8 L339.8 2141.1 L340.5 2139.5 L341.2 2137.8 L341.9 2136.2 L342.6 2134.5 L343.3 2132.9 L344.0 2131.2 L344.6 2129.6 L345.3 2127.9 L345.8 2126.2 L346.4 2124.6 L347.0 2122.9 L347.5 2121.3 L347.9 2119.7 L348.2 2118.0 L348.4 2114.9 L348.5 2111.8 L348.5 2108.7 L348.5 2105.5 L348.5 2102.4 L348.5 2099.3Z" fill="#f58e90" stroke="#f4ef92" stroke-width="1.9" stroke-linejoin="round"/>
<rect x="341.70" y="2167.20" width="14.40" height="40.80" fill="#ec1c24"/>
<rect x="341.70" y="2184.40" width="14.40" height="6.60" fill="#fff"/>
<path d="M402.2 2104.1 L402.2 2118.4 L402.2 2132.7 L402.2 2147.1 L402.3 2161.4 L402.3 2175.7 L402.4 2190.0 L402.6 2191.7 L402.7 2193.3 L402.9 2195.0 L403.1 2196.7 L403.3 2198.3 L403.6 2200.0 L404.0 2201.7 L404.4 2203.3 L404.9 2205.0 L405.5 2206.7 L406.0 2208.3 L406.6 2210.0 L407.2 2211.7 L407.9 2213.3 L408.6 2215.0 L409.3 2216.7 L410.0 2218.3 L410.7 2220.0 L411.5 2221.7 L412.2 2223.3 L413.0 2225.0 L413.7 2226.7 L414.5 2228.3 L415.2 2230.0 L415.9 2231.7 L416.6 2233.3 L417.2 2235.0 L417.9 2236.7 L418.5 2238.3 L419.1 2240.0 L419.6 2241.7 L420.2 2243.3 L420.6 2245.0 L421.1 2246.7 L421.5 2248.3 L421.8 2250.0 L422.1 2251.7 L422.3 2253.3 L422.5 2255.0 L422.6 2256.7 L422.7 2258.3 L422.8 2260.0 L422.8 2260.5 L422.8 2261.0 L422.7 2261.4 L422.7 2261.9 L422.6 2262.4 L422.5 2262.9 L422.4 2263.3 L422.3 2263.8 L422.2 2264.3 L422.1 2264.8 L422.0 2265.3 L421.8 2265.7 L421.6 2266.2 L421.5 2266.7 L421.3 2267.2 L421.1 2267.7 L420.8 2268.1 L420.6 2268.6 L420.4 2269.1 L420.1 2269.6 L419.8 2270.1 L419.6 2270.5 L419.3 2271.0 L418.9 2271.5 L418.6 2272.0 L418.3 2272.4 L417.9 2272.9 L417.6 2273.4 L417.2 2273.9 L416.8 2274.4 L416.4 2274.8 L416.0 2275.3 L415.5 2275.8 L415.1 2276.3 L414.6 2276.8 L414.0 2277.2 L413.2 2277.7 L412.4 2278.2 L411.4 2278.7 L410.5 2279.1 L409.8 2279.6 L409.3 2280.1 L394.2 2280.1 L393.7 2279.6 L393.0 2279.1 L392.1 2278.7 L391.1 2278.2 L390.3 2277.7 L389.5 2277.2 L388.9 2276.8 L388.4 2276.3 L388.0 2275.8 L387.5 2275.3 L387.1 2274.8 L386.7 2274.4 L386.3 2273.9 L385.9 2273.4 L385.6 2272.9 L385.2 2272.4 L384.9 2272.0 L384.6 2271.5 L384.2 2271.0 L383.9 2270.5 L383.7 2270.1 L383.4 2269.6 L383.1 2269.1 L382.9 2268.6 L382.7 2268.1 L382.4 2267.7 L382.2 2267.2 L382.0 2266.7 L381.9 2266.2 L381.7 2265.7 L381.5 2265.3 L381.4 2264.8 L381.3 2264.3 L381.2 2263.8 L381.1 2263.3 L381.0 2262.9 L380.9 2262.4 L380.8 2261.9 L380.8 2261.4 L380.7 2261.0 L380.7 2260.5 L380.8 2260.0 L380.8 2258.3 L380.9 2256.7 L381.0 2255.0 L381.2 2253.3 L381.4 2251.7 L381.7 2250.0 L382.0 2248.3 L382.4 2246.7 L382.9 2245.0 L383.3 2243.3 L383.9 2241.7 L384.4 2240.0 L385.0 2238.3 L385.6 2236.7 L386.3 2235.0 L386.9 2233.3 L387.6 2231.7 L388.3 2230.0 L389.0 2228.3 L389.8 2226.7 L390.5 2225.0 L391.3 2223.3 L392.0 2221.7 L392.8 2220.0 L393.5 2218.3 L394.2 2216.7 L394.9 2215.0 L395.6 2213.3 L396.3 2211.7 L396.9 2210.0 L397.5 2208.3 L398.0 2206.7 L398.6 2205.0 L399.1 2203.3 L399.5 2201.7 L399.9 2200.0 L400.2 2198.3 L400.4 2196.7 L400.6 2195.0 L400.8 2193.3 L400.9 2191.7 L401.1 2190.0 L401.2 2175.7 L401.2 2161.4 L401.3 2147.1 L401.3 2132.7 L401.3 2118.4 L401.3 2104.1Z" fill="#f58e90" stroke="#f4ef92" stroke-width="1.9" stroke-linejoin="round"/>
<rect x="394.55" y="2238.00" width="14.40" height="26.80" fill="#ec1c24"/>
<rect x="394.55" y="2248.70" width="14.40" height="6.60" fill="#fff"/>
<path d="M455.0 2098.0 L455.0 2111.3 L455.1 2124.7 L455.1 2138.0 L455.1 2151.3 L455.2 2164.7 L455.3 2178.0 L455.4 2179.7 L455.6 2181.4 L455.8 2183.0 L456.0 2184.7 L456.3 2186.4 L456.6 2188.1 L457.0 2189.8 L457.5 2191.4 L458.0 2193.1 L458.6 2194.8 L459.1 2196.5 L459.7 2198.1 L460.3 2199.8 L461.0 2201.5 L461.7 2203.2 L462.4 2204.9 L463.1 2206.5 L463.8 2208.2 L464.5 2209.9 L465.2 2211.6 L466.0 2213.2 L466.7 2214.9 L467.4 2216.6 L468.1 2218.3 L468.7 2220.0 L469.4 2221.6 L470.0 2223.3 L470.7 2225.0 L471.3 2226.7 L471.8 2228.4 L472.3 2230.0 L472.8 2231.7 L473.2 2233.4 L473.6 2235.1 L474.0 2236.8 L474.3 2238.4 L474.6 2240.1 L474.8 2241.8 L474.9 2243.5 L475.1 2245.1 L475.1 2246.8 L475.2 2248.5 L475.2 2249.2 L475.2 2249.8 L475.1 2250.5 L475.1 2251.2 L475.0 2251.9 L474.9 2252.5 L474.7 2253.2 L474.6 2253.9 L474.4 2254.5 L474.3 2255.2 L474.1 2255.9 L473.8 2256.6 L473.6 2257.2 L473.4 2257.9 L473.1 2258.6 L472.8 2259.2 L472.5 2259.9 L472.2 2260.6 L471.9 2261.3 L471.5 2261.9 L471.2 2262.6 L470.8 2263.3 L470.4 2263.9 L470.0 2264.6 L469.5 2265.3 L469.1 2266.0 L468.7 2266.6 L468.2 2267.3 L467.7 2268.0 L467.2 2268.6 L466.7 2269.3 L466.2 2270.0 L465.7 2270.7 L465.1 2271.3 L464.6 2272.0 L464.0 2272.7 L463.3 2273.3 L462.6 2274.0 L461.9 2274.7 L461.1 2275.4 L460.5 2276.0 L460.1 2276.7 L449.1 2276.7 L448.7 2276.0 L448.1 2275.4 L447.3 2274.7 L446.6 2274.0 L445.9 2273.3 L445.2 2272.7 L444.6 2272.0 L444.1 2271.3 L443.5 2270.7 L443.0 2270.0 L442.5 2269.3 L442.0 2268.6 L441.5 2268.0 L441.0 2267.3 L440.5 2266.6 L440.1 2266.0 L439.7 2265.3 L439.2 2264.6 L438.8 2263.9 L438.4 2263.3 L438.0 2262.6 L437.7 2261.9 L437.3 2261.3 L437.0 2260.6 L436.7 2259.9 L436.4 2259.2 L436.1 2258.6 L435.8 2257.9 L435.6 2257.2 L435.4 2256.6 L435.1 2255.9 L434.9 2255.2 L434.8 2254.5 L434.6 2253.9 L434.5 2253.2 L434.3 2252.5 L434.2 2251.9 L434.1 2251.2 L434.1 2250.5 L434.0 2249.8 L434.0 2249.2 L434.0 2248.5 L434.1 2246.8 L434.1 2245.1 L434.3 2243.5 L434.4 2241.8 L434.6 2240.1 L434.9 2238.4 L435.2 2236.8 L435.6 2235.1 L436.0 2233.4 L436.4 2231.7 L436.9 2230.0 L437.4 2228.4 L437.9 2226.7 L438.5 2225.0 L439.2 2223.3 L439.8 2221.6 L440.5 2220.0 L441.1 2218.3 L441.8 2216.6 L442.5 2214.9 L443.2 2213.2 L444.0 2211.6 L444.7 2209.9 L445.4 2208.2 L446.1 2206.5 L446.8 2204.9 L447.5 2203.2 L448.2 2201.5 L448.9 2199.8 L449.5 2198.1 L450.1 2196.5 L450.6 2194.8 L451.2 2193.1 L451.7 2191.4 L452.2 2189.8 L452.6 2188.1 L452.9 2186.4 L453.2 2184.7 L453.4 2183.0 L453.6 2181.4 L453.8 2179.7 L453.9 2178.0 L454.0 2164.7 L454.1 2151.3 L454.1 2138.0 L454.1 2124.7 L454.2 2111.3 L454.2 2098.0Z" fill="#f58e90" stroke="#f4ef92" stroke-width="1.9" stroke-linejoin="round"/>
<rect x="447.40" y="2217.00" width="14.40" height="37.30" fill="#ec1c24"/>
<rect x="447.40" y="2237.60" width="14.40" height="6.60" fill="#fff"/>
<path d="M507.9 2046.5 L507.9 2063.1 L507.9 2079.7 L507.9 2096.2 L507.9 2112.8 L508.0 2129.4 L508.1 2146.0 L508.4 2147.5 L508.7 2148.9 L509.1 2150.4 L509.6 2151.9 L510.0 2153.3 L510.5 2154.8 L511.1 2156.3 L511.7 2157.7 L512.3 2159.2 L512.9 2160.7 L513.6 2162.1 L514.2 2163.6 L514.9 2165.1 L515.6 2166.5 L516.2 2168.0 L516.9 2169.5 L517.6 2170.9 L518.3 2172.4 L518.9 2173.9 L519.6 2175.3 L520.2 2176.8 L520.8 2178.3 L521.5 2179.7 L522.0 2181.2 L522.6 2182.7 L523.1 2184.1 L523.7 2185.6 L524.2 2187.1 L524.6 2188.5 L525.1 2190.0 L525.5 2191.5 L525.9 2192.9 L526.2 2194.4 L526.5 2195.9 L526.8 2197.3 L527.1 2198.8 L527.3 2200.3 L527.4 2201.7 L527.6 2203.2 L527.7 2204.7 L527.7 2206.1 L527.8 2207.6 L527.7 2208.9 L527.7 2210.1 L527.6 2211.4 L527.4 2212.7 L527.3 2214.0 L527.0 2215.2 L526.8 2216.5 L526.5 2217.8 L526.2 2219.1 L525.8 2220.3 L525.4 2221.6 L525.0 2222.9 L524.6 2224.2 L524.1 2225.4 L523.6 2226.7 L523.1 2228.0 L522.5 2229.3 L521.9 2230.5 L521.4 2231.8 L520.8 2233.1 L520.1 2234.3 L519.5 2235.6 L518.8 2236.9 L518.2 2238.2 L517.6 2239.4 L516.9 2240.7 L516.2 2242.0 L515.6 2243.3 L514.9 2244.5 L514.3 2245.8 L513.7 2247.1 L513.1 2248.4 L512.5 2249.6 L511.9 2250.9 L511.4 2252.2 L510.9 2253.5 L510.5 2254.7 L510.1 2256.0 L509.7 2257.3 L509.4 2258.6 L509.1 2259.8 L508.9 2261.1 L505.9 2261.1 L505.8 2259.8 L505.5 2258.6 L505.2 2257.3 L504.8 2256.0 L504.4 2254.7 L504.0 2253.5 L503.5 2252.2 L503.0 2250.9 L502.4 2249.6 L501.8 2248.4 L501.2 2247.1 L500.6 2245.8 L500.0 2244.5 L499.3 2243.3 L498.7 2242.0 L498.0 2240.7 L497.3 2239.4 L496.7 2238.2 L496.1 2236.9 L495.4 2235.6 L494.8 2234.3 L494.1 2233.1 L493.5 2231.8 L493.0 2230.5 L492.4 2229.3 L491.8 2228.0 L491.3 2226.7 L490.8 2225.4 L490.3 2224.2 L489.9 2222.9 L489.5 2221.6 L489.1 2220.3 L488.7 2219.1 L488.4 2217.8 L488.1 2216.5 L487.9 2215.2 L487.6 2214.0 L487.5 2212.7 L487.3 2211.4 L487.2 2210.1 L487.2 2208.9 L487.1 2207.6 L487.2 2206.1 L487.2 2204.7 L487.3 2203.2 L487.5 2201.7 L487.6 2200.3 L487.8 2198.8 L488.1 2197.3 L488.4 2195.9 L488.7 2194.4 L489.0 2192.9 L489.4 2191.5 L489.8 2190.0 L490.3 2188.5 L490.7 2187.1 L491.2 2185.6 L491.8 2184.1 L492.3 2182.7 L492.9 2181.2 L493.4 2179.7 L494.1 2178.3 L494.7 2176.8 L495.3 2175.3 L496.0 2173.9 L496.6 2172.4 L497.3 2170.9 L498.0 2169.5 L498.7 2168.0 L499.3 2166.5 L500.0 2165.1 L500.7 2163.6 L501.3 2162.1 L502.0 2160.7 L502.6 2159.2 L503.2 2157.7 L503.8 2156.3 L504.4 2154.8 L504.9 2153.3 L505.3 2151.9 L505.8 2150.4 L506.2 2148.9 L506.5 2147.5 L506.8 2146.0 L506.9 2129.4 L507.0 2112.8 L507.0 2096.2 L507.0 2079.7 L507.0 2063.1 L507.0 2046.5Z" fill="#f58e90" stroke="#f4ef92" stroke-width="1.9" stroke-linejoin="round"/>
<rect x="500.25" y="2188.40" width="14.40" height="31.60" fill="#ec1c24"/>
<rect x="500.25" y="2203.70" width="14.40" height="6.60" fill="#fff"/>
<path d="M560.7 2098.0 L560.7 2107.7 L560.7 2117.3 L560.7 2127.0 L560.7 2136.7 L560.8 2146.3 L561.0 2156.0 L561.3 2157.4 L561.7 2158.8 L562.2 2160.2 L562.7 2161.6 L563.3 2163.0 L563.8 2164.5 L564.4 2165.9 L565.0 2167.3 L565.7 2168.7 L566.4 2170.1 L567.1 2171.5 L567.7 2172.9 L568.4 2174.3 L569.1 2175.7 L569.8 2177.1 L570.4 2178.6 L571.1 2180.0 L571.8 2181.4 L572.4 2182.8 L573.1 2184.2 L573.7 2185.6 L574.3 2187.0 L574.9 2188.4 L575.5 2189.8 L576.0 2191.2 L576.5 2192.6 L577.0 2194.1 L577.5 2195.5 L578.0 2196.9 L578.4 2198.3 L578.8 2199.7 L579.1 2201.1 L579.5 2202.5 L579.8 2203.9 L580.0 2205.3 L580.3 2206.7 L580.4 2208.2 L580.6 2209.6 L580.7 2211.0 L580.8 2212.4 L580.9 2213.8 L580.9 2215.2 L580.9 2216.5 L580.8 2217.8 L580.7 2219.1 L580.6 2220.4 L580.4 2221.7 L580.2 2222.9 L580.0 2224.2 L579.8 2225.5 L579.4 2226.8 L579.1 2228.1 L578.8 2229.4 L578.4 2230.7 L577.9 2232.0 L577.5 2233.3 L577.0 2234.6 L576.5 2235.8 L576.0 2237.1 L575.4 2238.4 L574.9 2239.7 L574.3 2241.0 L573.7 2242.3 L573.1 2243.6 L572.4 2244.9 L571.8 2246.2 L571.2 2247.5 L570.5 2248.8 L569.8 2250.0 L569.2 2251.3 L568.5 2252.6 L567.9 2253.9 L567.2 2255.2 L566.6 2256.5 L565.9 2257.8 L565.3 2259.1 L564.7 2260.4 L564.1 2261.7 L563.6 2262.9 L563.1 2264.2 L562.6 2265.5 L562.2 2266.8 L561.9 2268.1 L561.6 2269.4 L559.0 2269.4 L558.7 2268.1 L558.4 2266.8 L558.0 2265.5 L557.5 2264.2 L557.0 2262.9 L556.5 2261.7 L555.9 2260.4 L555.3 2259.1 L554.7 2257.8 L554.0 2256.5 L553.4 2255.2 L552.7 2253.9 L552.1 2252.6 L551.4 2251.3 L550.8 2250.0 L550.1 2248.8 L549.4 2247.5 L548.8 2246.2 L548.2 2244.9 L547.5 2243.6 L546.9 2242.3 L546.3 2241.0 L545.7 2239.7 L545.2 2238.4 L544.6 2237.1 L544.1 2235.8 L543.6 2234.6 L543.1 2233.3 L542.7 2232.0 L542.2 2230.7 L541.8 2229.4 L541.5 2228.1 L541.2 2226.8 L540.8 2225.5 L540.6 2224.2 L540.4 2222.9 L540.2 2221.7 L540.0 2220.4 L539.9 2219.1 L539.8 2217.8 L539.7 2216.5 L539.7 2215.2 L539.7 2213.8 L539.8 2212.4 L539.9 2211.0 L540.0 2209.6 L540.2 2208.2 L540.3 2206.7 L540.6 2205.3 L540.8 2203.9 L541.1 2202.5 L541.5 2201.1 L541.8 2199.7 L542.2 2198.3 L542.6 2196.9 L543.1 2195.5 L543.6 2194.1 L544.1 2192.6 L544.6 2191.2 L545.1 2189.8 L545.7 2188.4 L546.3 2187.0 L546.9 2185.6 L547.5 2184.2 L548.2 2182.8 L548.8 2181.4 L549.5 2180.0 L550.2 2178.6 L550.8 2177.1 L551.5 2175.7 L552.2 2174.3 L552.9 2172.9 L553.5 2171.5 L554.2 2170.1 L554.9 2168.7 L555.6 2167.3 L556.2 2165.9 L556.8 2164.5 L557.3 2163.0 L557.9 2161.6 L558.4 2160.2 L558.9 2158.8 L559.3 2157.4 L559.6 2156.0 L559.8 2146.3 L559.9 2136.7 L559.9 2127.0 L559.9 2117.3 L559.9 2107.7 L559.9 2098.0Z" fill="#f58e90" stroke="#f4ef92" stroke-width="1.9" stroke-linejoin="round"/>
<rect x="553.10" y="2196.10" width="14.40" height="30.60" fill="#ec1c24"/>
<rect x="553.10" y="2210.40" width="14.40" height="6.60" fill="#fff"/>
<path d="M614.9 2147.7 L615.1 2147.9 L615.2 2148.1 L615.3 2148.3 L615.6 2148.6 L615.8 2148.8 L616.1 2149.0 L616.6 2150.7 L617.1 2152.4 L617.6 2154.1 L618.2 2155.8 L618.8 2157.5 L619.4 2159.1 L620.0 2160.8 L620.6 2162.5 L621.3 2164.2 L621.9 2165.9 L622.5 2167.6 L623.2 2169.3 L623.8 2171.0 L624.4 2172.7 L625.0 2174.4 L625.6 2176.0 L626.2 2177.7 L626.8 2179.4 L627.3 2181.1 L627.9 2182.8 L628.4 2184.5 L629.0 2186.2 L629.5 2187.9 L629.9 2189.6 L630.4 2191.3 L630.8 2193.0 L631.3 2194.6 L631.7 2196.3 L632.0 2198.0 L632.4 2199.7 L632.7 2201.4 L633.0 2203.1 L633.3 2204.8 L633.5 2206.5 L633.7 2208.2 L633.9 2209.9 L634.1 2211.5 L634.2 2213.2 L634.3 2214.9 L634.4 2216.6 L634.4 2218.3 L634.4 2220.0 L634.4 2221.2 L634.4 2222.4 L634.3 2223.6 L634.2 2224.7 L634.1 2225.9 L633.9 2227.1 L633.7 2228.3 L633.5 2229.5 L633.2 2230.7 L632.9 2231.9 L632.6 2233.0 L632.3 2234.2 L631.9 2235.4 L631.5 2236.6 L631.1 2237.8 L630.6 2239.0 L630.2 2240.2 L629.7 2241.3 L629.2 2242.5 L628.6 2243.7 L628.1 2244.9 L627.5 2246.1 L626.9 2247.3 L626.4 2248.5 L625.8 2249.6 L625.1 2250.8 L624.5 2252.0 L623.9 2253.2 L623.2 2254.4 L622.6 2255.6 L622.0 2256.8 L621.3 2257.9 L620.7 2259.1 L620.0 2260.3 L619.4 2261.5 L618.8 2262.7 L618.2 2263.9 L617.6 2265.1 L617.1 2266.2 L616.5 2267.4 L616.1 2268.6 L615.8 2269.8 L610.5 2269.8 L610.2 2268.6 L609.8 2267.4 L609.2 2266.2 L608.7 2265.1 L608.1 2263.9 L607.5 2262.7 L606.9 2261.5 L606.3 2260.3 L605.6 2259.1 L605.0 2257.9 L604.3 2256.8 L603.7 2255.6 L603.1 2254.4 L602.4 2253.2 L601.8 2252.0 L601.2 2250.8 L600.5 2249.6 L599.9 2248.5 L599.4 2247.3 L598.8 2246.1 L598.2 2244.9 L597.7 2243.7 L597.1 2242.5 L596.6 2241.3 L596.1 2240.2 L595.7 2239.0 L595.2 2237.8 L594.8 2236.6 L594.4 2235.4 L594.0 2234.2 L593.7 2233.0 L593.4 2231.9 L593.1 2230.7 L592.8 2229.5 L592.6 2228.3 L592.4 2227.1 L592.2 2225.9 L592.1 2224.7 L592.0 2223.6 L591.9 2222.4 L591.9 2221.2 L591.9 2220.0 L591.9 2218.3 L591.9 2216.6 L592.0 2214.9 L592.1 2213.2 L592.2 2211.5 L592.4 2209.9 L592.6 2208.2 L592.8 2206.5 L593.0 2204.8 L593.3 2203.1 L593.6 2201.4 L593.9 2199.7 L594.3 2198.0 L594.6 2196.3 L595.0 2194.6 L595.5 2193.0 L595.9 2191.3 L596.4 2189.6 L596.8 2187.9 L597.3 2186.2 L597.9 2184.5 L598.4 2182.8 L599.0 2181.1 L599.5 2179.4 L600.1 2177.7 L600.7 2176.0 L601.3 2174.4 L601.9 2172.7 L602.5 2171.0 L603.1 2169.3 L603.8 2167.6 L604.4 2165.9 L605.0 2164.2 L605.7 2162.5 L606.3 2160.8 L606.9 2159.1 L607.5 2157.5 L608.1 2155.8 L608.7 2154.1 L609.2 2152.4 L609.7 2150.7 L610.1 2149.0 L610.5 2148.8 L610.7 2148.6 L611.0 2148.3 L611.1 2148.1 L611.2 2147.9 L611.4 2147.7Z" fill="#f58e90" stroke="#f4ef92" stroke-width="1.9" stroke-linejoin="round"/>
<rect x="605.95" y="2196.10" width="14.40" height="38.80" fill="#ec1c24"/>
<rect x="605.95" y="2213.50" width="14.40" height="6.60" fill="#fff"/>
<path d="M666.4 2103.9 L666.4 2108.6 L666.4 2113.3 L666.4 2117.9 L666.4 2122.6 L666.4 2127.3 L666.6 2132.0 L666.9 2134.2 L667.2 2136.3 L667.6 2138.5 L668.0 2140.7 L668.5 2142.8 L669.0 2145.0 L669.6 2147.5 L670.3 2150.0 L671.0 2152.5 L671.7 2155.0 L672.4 2157.5 L673.0 2160.0 L673.6 2162.0 L674.1 2164.0 L674.7 2166.0 L675.2 2168.0 L675.6 2170.0 L676.0 2172.0 L676.3 2174.2 L676.4 2176.3 L676.6 2178.5 L676.7 2180.7 L676.8 2182.8 L677.0 2185.0 L677.2 2187.2 L677.5 2189.3 L677.8 2191.5 L678.1 2193.7 L678.5 2195.8 L679.0 2198.0 L679.6 2200.0 L680.4 2202.0 L681.2 2204.0 L682.0 2206.0 L682.8 2208.0 L683.5 2210.0 L684.1 2212.0 L684.7 2214.0 L685.3 2216.0 L685.8 2218.0 L686.2 2220.0 L686.6 2222.0 L686.9 2223.3 L687.1 2224.5 L687.3 2225.8 L687.3 2227.1 L687.4 2228.3 L687.3 2229.6 L687.2 2231.0 L687.0 2232.4 L686.8 2233.8 L686.5 2235.2 L686.1 2236.6 L685.5 2238.0 L684.7 2239.7 L683.8 2241.3 L682.7 2243.0 L681.6 2244.7 L680.5 2246.3 L679.5 2248.0 L678.5 2249.5 L677.6 2251.0 L676.6 2252.5 L675.7 2254.0 L674.8 2255.5 L674.0 2257.0 L673.2 2258.5 L672.4 2260.0 L671.7 2261.4 L671.0 2262.9 L670.4 2264.4 L670.0 2265.9 L662.0 2265.9 L661.6 2264.4 L661.0 2262.9 L660.3 2261.4 L659.6 2260.0 L658.8 2258.5 L658.0 2257.0 L657.2 2255.5 L656.3 2254.0 L655.4 2252.5 L654.4 2251.0 L653.5 2249.5 L652.5 2248.0 L651.5 2246.3 L650.4 2244.7 L649.3 2243.0 L648.2 2241.3 L647.3 2239.7 L646.5 2238.0 L645.9 2236.6 L645.5 2235.2 L645.2 2233.8 L645.0 2232.4 L644.8 2231.0 L644.7 2229.6 L644.6 2228.3 L644.7 2227.1 L644.7 2225.8 L644.9 2224.5 L645.1 2223.3 L645.4 2222.0 L645.8 2220.0 L646.2 2218.0 L646.7 2216.0 L647.3 2214.0 L647.9 2212.0 L648.5 2210.0 L649.2 2208.0 L650.0 2206.0 L650.8 2204.0 L651.6 2202.0 L652.4 2200.0 L653.0 2198.0 L653.5 2195.8 L653.9 2193.7 L654.2 2191.5 L654.5 2189.3 L654.8 2187.2 L655.0 2185.0 L655.2 2182.8 L655.3 2180.7 L655.4 2178.5 L655.6 2176.3 L655.7 2174.2 L656.0 2172.0 L656.4 2170.0 L656.8 2168.0 L657.3 2166.0 L657.9 2164.0 L658.4 2162.0 L659.0 2160.0 L659.6 2157.5 L660.3 2155.0 L661.0 2152.5 L661.7 2150.0 L662.4 2147.5 L663.0 2145.0 L663.5 2142.8 L664.0 2140.7 L664.4 2138.5 L664.8 2136.3 L665.1 2134.2 L665.4 2132.0 L665.6 2127.3 L665.6 2122.6 L665.6 2117.9 L665.6 2113.3 L665.6 2108.6 L665.6 2103.9Z" fill="#f58e90" stroke="#f4ef92" stroke-width="1.9" stroke-linejoin="round"/>
<rect x="658.80" y="2188.00" width="14.40" height="48.30" fill="#ec1c24"/>
<rect x="658.80" y="2216.10" width="14.40" height="6.60" fill="#fff"/>
<path d="M719.3 2109.6 L719.3 2114.7 L719.3 2119.7 L719.2 2124.8 L719.3 2129.9 L719.4 2134.9 L719.6 2140.0 L719.8 2141.9 L720.2 2143.9 L720.6 2145.8 L721.1 2147.8 L721.7 2149.8 L722.2 2151.7 L722.8 2153.6 L723.4 2155.6 L724.0 2157.6 L724.7 2159.5 L725.4 2161.4 L726.1 2163.4 L726.7 2165.3 L727.4 2167.3 L728.1 2169.2 L728.8 2171.2 L729.5 2173.2 L730.2 2175.1 L730.8 2177.1 L731.5 2179.0 L732.1 2180.9 L732.8 2182.9 L733.4 2184.9 L734.0 2186.8 L734.5 2188.8 L735.1 2190.7 L735.6 2192.7 L736.1 2194.6 L736.6 2196.6 L737.0 2198.5 L737.4 2200.4 L737.8 2202.4 L738.1 2204.4 L738.5 2206.3 L738.7 2208.2 L739.0 2210.2 L739.2 2212.2 L739.3 2214.1 L739.5 2216.1 L739.6 2218.0 L739.6 2220.0 L739.6 2221.9 L739.6 2223.0 L739.6 2224.0 L739.5 2225.1 L739.4 2226.2 L739.2 2227.3 L739.0 2228.3 L738.8 2229.4 L738.6 2230.5 L738.3 2231.5 L738.0 2232.6 L737.6 2233.7 L737.3 2234.8 L736.9 2235.8 L736.4 2236.9 L736.0 2238.0 L735.5 2239.0 L735.0 2240.1 L734.5 2241.2 L734.0 2242.3 L733.4 2243.3 L732.8 2244.4 L732.2 2245.5 L731.6 2246.5 L731.0 2247.6 L730.4 2248.7 L729.8 2249.8 L729.1 2250.8 L728.5 2251.9 L727.8 2253.0 L727.2 2254.0 L726.6 2255.1 L725.9 2256.2 L725.3 2257.3 L724.7 2258.3 L724.1 2259.4 L723.5 2260.5 L723.0 2261.5 L722.5 2262.6 L722.0 2263.7 L721.5 2264.8 L721.1 2265.8 L720.9 2266.9 L716.9 2266.9 L716.6 2265.8 L716.2 2264.8 L715.7 2263.7 L715.2 2262.6 L714.7 2261.5 L714.2 2260.5 L713.6 2259.4 L713.0 2258.3 L712.4 2257.3 L711.8 2256.2 L711.1 2255.1 L710.5 2254.0 L709.9 2253.0 L709.2 2251.9 L708.6 2250.8 L707.9 2249.8 L707.3 2248.7 L706.7 2247.6 L706.1 2246.5 L705.5 2245.5 L704.9 2244.4 L704.3 2243.3 L703.7 2242.3 L703.2 2241.2 L702.7 2240.1 L702.2 2239.0 L701.7 2238.0 L701.3 2236.9 L700.8 2235.8 L700.4 2234.8 L700.1 2233.7 L699.7 2232.6 L699.4 2231.5 L699.1 2230.5 L698.9 2229.4 L698.7 2228.3 L698.5 2227.3 L698.3 2226.2 L698.2 2225.1 L698.1 2224.0 L698.1 2223.0 L698.1 2221.9 L698.1 2220.0 L698.1 2218.0 L698.2 2216.1 L698.4 2214.1 L698.5 2212.2 L698.7 2210.2 L699.0 2208.2 L699.2 2206.3 L699.6 2204.4 L699.9 2202.4 L700.3 2200.4 L700.7 2198.5 L701.1 2196.6 L701.6 2194.6 L702.1 2192.7 L702.6 2190.7 L703.2 2188.8 L703.7 2186.8 L704.3 2184.9 L704.9 2182.9 L705.6 2180.9 L706.2 2179.0 L706.9 2177.1 L707.5 2175.1 L708.2 2173.2 L708.9 2171.2 L709.6 2169.2 L710.3 2167.3 L711.0 2165.3 L711.6 2163.4 L712.3 2161.4 L713.0 2159.5 L713.7 2157.6 L714.3 2155.6 L714.9 2153.6 L715.5 2151.7 L716.0 2149.8 L716.6 2147.8 L717.1 2145.8 L717.5 2143.9 L717.9 2141.9 L718.1 2140.0 L718.3 2134.9 L718.4 2129.9 L718.5 2124.8 L718.4 2119.7 L718.4 2114.7 L718.4 2109.6Z" fill="#f58e90" stroke="#f4ef92" stroke-width="1.9" stroke-linejoin="round"/>
<rect x="711.65" y="2195.10" width="14.40" height="37.00" fill="#ec1c24"/>
<rect x="711.65" y="2212.30" width="14.40" height="6.60" fill="#fff"/>
<path d="M772.1 2083.5 L772.1 2087.2 L772.1 2091.0 L772.1 2094.8 L772.1 2098.5 L772.2 2102.2 L772.4 2106.0 L772.7 2107.8 L773.1 2109.5 L773.5 2111.3 L774.0 2113.0 L774.6 2114.8 L775.1 2116.6 L775.7 2118.3 L776.4 2120.1 L777.0 2121.8 L777.7 2123.6 L778.4 2125.4 L779.1 2127.1 L779.8 2128.9 L780.5 2130.6 L781.3 2132.4 L782.0 2134.2 L782.7 2135.9 L783.4 2137.7 L784.1 2139.4 L784.8 2141.2 L785.4 2142.9 L786.1 2144.7 L786.7 2146.5 L787.3 2148.2 L787.9 2150.0 L788.5 2151.7 L789.0 2153.5 L789.5 2155.3 L790.0 2157.0 L790.5 2158.8 L790.9 2160.5 L791.3 2162.3 L791.6 2164.1 L792.0 2165.8 L792.3 2167.6 L792.5 2169.3 L792.7 2171.1 L792.9 2172.9 L793.0 2174.6 L793.1 2176.4 L793.2 2178.1 L793.2 2179.9 L793.2 2181.9 L793.1 2183.9 L793.0 2185.9 L792.9 2187.8 L792.7 2189.8 L792.5 2191.8 L792.2 2193.8 L791.9 2195.8 L791.5 2197.8 L791.2 2199.8 L790.7 2201.7 L790.3 2203.7 L789.8 2205.7 L789.3 2207.7 L788.8 2209.7 L788.2 2211.7 L787.6 2213.7 L787.0 2215.6 L786.4 2217.6 L785.8 2219.6 L785.1 2221.6 L784.4 2223.6 L783.7 2225.6 L783.0 2227.6 L782.4 2229.5 L781.7 2231.5 L781.0 2233.5 L780.3 2235.5 L779.6 2237.5 L778.9 2239.5 L778.3 2241.5 L777.6 2243.4 L777.0 2245.4 L776.4 2247.4 L775.8 2249.4 L775.3 2251.4 L774.8 2253.4 L774.4 2255.4 L774.0 2257.3 L773.7 2259.3 L773.4 2261.3 L773.2 2263.3 L770.2 2263.3 L770.0 2261.3 L769.7 2259.3 L769.4 2257.3 L769.0 2255.4 L768.6 2253.4 L768.1 2251.4 L767.6 2249.4 L767.0 2247.4 L766.4 2245.4 L765.8 2243.4 L765.1 2241.5 L764.5 2239.5 L763.8 2237.5 L763.1 2235.5 L762.4 2233.5 L761.7 2231.5 L761.0 2229.5 L760.4 2227.6 L759.7 2225.6 L759.0 2223.6 L758.3 2221.6 L757.6 2219.6 L757.0 2217.6 L756.4 2215.6 L755.8 2213.7 L755.2 2211.7 L754.6 2209.7 L754.1 2207.7 L753.6 2205.7 L753.1 2203.7 L752.7 2201.7 L752.2 2199.8 L751.9 2197.8 L751.5 2195.8 L751.2 2193.8 L750.9 2191.8 L750.7 2189.8 L750.5 2187.8 L750.4 2185.9 L750.3 2183.9 L750.2 2181.9 L750.2 2179.9 L750.2 2178.1 L750.3 2176.4 L750.4 2174.6 L750.5 2172.9 L750.7 2171.1 L750.9 2169.3 L751.1 2167.6 L751.4 2165.8 L751.8 2164.1 L752.1 2162.3 L752.5 2160.5 L752.9 2158.8 L753.4 2157.0 L753.9 2155.3 L754.4 2153.5 L754.9 2151.7 L755.5 2150.0 L756.1 2148.2 L756.7 2146.5 L757.3 2144.7 L758.0 2142.9 L758.6 2141.2 L759.3 2139.4 L760.0 2137.7 L760.7 2135.9 L761.4 2134.2 L762.1 2132.4 L762.9 2130.6 L763.6 2128.9 L764.3 2127.1 L765.0 2125.4 L765.7 2123.6 L766.4 2121.8 L767.0 2120.1 L767.7 2118.3 L768.3 2116.6 L768.8 2114.8 L769.4 2113.0 L769.9 2111.3 L770.3 2109.5 L770.7 2107.8 L771.0 2106.0 L771.2 2102.2 L771.3 2098.5 L771.3 2094.8 L771.3 2091.0 L771.3 2087.2 L771.3 2083.5Z" fill="#f58e90" stroke="#f4ef92" stroke-width="1.9" stroke-linejoin="round"/>
<rect x="764.50" y="2166.10" width="14.40" height="40.70" fill="#ec1c24"/>
<rect x="764.50" y="2181.20" width="14.40" height="6.60" fill="#fff"/>
<path d="M825.0 2008.2 L825.1 2023.5 L825.0 2038.8 L825.0 2054.1 L825.1 2069.4 L825.2 2084.7 L825.3 2100.0 L825.6 2102.5 L826.0 2105.0 L826.4 2107.5 L826.9 2110.0 L827.4 2112.5 L828.0 2115.0 L828.7 2117.5 L829.5 2120.0 L830.3 2122.5 L831.1 2125.0 L832.1 2127.5 L833.0 2130.0 L834.1 2132.7 L835.3 2135.3 L836.6 2138.0 L837.9 2140.7 L839.0 2143.3 L840.0 2146.0 L840.9 2148.3 L841.7 2150.7 L842.4 2153.0 L843.0 2155.3 L843.6 2157.7 L844.0 2160.0 L844.5 2163.5 L844.9 2167.0 L845.2 2170.5 L845.4 2174.0 L845.6 2177.5 L845.8 2181.0 L845.8 2184.2 L845.8 2187.3 L845.8 2190.5 L845.7 2193.7 L845.6 2196.8 L845.3 2200.0 L845.0 2203.3 L844.6 2206.7 L844.2 2210.0 L843.7 2213.3 L843.1 2216.7 L842.5 2220.0 L842.0 2223.0 L841.4 2226.0 L840.7 2229.0 L840.0 2232.0 L839.3 2235.0 L838.5 2238.0 L837.7 2240.8 L836.7 2243.7 L835.7 2246.5 L834.8 2249.3 L833.8 2252.2 L833.0 2255.0 L832.4 2256.8 L831.8 2258.7 L831.3 2260.5 L830.8 2262.3 L830.4 2264.2 L830.0 2266.0 L829.8 2267.2 L829.6 2268.3 L829.4 2269.4 L829.3 2270.6 L829.2 2271.8 L829.1 2272.9 L819.9 2272.9 L819.9 2271.8 L819.8 2270.6 L819.7 2269.4 L819.5 2268.3 L819.3 2267.2 L819.0 2266.0 L818.7 2264.2 L818.3 2262.3 L817.8 2260.5 L817.3 2258.7 L816.7 2256.8 L816.0 2255.0 L815.3 2252.2 L814.3 2249.3 L813.4 2246.5 L812.4 2243.7 L811.4 2240.8 L810.5 2238.0 L809.8 2235.0 L809.1 2232.0 L808.4 2229.0 L807.7 2226.0 L807.1 2223.0 L806.5 2220.0 L806.0 2216.7 L805.4 2213.3 L804.9 2210.0 L804.5 2206.7 L804.1 2203.3 L803.8 2200.0 L803.5 2196.8 L803.4 2193.7 L803.3 2190.5 L803.3 2187.3 L803.3 2184.2 L803.3 2181.0 L803.5 2177.5 L803.7 2174.0 L803.9 2170.5 L804.2 2167.0 L804.6 2163.5 L805.0 2160.0 L805.5 2157.7 L806.1 2155.3 L806.7 2153.0 L807.4 2150.7 L808.2 2148.3 L809.0 2146.0 L810.1 2143.3 L811.2 2140.7 L812.5 2138.0 L813.8 2135.3 L815.0 2132.7 L816.0 2130.0 L817.0 2127.5 L817.9 2125.0 L818.8 2122.5 L819.6 2120.0 L820.4 2117.5 L821.0 2115.0 L821.7 2112.5 L822.2 2110.0 L822.7 2107.5 L823.1 2105.0 L823.5 2102.5 L823.8 2100.0 L823.9 2084.7 L824.0 2069.4 L824.1 2054.1 L824.1 2038.8 L824.0 2023.5 L824.0 2008.2Z" fill="#f58e90" stroke="#f4ef92" stroke-width="1.9" stroke-linejoin="round"/>
<rect x="817.35" y="2159.30" width="14.40" height="61.30" fill="#ec1c24"/>
<rect x="817.35" y="2189.20" width="14.40" height="6.60" fill="#fff"/>
<path d="M877.8 2103.0 L877.8 2106.2 L877.8 2109.3 L877.9 2112.5 L877.9 2115.7 L878.0 2118.8 L878.1 2122.0 L878.3 2124.2 L878.5 2126.3 L878.7 2128.5 L879.0 2130.7 L879.3 2132.9 L879.7 2135.0 L880.2 2137.2 L880.7 2139.4 L881.3 2141.5 L881.9 2143.7 L882.5 2145.9 L883.2 2148.1 L883.8 2150.2 L884.5 2152.4 L885.2 2154.6 L886.0 2156.7 L886.7 2158.9 L887.5 2161.1 L888.2 2163.3 L888.9 2165.4 L889.7 2167.6 L890.4 2169.8 L891.2 2171.9 L891.9 2174.1 L892.5 2176.3 L893.2 2178.5 L893.8 2180.6 L894.5 2182.8 L895.1 2185.0 L895.6 2187.1 L896.1 2189.3 L896.6 2191.5 L897.0 2193.7 L897.4 2195.8 L897.8 2198.0 L898.1 2200.2 L898.4 2202.3 L898.6 2204.5 L898.7 2206.7 L898.9 2208.9 L898.9 2211.0 L899.0 2213.2 L899.0 2214.4 L899.0 2215.6 L898.9 2216.8 L898.8 2218.0 L898.7 2219.2 L898.6 2220.4 L898.4 2221.6 L898.3 2222.8 L898.1 2224.0 L897.9 2225.2 L897.6 2226.4 L897.4 2227.6 L897.1 2228.8 L896.8 2230.0 L896.5 2231.2 L896.1 2232.4 L895.8 2233.6 L895.4 2234.8 L895.0 2236.0 L894.6 2237.2 L894.1 2238.4 L893.7 2239.7 L893.2 2240.9 L892.7 2242.1 L892.3 2243.3 L891.8 2244.5 L891.2 2245.7 L890.7 2246.9 L890.2 2248.1 L889.6 2249.3 L889.0 2250.5 L888.5 2251.7 L887.9 2252.9 L887.3 2254.1 L886.7 2255.3 L886.1 2256.5 L885.4 2257.7 L884.7 2258.9 L884.0 2260.1 L883.4 2261.3 L882.8 2262.5 L882.4 2263.7 L872.4 2263.7 L872.0 2262.5 L871.4 2261.3 L870.8 2260.1 L870.1 2258.9 L869.4 2257.7 L868.7 2256.5 L868.1 2255.3 L867.5 2254.1 L866.9 2252.9 L866.3 2251.7 L865.8 2250.5 L865.2 2249.3 L864.6 2248.1 L864.1 2246.9 L863.6 2245.7 L863.0 2244.5 L862.5 2243.3 L862.1 2242.1 L861.6 2240.9 L861.1 2239.7 L860.7 2238.4 L860.2 2237.2 L859.8 2236.0 L859.4 2234.8 L859.0 2233.6 L858.7 2232.4 L858.3 2231.2 L858.0 2230.0 L857.7 2228.8 L857.4 2227.6 L857.2 2226.4 L856.9 2225.2 L856.7 2224.0 L856.5 2222.8 L856.4 2221.6 L856.2 2220.4 L856.1 2219.2 L856.0 2218.0 L855.9 2216.8 L855.8 2215.6 L855.8 2214.4 L855.8 2213.2 L855.9 2211.0 L855.9 2208.9 L856.1 2206.7 L856.2 2204.5 L856.4 2202.3 L856.7 2200.2 L857.0 2198.0 L857.4 2195.8 L857.8 2193.7 L858.2 2191.5 L858.7 2189.3 L859.2 2187.1 L859.7 2185.0 L860.3 2182.8 L861.0 2180.6 L861.6 2178.5 L862.3 2176.3 L862.9 2174.1 L863.6 2171.9 L864.4 2169.8 L865.1 2167.6 L865.9 2165.4 L866.6 2163.3 L867.3 2161.1 L868.1 2158.9 L868.8 2156.7 L869.6 2154.6 L870.3 2152.4 L871.0 2150.2 L871.6 2148.1 L872.3 2145.9 L872.9 2143.7 L873.5 2141.5 L874.1 2139.4 L874.6 2137.2 L875.1 2135.0 L875.5 2132.9 L875.8 2130.7 L876.1 2128.5 L876.3 2126.3 L876.5 2124.2 L876.7 2122.0 L876.8 2118.8 L876.9 2115.7 L876.9 2112.5 L877.0 2109.3 L877.0 2106.2 L877.0 2103.0Z" fill="#f58e90" stroke="#f4ef92" stroke-width="1.9" stroke-linejoin="round"/>
<rect x="870.20" y="2194.40" width="14.40" height="38.80" fill="#ec1c24"/>
<rect x="870.20" y="2210.40" width="14.40" height="6.60" fill="#fff"/>
<path d="M931.8 1994.4 L931.9 1996.2 L932.1 1997.9 L932.3 1999.7 L932.6 2001.5 L932.9 2003.2 L933.2 2005.0 L933.7 2007.5 L934.1 2010.0 L934.6 2012.5 L935.2 2015.0 L935.7 2017.5 L936.2 2020.0 L936.8 2022.5 L937.3 2025.0 L937.9 2027.5 L938.5 2030.0 L939.1 2032.5 L939.8 2035.0 L940.4 2037.2 L941.1 2039.3 L941.9 2041.5 L942.6 2043.7 L943.4 2045.8 L944.2 2048.0 L945.1 2050.0 L946.1 2052.0 L947.1 2054.0 L948.1 2056.0 L949.0 2058.0 L949.8 2060.0 L950.4 2061.6 L950.9 2063.2 L951.3 2064.8 L951.7 2066.5 L951.9 2068.1 L952.0 2069.7 L952.1 2071.4 L952.0 2073.1 L951.8 2074.8 L951.6 2076.6 L951.2 2078.3 L950.8 2080.0 L950.2 2082.2 L949.5 2084.3 L948.6 2086.5 L947.8 2088.7 L947.0 2090.8 L946.2 2093.0 L945.6 2095.5 L945.0 2098.0 L944.4 2100.5 L943.9 2103.0 L943.3 2105.5 L942.8 2108.0 L942.2 2110.6 L941.6 2113.2 L941.0 2115.8 L940.4 2118.5 L939.8 2121.1 L939.2 2123.7 L938.7 2126.4 L938.0 2129.1 L937.4 2131.8 L936.8 2134.6 L936.3 2137.3 L935.8 2140.0 L935.3 2142.5 L934.8 2145.0 L934.4 2147.5 L934.0 2150.0 L933.6 2152.5 L933.2 2155.0 L932.9 2157.4 L932.6 2159.9 L932.3 2162.3 L932.1 2164.7 L931.9 2167.2 L931.8 2169.6 L931.8 2177.6 L931.8 2185.7 L931.8 2193.7 L931.8 2201.7 L931.8 2209.8 L931.8 2217.8 L928.8 2217.8 L928.8 2209.8 L928.8 2201.7 L928.8 2193.7 L928.8 2185.7 L928.8 2177.6 L928.8 2169.6 L928.6 2167.2 L928.4 2164.7 L928.2 2162.3 L927.9 2159.9 L927.6 2157.4 L927.2 2155.0 L926.9 2152.5 L926.5 2150.0 L926.1 2147.5 L925.7 2145.0 L925.2 2142.5 L924.8 2140.0 L924.2 2137.3 L923.7 2134.6 L923.1 2131.8 L922.5 2129.1 L921.8 2126.4 L921.2 2123.7 L920.7 2121.1 L920.1 2118.5 L919.5 2115.8 L918.9 2113.2 L918.3 2110.6 L917.8 2108.0 L917.2 2105.5 L916.6 2103.0 L916.1 2100.5 L915.5 2098.0 L914.9 2095.5 L914.2 2093.0 L913.5 2090.8 L912.7 2088.7 L911.9 2086.5 L911.0 2084.3 L910.3 2082.2 L909.8 2080.0 L909.3 2078.3 L908.9 2076.6 L908.7 2074.8 L908.5 2073.1 L908.4 2071.4 L908.5 2069.7 L908.6 2068.1 L908.8 2066.5 L909.2 2064.8 L909.6 2063.2 L910.1 2061.6 L910.8 2060.0 L911.5 2058.0 L912.4 2056.0 L913.4 2054.0 L914.4 2052.0 L915.4 2050.0 L916.2 2048.0 L917.1 2045.8 L917.9 2043.7 L918.6 2041.5 L919.4 2039.3 L920.1 2037.2 L920.8 2035.0 L921.4 2032.5 L922.0 2030.0 L922.6 2027.5 L923.2 2025.0 L923.7 2022.5 L924.2 2020.0 L924.8 2017.5 L925.3 2015.0 L925.9 2012.5 L926.4 2010.0 L926.8 2007.5 L927.2 2005.0 L927.6 2003.2 L927.9 2001.5 L928.2 1999.7 L928.4 1997.9 L928.6 1996.2 L928.8 1994.4Z" fill="#a3dfe0"/>
<rect x="923.00" y="2054.10" width="14.50" height="44.80" fill="#566069"/>
<rect x="923.00" y="2069.90" width="14.50" height="6.60" fill="#fff"/>
<path d="M985.9 1969.2 L985.9 1971.8 L986.0 1974.5 L986.0 1977.1 L986.1 1979.7 L986.3 1982.4 L986.6 1985.0 L987.0 1987.0 L987.5 1989.0 L988.0 1991.0 L988.6 1993.0 L989.3 1995.0 L990.1 1997.0 L991.0 2000.0 L992.0 2003.0 L993.0 2006.0 L994.1 2009.0 L995.1 2012.0 L996.1 2015.0 L997.0 2017.8 L997.9 2020.6 L998.8 2023.4 L999.6 2026.2 L1000.4 2029.0 L1001.1 2031.8 L1001.7 2034.8 L1002.3 2037.9 L1002.7 2040.9 L1003.2 2043.9 L1003.6 2047.0 L1003.9 2050.0 L1004.2 2053.3 L1004.4 2056.7 L1004.5 2060.0 L1004.7 2063.3 L1004.8 2066.7 L1004.9 2070.0 L1005.0 2073.2 L1005.2 2076.4 L1005.3 2079.6 L1005.4 2082.8 L1005.5 2086.0 L1005.5 2089.2 L1005.5 2092.7 L1005.4 2096.1 L1005.4 2099.6 L1005.3 2103.1 L1005.2 2106.5 L1005.1 2110.0 L1005.0 2113.3 L1005.0 2116.7 L1004.9 2120.0 L1004.8 2123.3 L1004.8 2126.7 L1004.7 2130.0 L1004.6 2132.8 L1004.6 2135.5 L1004.6 2138.3 L1004.5 2141.1 L1004.4 2143.8 L1004.1 2146.6 L1003.7 2149.2 L1003.2 2151.7 L1002.6 2154.3 L1001.9 2156.9 L1001.2 2159.4 L1000.6 2162.0 L1000.0 2164.7 L999.3 2167.3 L998.6 2170.0 L997.9 2172.7 L997.2 2175.3 L996.6 2178.0 L996.0 2180.4 L995.4 2182.8 L994.8 2185.2 L994.3 2187.7 L993.7 2190.1 L993.1 2192.5 L992.5 2195.4 L991.8 2198.3 L991.1 2201.2 L990.4 2204.2 L989.7 2207.1 L989.1 2210.0 L988.5 2212.5 L988.0 2215.0 L987.4 2217.5 L986.9 2220.0 L986.5 2222.5 L986.1 2225.0 L985.8 2227.4 L985.5 2229.9 L985.2 2232.3 L985.0 2234.7 L984.8 2237.2 L984.7 2239.6 L981.5 2239.6 L981.4 2237.2 L981.2 2234.7 L981.0 2232.3 L980.7 2229.9 L980.4 2227.4 L980.1 2225.0 L979.7 2222.5 L979.3 2220.0 L978.8 2217.5 L978.2 2215.0 L977.7 2212.5 L977.1 2210.0 L976.5 2207.1 L975.8 2204.2 L975.1 2201.2 L974.4 2198.3 L973.7 2195.4 L973.1 2192.5 L972.5 2190.1 L971.9 2187.7 L971.3 2185.2 L970.8 2182.8 L970.2 2180.4 L969.6 2178.0 L969.0 2175.3 L968.3 2172.7 L967.6 2170.0 L966.9 2167.3 L966.2 2164.7 L965.6 2162.0 L965.0 2159.4 L964.3 2156.9 L963.6 2154.3 L963.0 2151.7 L962.5 2149.2 L962.1 2146.6 L961.8 2143.8 L961.7 2141.1 L961.6 2138.3 L961.6 2135.5 L961.6 2132.8 L961.5 2130.0 L961.4 2126.7 L961.4 2123.3 L961.3 2120.0 L961.2 2116.7 L961.2 2113.3 L961.1 2110.0 L961.0 2106.5 L960.9 2103.1 L960.8 2099.6 L960.8 2096.1 L960.7 2092.7 L960.7 2089.2 L960.7 2086.0 L960.8 2082.8 L960.9 2079.6 L961.0 2076.4 L961.2 2073.2 L961.3 2070.0 L961.4 2066.7 L961.5 2063.3 L961.7 2060.0 L961.8 2056.7 L962.0 2053.3 L962.3 2050.0 L962.6 2047.0 L963.0 2043.9 L963.4 2040.9 L963.9 2037.9 L964.5 2034.8 L965.1 2031.8 L965.8 2029.0 L966.6 2026.2 L967.4 2023.4 L968.3 2020.6 L969.2 2017.8 L970.1 2015.0 L971.1 2012.0 L972.1 2009.0 L973.2 2006.0 L974.2 2003.0 L975.2 2000.0 L976.1 1997.0 L976.9 1995.0 L977.6 1993.0 L978.2 1991.0 L978.7 1989.0 L979.2 1987.0 L979.6 1985.0 L979.9 1982.4 L980.1 1979.7 L980.2 1977.1 L980.2 1974.5 L980.3 1971.8 L980.3 1969.2Z" fill="#bca7d2"/>
<rect x="975.85" y="2057.10" width="14.50" height="90.00" fill="#566069"/>
<rect x="975.85" y="2096.30" width="14.50" height="6.60" fill="#fff"/>
<path d="M1037.5 1981.3 L1037.5 1984.4 L1037.6 1987.5 L1037.7 1990.7 L1037.9 1993.8 L1038.1 1996.9 L1038.5 2000.0 L1038.9 2005.3 L1039.4 2010.6 L1040.0 2015.9 L1040.7 2021.2 L1041.3 2026.5 L1042.0 2031.8 L1042.5 2036.5 L1043.1 2041.2 L1043.7 2045.9 L1044.2 2050.6 L1044.8 2055.3 L1045.5 2060.0 L1046.1 2064.2 L1046.8 2068.3 L1047.5 2072.5 L1048.2 2076.7 L1048.9 2080.8 L1049.5 2085.0 L1049.9 2087.6 L1050.4 2090.2 L1050.8 2092.8 L1051.1 2095.5 L1051.5 2098.1 L1052.0 2100.7 L1052.4 2104.8 L1053.0 2108.8 L1053.5 2112.8 L1054.0 2116.9 L1054.5 2120.9 L1055.0 2125.0 L1055.4 2129.2 L1055.7 2133.3 L1056.1 2137.5 L1056.4 2141.7 L1056.7 2145.8 L1057.0 2150.0 L1057.2 2153.3 L1057.4 2156.7 L1057.5 2160.0 L1057.7 2163.3 L1057.8 2166.7 L1058.0 2170.0 L1058.1 2173.0 L1058.2 2176.0 L1058.4 2179.0 L1058.5 2182.0 L1058.6 2185.0 L1058.5 2188.0 L1058.5 2190.8 L1058.4 2193.7 L1058.3 2196.5 L1058.1 2199.3 L1057.8 2202.2 L1057.5 2205.0 L1056.9 2207.8 L1056.3 2210.7 L1055.5 2213.5 L1054.7 2216.3 L1053.9 2219.2 L1053.0 2222.0 L1052.0 2225.0 L1050.9 2228.0 L1049.8 2231.0 L1048.6 2234.0 L1047.5 2237.0 L1046.5 2240.0 L1045.4 2242.8 L1044.3 2245.6 L1043.3 2248.4 L1042.3 2251.2 L1041.5 2254.0 L1041.0 2256.8 L1031.0 2256.8 L1030.4 2254.0 L1029.6 2251.2 L1028.6 2248.4 L1027.6 2245.6 L1026.5 2242.8 L1025.5 2240.0 L1024.4 2237.0 L1023.3 2234.0 L1022.1 2231.0 L1021.0 2228.0 L1019.9 2225.0 L1019.0 2222.0 L1018.0 2219.2 L1017.2 2216.3 L1016.4 2213.5 L1015.6 2210.7 L1015.0 2207.8 L1014.5 2205.0 L1014.1 2202.2 L1013.8 2199.3 L1013.6 2196.5 L1013.5 2193.7 L1013.4 2190.8 L1013.4 2188.0 L1013.3 2185.0 L1013.4 2182.0 L1013.5 2179.0 L1013.7 2176.0 L1013.8 2173.0 L1014.0 2170.0 L1014.1 2166.7 L1014.2 2163.3 L1014.4 2160.0 L1014.5 2156.7 L1014.7 2153.3 L1015.0 2150.0 L1015.2 2145.8 L1015.5 2141.7 L1015.8 2137.5 L1016.2 2133.3 L1016.5 2129.2 L1017.0 2125.0 L1017.4 2120.9 L1017.9 2116.9 L1018.4 2112.8 L1019.0 2108.8 L1019.5 2104.8 L1020.0 2100.7 L1020.4 2098.1 L1020.8 2095.5 L1021.1 2092.8 L1021.5 2090.2 L1022.0 2087.6 L1022.5 2085.0 L1023.0 2080.8 L1023.7 2076.7 L1024.4 2072.5 L1025.1 2068.3 L1025.8 2064.2 L1026.5 2060.0 L1027.1 2055.3 L1027.7 2050.6 L1028.2 2045.9 L1028.8 2041.2 L1029.4 2036.5 L1030.0 2031.8 L1030.6 2026.5 L1031.2 2021.2 L1031.9 2015.9 L1032.5 2010.6 L1033.0 2005.3 L1033.5 2000.0 L1033.8 1996.9 L1034.0 1993.8 L1034.2 1990.7 L1034.3 1987.5 L1034.4 1984.4 L1034.5 1981.3Z" fill="#af95c8"/>
<rect x="1028.70" y="2114.50" width="14.50" height="82.00" fill="#566069"/>
<rect x="1028.70" y="2154.40" width="14.50" height="6.60" fill="#fff"/>
<path d="M1090.3 1974.7 L1090.4 1978.9 L1090.5 1983.1 L1090.7 1987.3 L1090.9 1991.6 L1091.1 1995.8 L1091.3 2000.0 L1091.6 2004.6 L1091.8 2009.2 L1092.1 2013.8 L1092.5 2018.4 L1092.9 2023.0 L1093.3 2027.6 L1093.8 2032.2 L1094.3 2036.7 L1094.9 2041.3 L1095.5 2045.9 L1096.2 2050.4 L1096.8 2055.0 L1097.5 2058.9 L1098.2 2062.9 L1098.9 2066.8 L1099.6 2070.7 L1100.2 2074.7 L1100.8 2078.6 L1101.3 2082.2 L1101.7 2085.7 L1102.1 2089.3 L1102.5 2092.9 L1102.9 2096.4 L1103.3 2100.0 L1103.8 2104.2 L1104.2 2108.3 L1104.7 2112.5 L1105.2 2116.7 L1105.8 2120.8 L1106.3 2125.0 L1106.9 2129.2 L1107.5 2133.3 L1108.1 2137.5 L1108.8 2141.7 L1109.3 2145.8 L1109.8 2150.0 L1110.2 2153.0 L1110.5 2156.0 L1110.8 2158.9 L1111.1 2161.9 L1111.2 2164.9 L1111.3 2167.9 L1111.3 2170.8 L1111.3 2173.6 L1111.1 2176.4 L1110.9 2179.3 L1110.7 2182.2 L1110.3 2185.0 L1109.8 2187.5 L1109.3 2190.0 L1108.6 2192.5 L1107.9 2195.0 L1107.1 2197.5 L1106.3 2200.0 L1105.4 2202.5 L1104.4 2205.0 L1103.3 2207.5 L1102.3 2210.0 L1101.2 2212.5 L1100.3 2215.0 L1099.4 2217.3 L1098.5 2219.5 L1097.7 2221.8 L1096.9 2224.1 L1096.3 2226.3 L1095.8 2228.6 L1081.8 2228.6 L1081.3 2226.3 L1080.7 2224.1 L1079.9 2221.8 L1079.1 2219.5 L1078.2 2217.3 L1077.3 2215.0 L1076.4 2212.5 L1075.3 2210.0 L1074.3 2207.5 L1073.2 2205.0 L1072.2 2202.5 L1071.3 2200.0 L1070.5 2197.5 L1069.7 2195.0 L1069.0 2192.5 L1068.3 2190.0 L1067.8 2187.5 L1067.3 2185.0 L1066.9 2182.2 L1066.7 2179.3 L1066.5 2176.4 L1066.3 2173.6 L1066.3 2170.8 L1066.3 2167.9 L1066.4 2164.9 L1066.5 2161.9 L1066.8 2158.9 L1067.1 2156.0 L1067.4 2153.0 L1067.8 2150.0 L1068.3 2145.8 L1068.8 2141.7 L1069.5 2137.5 L1070.1 2133.3 L1070.7 2129.2 L1071.3 2125.0 L1071.8 2120.8 L1072.4 2116.7 L1072.9 2112.5 L1073.4 2108.3 L1073.8 2104.2 L1074.3 2100.0 L1074.7 2096.4 L1075.1 2092.9 L1075.5 2089.3 L1075.9 2085.7 L1076.3 2082.2 L1076.8 2078.6 L1077.4 2074.7 L1078.0 2070.7 L1078.7 2066.8 L1079.4 2062.9 L1080.1 2058.9 L1080.8 2055.0 L1081.4 2050.4 L1082.1 2045.9 L1082.7 2041.3 L1083.3 2036.7 L1083.8 2032.2 L1084.3 2027.6 L1084.7 2023.0 L1085.1 2018.4 L1085.5 2013.8 L1085.8 2009.2 L1086.0 2004.6 L1086.3 2000.0 L1086.5 1995.8 L1086.7 1991.6 L1086.9 1987.3 L1087.1 1983.1 L1087.2 1978.9 L1087.3 1974.7Z" fill="#b9e4df"/>
<rect x="1081.55" y="2097.70" width="14.50" height="82.10" fill="#566069"/>
<rect x="1081.55" y="2144.70" width="14.50" height="6.60" fill="#fff"/>
<path d="M1158.7 2068.9 L1159.0 2070.8 L1159.5 2072.6 L1160.0 2074.4 L1160.6 2076.3 L1161.2 2078.2 L1161.7 2080.0 L1162.1 2082.7 L1162.4 2085.5 L1162.8 2088.2 L1163.1 2090.9 L1163.3 2093.7 L1163.5 2096.4 L1163.5 2098.7 L1163.4 2100.9 L1163.2 2103.2 L1163.0 2105.5 L1162.8 2107.7 L1162.5 2110.0 L1162.1 2112.5 L1161.7 2115.0 L1161.2 2117.5 L1160.7 2120.0 L1160.1 2122.5 L1159.7 2125.0 L1159.2 2127.5 L1158.7 2130.0 L1158.2 2132.5 L1157.7 2135.0 L1157.2 2137.5 L1156.7 2140.0 L1156.2 2142.5 L1155.7 2145.0 L1155.2 2147.5 L1154.7 2150.0 L1154.2 2152.5 L1153.7 2155.0 L1153.1 2157.5 L1152.5 2160.0 L1151.9 2162.5 L1151.3 2165.0 L1150.7 2167.5 L1150.2 2170.0 L1149.5 2172.5 L1148.9 2175.0 L1148.3 2177.5 L1147.6 2180.0 L1147.1 2182.5 L1146.7 2185.0 L1146.3 2186.4 L1146.0 2187.8 L1145.9 2189.2 L1145.7 2190.6 L1145.6 2192.0 L1145.5 2193.4 L1145.3 2196.2 L1145.3 2198.9 L1145.2 2201.7 L1145.2 2204.5 L1145.2 2207.2 L1145.2 2210.0 L1145.2 2213.3 L1145.2 2216.5 L1145.2 2219.8 L1145.2 2223.1 L1145.2 2226.3 L1145.2 2229.6 L1138.2 2229.6 L1138.2 2226.3 L1138.2 2223.1 L1138.2 2219.8 L1138.2 2216.5 L1138.2 2213.3 L1138.2 2210.0 L1138.1 2207.2 L1138.1 2204.5 L1138.1 2201.7 L1138.0 2198.9 L1138.0 2196.2 L1137.9 2193.4 L1137.7 2192.0 L1137.6 2190.6 L1137.5 2189.2 L1137.3 2187.8 L1137.0 2186.4 L1136.7 2185.0 L1136.2 2182.5 L1135.7 2180.0 L1135.0 2177.5 L1134.4 2175.0 L1133.8 2172.5 L1133.2 2170.0 L1132.6 2167.5 L1132.0 2165.0 L1131.4 2162.5 L1130.8 2160.0 L1130.2 2157.5 L1129.7 2155.0 L1129.1 2152.5 L1128.6 2150.0 L1128.1 2147.5 L1127.6 2145.0 L1127.1 2142.5 L1126.7 2140.0 L1126.1 2137.5 L1125.6 2135.0 L1125.1 2132.5 L1124.6 2130.0 L1124.1 2127.5 L1123.7 2125.0 L1123.2 2122.5 L1122.6 2120.0 L1122.1 2117.5 L1121.6 2115.0 L1121.2 2112.5 L1120.9 2110.0 L1120.5 2107.7 L1120.3 2105.5 L1120.1 2103.2 L1119.9 2100.9 L1119.8 2098.7 L1119.9 2096.4 L1120.0 2093.7 L1120.2 2090.9 L1120.5 2088.2 L1120.9 2085.5 L1121.2 2082.7 L1121.7 2080.0 L1122.1 2078.2 L1122.7 2076.3 L1123.3 2074.4 L1123.8 2072.6 L1124.3 2070.8 L1124.7 2068.9Z" fill="#b8e3d2"/>
<rect x="1134.40" y="2084.20" width="14.50" height="48.50" fill="#566069"/>
<rect x="1134.40" y="2092.60" width="14.50" height="6.60" fill="#fff"/>
<path d="M1195.4 2005.1 L1195.4 2020.9 L1195.4 2036.7 L1195.4 2052.6 L1195.4 2068.4 L1195.4 2084.2 L1195.5 2100.0 L1195.7 2103.3 L1195.9 2106.7 L1196.1 2110.0 L1196.4 2113.3 L1196.7 2116.7 L1197.0 2120.0 L1197.4 2123.3 L1197.8 2126.7 L1198.2 2130.0 L1198.7 2133.3 L1199.1 2136.7 L1199.5 2140.0 L1199.9 2142.5 L1200.2 2145.0 L1200.5 2147.5 L1200.8 2150.0 L1201.1 2152.5 L1201.5 2155.0 L1201.9 2157.5 L1202.2 2160.0 L1202.6 2162.5 L1203.0 2165.0 L1203.4 2167.5 L1204.0 2170.0 L1204.7 2172.5 L1205.5 2175.0 L1206.3 2177.5 L1207.2 2180.0 L1208.1 2182.5 L1209.0 2185.0 L1209.9 2187.2 L1210.8 2189.3 L1211.7 2191.5 L1212.6 2193.7 L1213.4 2195.8 L1214.0 2198.0 L1214.5 2200.2 L1215.0 2202.4 L1215.3 2204.6 L1215.6 2206.8 L1215.7 2209.0 L1215.8 2211.2 L1215.8 2213.3 L1215.6 2215.5 L1215.4 2217.6 L1215.0 2219.7 L1214.6 2221.9 L1214.0 2224.0 L1213.2 2226.3 L1212.3 2228.7 L1211.3 2231.0 L1210.2 2233.3 L1209.1 2235.7 L1208.0 2238.0 L1206.9 2240.3 L1205.8 2242.7 L1204.6 2245.0 L1203.5 2247.3 L1202.4 2249.7 L1201.5 2252.0 L1200.7 2253.7 L1200.0 2255.3 L1199.4 2257.0 L1198.9 2258.7 L1198.4 2260.3 L1198.0 2262.0 L1197.7 2262.9 L1197.4 2263.8 L1197.3 2264.7 L1197.2 2265.5 L1197.1 2266.4 L1197.0 2267.3 L1192.0 2267.3 L1191.9 2266.4 L1191.8 2265.5 L1191.7 2264.7 L1191.6 2263.8 L1191.3 2262.9 L1191.0 2262.0 L1190.6 2260.3 L1190.1 2258.7 L1189.6 2257.0 L1189.0 2255.3 L1188.3 2253.7 L1187.5 2252.0 L1186.6 2249.7 L1185.5 2247.3 L1184.4 2245.0 L1183.2 2242.7 L1182.1 2240.3 L1181.0 2238.0 L1179.9 2235.7 L1178.8 2233.3 L1177.7 2231.0 L1176.7 2228.7 L1175.8 2226.3 L1175.0 2224.0 L1174.4 2221.9 L1174.0 2219.7 L1173.6 2217.6 L1173.4 2215.5 L1173.2 2213.3 L1173.2 2211.2 L1173.3 2209.0 L1173.4 2206.8 L1173.7 2204.6 L1174.0 2202.4 L1174.5 2200.2 L1175.0 2198.0 L1175.6 2195.8 L1176.4 2193.7 L1177.3 2191.5 L1178.2 2189.3 L1179.1 2187.2 L1180.0 2185.0 L1180.9 2182.5 L1181.8 2180.0 L1182.7 2177.5 L1183.5 2175.0 L1184.3 2172.5 L1185.0 2170.0 L1185.6 2167.5 L1186.0 2165.0 L1186.4 2162.5 L1186.8 2160.0 L1187.1 2157.5 L1187.5 2155.0 L1187.9 2152.5 L1188.2 2150.0 L1188.5 2147.5 L1188.8 2145.0 L1189.1 2142.5 L1189.5 2140.0 L1189.9 2136.7 L1190.3 2133.3 L1190.8 2130.0 L1191.2 2126.7 L1191.6 2123.3 L1192.0 2120.0 L1192.3 2116.7 L1192.6 2113.3 L1192.9 2110.0 L1193.1 2106.7 L1193.3 2103.3 L1193.5 2100.0 L1193.6 2084.2 L1193.6 2068.4 L1193.6 2052.6 L1193.6 2036.7 L1193.6 2020.9 L1193.6 2005.1Z" fill="#d4dab0"/>
<rect x="1187.25" y="2182.70" width="14.50" height="42.60" fill="#566069"/>
<rect x="1187.25" y="2203.60" width="14.50" height="6.60" fill="#fff"/>
<path d="M1248.3 1924.7 L1248.4 1930.6 L1248.3 1936.5 L1248.3 1942.3 L1248.4 1948.2 L1248.4 1954.1 L1248.5 1960.0 L1248.7 1962.5 L1249.0 1965.0 L1249.2 1967.5 L1249.6 1970.0 L1249.9 1972.5 L1250.3 1975.0 L1250.8 1977.5 L1251.4 1980.0 L1252.1 1982.5 L1252.7 1985.0 L1253.3 1987.5 L1253.8 1990.0 L1254.3 1992.0 L1254.7 1994.0 L1255.1 1996.0 L1255.4 1998.0 L1255.9 2000.0 L1256.3 2002.0 L1256.9 2005.0 L1257.6 2008.0 L1258.3 2011.0 L1259.0 2014.0 L1259.7 2017.0 L1260.3 2020.0 L1261.0 2023.3 L1261.7 2026.7 L1262.4 2030.0 L1263.1 2033.3 L1263.7 2036.7 L1264.3 2040.0 L1264.9 2043.3 L1265.5 2046.7 L1266.0 2050.0 L1266.5 2053.3 L1267.0 2056.7 L1267.3 2060.0 L1267.7 2062.5 L1267.9 2065.0 L1268.1 2067.5 L1268.3 2070.0 L1268.4 2072.5 L1268.5 2075.0 L1268.7 2076.9 L1268.8 2078.7 L1268.9 2080.6 L1268.9 2082.5 L1269.0 2084.3 L1268.9 2086.2 L1268.9 2088.5 L1268.9 2090.8 L1268.8 2093.1 L1268.7 2095.4 L1268.6 2097.7 L1268.3 2100.0 L1268.1 2103.3 L1267.7 2106.7 L1267.3 2110.0 L1266.8 2113.3 L1266.3 2116.7 L1265.8 2120.0 L1265.3 2123.3 L1264.7 2126.7 L1264.1 2130.0 L1263.5 2133.3 L1262.9 2136.7 L1262.3 2140.0 L1261.8 2142.5 L1261.4 2145.0 L1260.9 2147.6 L1260.4 2150.1 L1259.9 2152.6 L1259.3 2155.1 L1258.7 2157.6 L1257.9 2160.1 L1257.2 2162.6 L1256.4 2165.0 L1255.6 2167.5 L1254.8 2170.0 L1254.1 2172.5 L1253.4 2175.0 L1252.7 2177.5 L1252.0 2180.0 L1251.4 2182.5 L1250.8 2185.0 L1250.4 2186.4 L1250.0 2187.8 L1249.6 2189.2 L1249.3 2190.6 L1249.0 2192.0 L1248.8 2193.4 L1248.8 2198.4 L1248.8 2203.4 L1248.8 2208.4 L1248.8 2213.5 L1248.8 2218.5 L1248.8 2223.5 L1245.8 2223.5 L1245.8 2218.5 L1245.8 2213.5 L1245.8 2208.4 L1245.8 2203.4 L1245.8 2198.4 L1245.8 2193.4 L1245.7 2192.0 L1245.4 2190.6 L1245.1 2189.2 L1244.7 2187.8 L1244.3 2186.4 L1243.8 2185.0 L1243.3 2182.5 L1242.7 2180.0 L1242.0 2177.5 L1241.3 2175.0 L1240.6 2172.5 L1239.8 2170.0 L1239.1 2167.5 L1238.3 2165.0 L1237.5 2162.6 L1236.8 2160.1 L1236.0 2157.6 L1235.3 2155.1 L1234.8 2152.6 L1234.3 2150.1 L1233.8 2147.6 L1233.3 2145.0 L1232.9 2142.5 L1232.3 2140.0 L1231.8 2136.7 L1231.2 2133.3 L1230.6 2130.0 L1230.0 2126.7 L1229.4 2123.3 L1228.8 2120.0 L1228.4 2116.7 L1227.9 2113.3 L1227.4 2110.0 L1227.0 2106.7 L1226.6 2103.3 L1226.3 2100.0 L1226.1 2097.7 L1226.0 2095.4 L1225.9 2093.1 L1225.8 2090.8 L1225.8 2088.5 L1225.8 2086.2 L1225.7 2084.3 L1225.8 2082.5 L1225.8 2080.6 L1225.9 2078.7 L1226.0 2076.9 L1226.1 2075.0 L1226.3 2072.5 L1226.4 2070.0 L1226.6 2067.5 L1226.8 2065.0 L1227.0 2062.5 L1227.3 2060.0 L1227.7 2056.7 L1228.2 2053.3 L1228.7 2050.0 L1229.2 2046.7 L1229.8 2043.3 L1230.3 2040.0 L1231.0 2036.7 L1231.6 2033.3 L1232.3 2030.0 L1233.0 2026.7 L1233.7 2023.3 L1234.3 2020.0 L1235.0 2017.0 L1235.7 2014.0 L1236.4 2011.0 L1237.1 2008.0 L1237.8 2005.0 L1238.3 2002.0 L1238.8 2000.0 L1239.3 1998.0 L1239.6 1996.0 L1240.0 1994.0 L1240.4 1992.0 L1240.8 1990.0 L1241.4 1987.5 L1242.0 1985.0 L1242.6 1982.5 L1243.3 1980.0 L1243.9 1977.5 L1244.3 1975.0 L1244.8 1972.5 L1245.1 1970.0 L1245.5 1967.5 L1245.7 1965.0 L1246.0 1962.5 L1246.1 1960.0 L1246.3 1954.1 L1246.3 1948.2 L1246.4 1942.3 L1246.4 1936.5 L1246.3 1930.6 L1246.3 1924.7Z" fill="#d3e79d"/>
<rect x="1240.10" y="2046.70" width="14.50" height="72.20" fill="#566069"/>
<rect x="1240.10" y="2082.20" width="14.50" height="6.60" fill="#fff"/>
<path d="M1302.2 2007.1 L1302.4 2009.2 L1302.8 2011.4 L1303.2 2013.5 L1303.6 2015.7 L1304.1 2017.8 L1304.7 2020.0 L1305.3 2023.4 L1306.1 2026.8 L1306.9 2030.2 L1307.7 2033.5 L1308.5 2036.9 L1309.2 2040.3 L1309.9 2042.8 L1310.5 2045.2 L1311.2 2047.7 L1311.8 2050.1 L1312.5 2052.6 L1313.2 2055.0 L1314.0 2057.5 L1314.9 2060.0 L1315.8 2062.5 L1316.7 2065.0 L1317.5 2067.5 L1318.2 2070.0 L1318.8 2071.7 L1319.4 2073.3 L1319.9 2075.0 L1320.3 2076.7 L1320.7 2078.3 L1321.0 2080.0 L1321.3 2081.5 L1321.5 2082.9 L1321.7 2084.4 L1321.8 2085.9 L1321.9 2087.3 L1321.9 2088.8 L1321.9 2090.3 L1321.8 2091.9 L1321.7 2093.4 L1321.5 2094.9 L1321.3 2096.5 L1321.0 2098.0 L1320.6 2100.0 L1320.2 2102.0 L1319.6 2104.0 L1319.1 2106.0 L1318.4 2108.0 L1317.7 2110.0 L1316.9 2112.5 L1316.0 2115.0 L1315.1 2117.5 L1314.1 2120.0 L1313.1 2122.5 L1312.2 2125.0 L1311.3 2127.9 L1310.4 2130.8 L1309.6 2133.7 L1308.7 2136.5 L1307.9 2139.4 L1307.2 2142.3 L1306.5 2145.2 L1305.9 2148.2 L1305.3 2151.2 L1304.7 2154.1 L1304.2 2157.1 L1303.7 2160.0 L1303.3 2162.5 L1302.9 2165.0 L1302.5 2167.5 L1302.2 2170.0 L1301.9 2172.5 L1301.7 2175.0 L1301.5 2176.4 L1301.4 2177.7 L1301.3 2179.1 L1301.3 2180.5 L1301.2 2181.8 L1301.2 2183.2 L1299.2 2183.2 L1299.2 2181.8 L1299.1 2180.5 L1299.1 2179.1 L1299.0 2177.7 L1298.9 2176.4 L1298.7 2175.0 L1298.5 2172.5 L1298.2 2170.0 L1297.9 2167.5 L1297.5 2165.0 L1297.1 2162.5 L1296.7 2160.0 L1296.2 2157.1 L1295.7 2154.1 L1295.1 2151.2 L1294.5 2148.2 L1293.9 2145.2 L1293.2 2142.3 L1292.5 2139.4 L1291.7 2136.5 L1290.8 2133.7 L1290.0 2130.8 L1289.1 2127.9 L1288.2 2125.0 L1287.3 2122.5 L1286.3 2120.0 L1285.3 2117.5 L1284.4 2115.0 L1283.5 2112.5 L1282.7 2110.0 L1282.0 2108.0 L1281.3 2106.0 L1280.8 2104.0 L1280.2 2102.0 L1279.8 2100.0 L1279.4 2098.0 L1279.1 2096.5 L1278.9 2094.9 L1278.7 2093.4 L1278.6 2091.9 L1278.5 2090.3 L1278.5 2088.8 L1278.5 2087.3 L1278.6 2085.9 L1278.7 2084.4 L1278.9 2082.9 L1279.1 2081.5 L1279.4 2080.0 L1279.7 2078.3 L1280.1 2076.7 L1280.5 2075.0 L1281.0 2073.3 L1281.6 2071.7 L1282.2 2070.0 L1282.9 2067.5 L1283.7 2065.0 L1284.6 2062.5 L1285.5 2060.0 L1286.4 2057.5 L1287.2 2055.0 L1287.9 2052.6 L1288.6 2050.1 L1289.2 2047.7 L1289.9 2045.2 L1290.5 2042.8 L1291.2 2040.3 L1291.9 2036.9 L1292.7 2033.5 L1293.5 2030.2 L1294.3 2026.8 L1295.1 2023.4 L1295.7 2020.0 L1296.3 2017.8 L1296.8 2015.7 L1297.2 2013.5 L1297.6 2011.4 L1298.0 2009.2 L1298.2 2007.1Z" fill="#bac3aa"/>
<rect x="1292.95" y="2067.90" width="14.50" height="45.60" fill="#566069"/>
<rect x="1292.95" y="2087.50" width="14.50" height="6.60" fill="#fff"/>
<path d="M1356.1 1947.2 L1356.3 1950.2 L1356.6 1953.1 L1357.1 1956.1 L1357.5 1959.1 L1358.0 1962.0 L1358.6 1965.0 L1359.1 1968.3 L1359.8 1971.7 L1360.5 1975.0 L1361.2 1978.3 L1361.9 1981.7 L1362.6 1985.0 L1363.2 1987.8 L1363.7 1990.7 L1364.3 1993.5 L1364.9 1996.3 L1365.4 1999.2 L1366.1 2002.0 L1366.7 2005.8 L1367.4 2009.7 L1368.1 2013.5 L1368.8 2017.3 L1369.5 2021.2 L1370.1 2025.0 L1370.6 2028.3 L1371.1 2031.7 L1371.5 2035.0 L1371.9 2038.3 L1372.2 2041.7 L1372.6 2045.0 L1372.8 2048.5 L1373.0 2051.9 L1373.2 2055.4 L1373.3 2058.9 L1373.4 2062.3 L1373.6 2065.8 L1373.7 2069.8 L1373.7 2073.9 L1373.8 2077.9 L1373.9 2081.9 L1373.9 2086.0 L1373.9 2090.0 L1373.8 2095.0 L1373.6 2100.0 L1373.5 2105.0 L1373.3 2110.0 L1373.1 2115.0 L1373.1 2120.0 L1373.0 2125.0 L1373.1 2130.0 L1373.1 2135.0 L1373.2 2140.0 L1373.3 2145.0 L1373.4 2150.0 L1373.4 2155.0 L1373.6 2160.0 L1373.7 2165.0 L1373.8 2170.0 L1373.9 2175.0 L1374.1 2180.0 L1374.2 2184.2 L1374.3 2188.3 L1374.5 2192.5 L1374.6 2196.7 L1374.8 2200.8 L1374.9 2205.0 L1374.9 2207.3 L1375.0 2209.6 L1375.1 2211.9 L1375.1 2214.3 L1375.1 2216.6 L1375.1 2218.9 L1374.9 2221.6 L1374.8 2224.3 L1374.5 2226.9 L1374.3 2229.6 L1373.9 2232.3 L1373.6 2235.0 L1373.1 2237.5 L1372.6 2240.0 L1372.0 2242.5 L1371.4 2245.0 L1370.7 2247.5 L1370.1 2250.0 L1369.4 2252.5 L1368.6 2255.0 L1367.8 2257.5 L1367.1 2260.0 L1366.3 2262.5 L1365.6 2265.0 L1364.8 2267.4 L1364.0 2269.8 L1363.2 2272.2 L1362.4 2274.5 L1361.8 2276.9 L1361.4 2279.3 L1344.8 2279.3 L1344.3 2276.9 L1343.7 2274.5 L1342.9 2272.2 L1342.1 2269.8 L1341.3 2267.4 L1340.6 2265.0 L1339.8 2262.5 L1339.0 2260.0 L1338.3 2257.5 L1337.5 2255.0 L1336.7 2252.5 L1336.1 2250.0 L1335.4 2247.5 L1334.7 2245.0 L1334.1 2242.5 L1333.5 2240.0 L1333.0 2237.5 L1332.6 2235.0 L1332.2 2232.3 L1331.8 2229.6 L1331.6 2226.9 L1331.4 2224.3 L1331.2 2221.6 L1331.1 2218.9 L1331.0 2216.6 L1331.0 2214.3 L1331.0 2211.9 L1331.1 2209.6 L1331.2 2207.3 L1331.3 2205.0 L1331.3 2200.8 L1331.5 2196.7 L1331.6 2192.5 L1331.8 2188.3 L1331.9 2184.2 L1332.1 2180.0 L1332.2 2175.0 L1332.3 2170.0 L1332.4 2165.0 L1332.6 2160.0 L1332.7 2155.0 L1332.8 2150.0 L1332.8 2145.0 L1332.9 2140.0 L1333.0 2135.0 L1333.0 2130.0 L1333.1 2125.0 L1333.1 2120.0 L1333.0 2115.0 L1332.8 2110.0 L1332.7 2105.0 L1332.5 2100.0 L1332.3 2095.0 L1332.3 2090.0 L1332.2 2086.0 L1332.2 2081.9 L1332.3 2077.9 L1332.4 2073.9 L1332.4 2069.8 L1332.6 2065.8 L1332.7 2062.3 L1332.8 2058.9 L1332.9 2055.4 L1333.1 2051.9 L1333.3 2048.5 L1333.6 2045.0 L1333.9 2041.7 L1334.2 2038.3 L1334.6 2035.0 L1335.1 2031.7 L1335.5 2028.3 L1336.1 2025.0 L1336.6 2021.2 L1337.3 2017.3 L1338.0 2013.5 L1338.7 2009.7 L1339.4 2005.8 L1340.1 2002.0 L1340.7 1999.2 L1341.2 1996.3 L1341.8 1993.5 L1342.4 1990.7 L1342.9 1987.8 L1343.6 1985.0 L1344.2 1981.7 L1344.9 1978.3 L1345.6 1975.0 L1346.3 1971.7 L1347.0 1968.3 L1347.6 1965.0 L1348.1 1962.0 L1348.6 1959.1 L1349.1 1956.1 L1349.5 1953.1 L1349.8 1950.2 L1350.1 1947.2Z" fill="#eda1ca"/>
<rect x="1345.80" y="2065.00" width="14.50" height="146.70" fill="#566069"/>
<rect x="1345.80" y="2133.90" width="14.50" height="6.60" fill="#fff"/>
<circle cx="244.90" cy="2125.70" r="1.20" fill="#ee1c25"/>
<circle cx="244.00" cy="2145.00" r="1.20" fill="#ee1c25"/>
<circle cx="246.00" cy="2151.80" r="1.20" fill="#ee1c25"/>
<circle cx="250.60" cy="2151.80" r="1.20" fill="#ee1c25"/>
<circle cx="304.60" cy="2117.00" r="1.20" fill="#ee1c25"/>
<circle cx="298.40" cy="2128.60" r="1.20" fill="#ee1c25"/>
<circle cx="300.60" cy="2150.00" r="1.20" fill="#ee1c25"/>
<circle cx="300.50" cy="2160.50" r="1.20" fill="#ee1c25"/>
<circle cx="300.90" cy="2165.40" r="1.20" fill="#ee1c25"/>
<circle cx="302.00" cy="2165.40" r="1.20" fill="#ee1c25"/>
<circle cx="349.30" cy="2099.50" r="1.20" fill="#ee1c25"/>
<circle cx="352.30" cy="2103.60" r="1.20" fill="#ee1c25"/>
<circle cx="350.30" cy="2106.30" r="1.20" fill="#ee1c25"/>
<circle cx="405.60" cy="2103.40" r="1.20" fill="#ee1c25"/>
<circle cx="407.40" cy="2155.70" r="1.20" fill="#ee1c25"/>
<circle cx="404.00" cy="2161.50" r="1.20" fill="#ee1c25"/>
<circle cx="410.30" cy="2177.90" r="1.20" fill="#ee1c25"/>
<circle cx="414.30" cy="2185.80" r="1.20" fill="#ee1c25"/>
<circle cx="404.90" cy="2186.40" r="1.20" fill="#ee1c25"/>
<circle cx="403.50" cy="2188.60" r="1.20" fill="#ee1c25"/>
<circle cx="402.50" cy="2191.00" r="1.20" fill="#ee1c25"/>
<circle cx="407.00" cy="2195.30" r="1.20" fill="#ee1c25"/>
<circle cx="464.50" cy="2097.60" r="1.20" fill="#ee1c25"/>
<circle cx="460.20" cy="2120.80" r="1.20" fill="#ee1c25"/>
<circle cx="456.50" cy="2121.90" r="1.20" fill="#ee1c25"/>
<circle cx="458.80" cy="2136.40" r="1.20" fill="#ee1c25"/>
<circle cx="463.40" cy="2138.20" r="1.20" fill="#ee1c25"/>
<circle cx="457.00" cy="2141.80" r="1.20" fill="#ee1c25"/>
<circle cx="457.70" cy="2147.00" r="1.20" fill="#ee1c25"/>
<circle cx="458.60" cy="2151.80" r="1.20" fill="#ee1c25"/>
<circle cx="456.00" cy="2155.70" r="1.20" fill="#ee1c25"/>
<circle cx="457.60" cy="2157.80" r="1.20" fill="#ee1c25"/>
<circle cx="462.70" cy="2157.60" r="1.20" fill="#ee1c25"/>
<circle cx="459.90" cy="2160.60" r="1.20" fill="#ee1c25"/>
<circle cx="511.40" cy="2066.80" r="1.20" fill="#ee1c25"/>
<circle cx="512.90" cy="2076.50" r="1.20" fill="#ee1c25"/>
<circle cx="520.00" cy="2086.20" r="1.20" fill="#ee1c25"/>
<circle cx="512.90" cy="2091.00" r="1.20" fill="#ee1c25"/>
<circle cx="508.40" cy="2100.60" r="1.20" fill="#ee1c25"/>
<circle cx="514.00" cy="2100.60" r="1.20" fill="#ee1c25"/>
<circle cx="514.30" cy="2102.60" r="1.20" fill="#ee1c25"/>
<circle cx="509.00" cy="2116.00" r="1.20" fill="#ee1c25"/>
<circle cx="508.50" cy="2121.80" r="1.20" fill="#ee1c25"/>
<circle cx="511.60" cy="2121.00" r="1.20" fill="#ee1c25"/>
<circle cx="512.90" cy="2129.80" r="1.20" fill="#ee1c25"/>
<circle cx="511.00" cy="2132.70" r="1.20" fill="#ee1c25"/>
<circle cx="512.40" cy="2134.80" r="1.20" fill="#ee1c25"/>
<circle cx="507.90" cy="2140.30" r="1.20" fill="#ee1c25"/>
<circle cx="516.00" cy="2046.40" r="1.20" fill="#e8d800"/>
<circle cx="564.40" cy="2097.80" r="1.20" fill="#ee1c25"/>
<circle cx="568.90" cy="2101.70" r="1.20" fill="#ee1c25"/>
<circle cx="561.70" cy="2109.30" r="1.20" fill="#ee1c25"/>
<circle cx="561.30" cy="2118.00" r="1.20" fill="#ee1c25"/>
<circle cx="562.70" cy="2129.70" r="1.20" fill="#ee1c25"/>
<circle cx="570.00" cy="2140.40" r="1.20" fill="#ee1c25"/>
<circle cx="672.50" cy="2104.50" r="1.20" fill="#ee1c25"/>
<circle cx="669.00" cy="2110.00" r="1.20" fill="#ee1c25"/>
<circle cx="670.60" cy="2108.60" r="1.20" fill="#ee1c25"/>
<circle cx="721.30" cy="2109.30" r="1.20" fill="#ee1c25"/>
<circle cx="727.70" cy="2120.00" r="1.20" fill="#ee1c25"/>
<circle cx="728.20" cy="2128.80" r="1.20" fill="#ee1c25"/>
<circle cx="727.00" cy="2133.60" r="1.20" fill="#ee1c25"/>
<circle cx="719.40" cy="2136.40" r="1.20" fill="#ee1c25"/>
<circle cx="722.70" cy="2137.60" r="1.20" fill="#ee1c25"/>
<circle cx="773.20" cy="2085.00" r="1.20" fill="#ee1c25"/>
<circle cx="780.50" cy="2083.30" r="1.20" fill="#ee1c25"/>
<circle cx="773.20" cy="2090.00" r="1.20" fill="#ee1c25"/>
<circle cx="828.60" cy="2006.90" r="1.20" fill="#e8d800"/>
<circle cx="825.50" cy="2033.00" r="1.20" fill="#e8d800"/>
<circle cx="831.40" cy="2032.00" r="1.20" fill="#e8d800"/>
<circle cx="827.80" cy="2044.50" r="1.20" fill="#e8d800"/>
<circle cx="829.70" cy="2049.50" r="1.20" fill="#e8d800"/>
<circle cx="880.70" cy="2101.60" r="1.20" fill="#ee1c25"/>
<circle cx="883.20" cy="2122.90" r="1.20" fill="#ee1c25"/>
<circle cx="880.40" cy="2126.60" r="1.20" fill="#ee1c25"/>
<circle cx="881.40" cy="2132.50" r="1.20" fill="#ee1c25"/>
<circle cx="1036.60" cy="1981.30" r="1.30" fill="#5b2a86"/>
<circle cx="1041.50" cy="1978.80" r="1.30" fill="#5b2a86"/>
<circle cx="1091.20" cy="1974.10" r="1.20" fill="#5ebfb5"/>
<circle cx="1203.10" cy="2005.00" r="1.20" fill="#a7b65a"/>
<circle cx="1207.00" cy="2065.00" r="1.20" fill="#a7b65a"/>
<circle cx="1204.00" cy="2078.30" r="1.20" fill="#a7b65a"/>
<circle cx="1196.00" cy="2091.80" r="1.20" fill="#a7b65a"/>
<circle cx="1198.50" cy="2110.60" r="1.20" fill="#a7b65a"/>
<circle cx="1195.30" cy="2114.20" r="1.20" fill="#a7b65a"/>
<circle cx="1199.00" cy="2114.00" r="1.20" fill="#a7b65a"/>
<circle cx="1203.00" cy="2119.00" r="1.20" fill="#a7b65a"/>
<circle cx="1250.40" cy="1923.80" r="1.20" fill="#9bc53d"/>
</svg>
</body></html>
